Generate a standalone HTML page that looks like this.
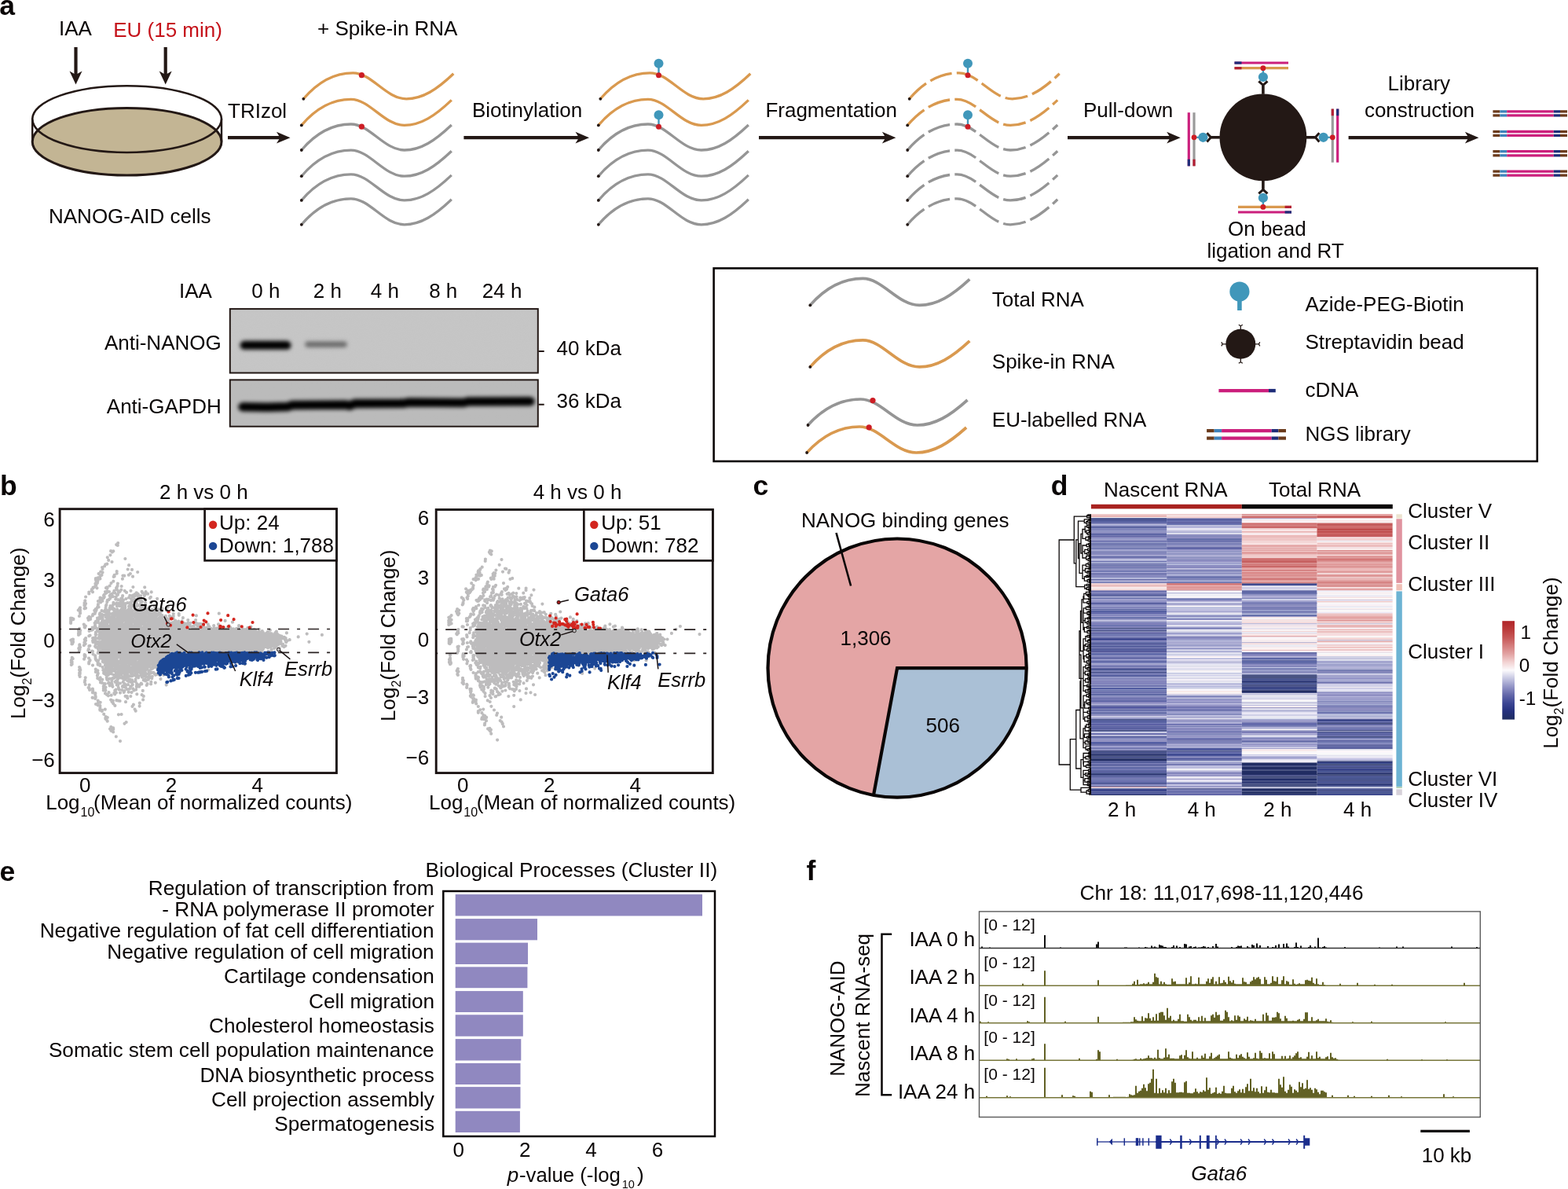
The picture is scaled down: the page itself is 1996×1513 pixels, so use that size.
<!DOCTYPE html>
<html><head><meta charset="utf-8"><title>Figure</title>
<style>
html,body{margin:0;padding:0;background:#fff;}
svg{display:block;}
svg{font-family:"Liberation Sans",Arial,sans-serif;font-size:26px;fill:#0a0606;}
</style></head><body>
<svg width="1996" height="1513" viewBox="0 0 1996 1513">
<defs>
<filter id="blur3" filterUnits="userSpaceOnUse" x="280" y="380" width="420" height="180"><feGaussianBlur stdDeviation="2.4"/></filter>
<filter id="grain" x="0" y="0" width="100%" height="100%"><feTurbulence type="fractalNoise" baseFrequency="0.9" numOctaves="1" seed="7"/><feColorMatrix type="matrix" values="0 0 0 0 0.5  0 0 0 0 0.5  0 0 0 0 0.5  1.6 0 0 0 -0.55"/><feComposite in2="SourceGraphic" operator="in"/></filter>
<filter id="blur1" x="-20%" y="-50%" width="140%" height="200%"><feGaussianBlur stdDeviation="1"/></filter>
</defs>
<rect width="1996" height="1513" fill="#fff"/>
<text x="-0.8" y="19.4" font-size="35.50" font-weight="bold">a</text>
<text x="75.0" y="44.5">IAA</text>
<text x="144.2" y="46.7" fill="#c5121a">EU (15 min)</text>
<text x="404.0" y="44.5">+ Spike-in RNA</text>
<path d="M96.5 60V95.5" stroke="#231815" stroke-width="4.2"/><path d="M96.5 107.5L88.5 90.5L96.5 95.0L104.5 90.5Z" fill="#231815"/>
<path d="M210.7 60V95.5" stroke="#231815" stroke-width="4.2"/><path d="M210.7 107.5L202.7 90.5L210.7 95.0L218.7 90.5Z" fill="#231815"/>
<ellipse cx="161.6" cy="180.2" rx="120.4" ry="42.8" fill="#c3b594" stroke="#231815" stroke-width="3"/>
<ellipse cx="161.6" cy="151.6" rx="120.4" ry="42.4" fill="none" stroke="#231815" stroke-width="2.6"/>
<path d="M41.19999999999999 151.6V180.2M282.0 151.6V180.2" stroke="#231815" stroke-width="2.4"/>
<text x="62.0" y="284.0">NANOG-AID cells</text>
<text x="290.0" y="150.0">TRIzol</text>
<path d="M290 175.2H357.5" stroke="#231815" stroke-width="4.2"/><path d="M369.5 175.2L352.0 167.79999999999998L356.5 175.2L352.0 182.6Z" fill="#231815"/>
<path d="M386.3 125.8C403.3 105.8 424.3 92.8 449.3 92.8C473.3 92.8 491.3 125.8 517.3 125.8C538.3 125.8 556.3 113.8 577.3 93.8" fill="none" stroke="#d9994f" stroke-width="3.3"/><circle cx="386.3" cy="125.8" r="1.9" fill="#231815"/>
<path d="M383.8 159.4C400.8 139.4 421.8 126.4 446.8 126.4C470.8 126.4 488.8 159.4 514.8 159.4C535.8 159.4 553.8 147.4 574.8 127.4" fill="none" stroke="#d9994f" stroke-width="3.3"/><circle cx="383.8" cy="159.4" r="1.9" fill="#231815"/>
<path d="M383.8 191.0C400.8 171.0 421.8 158.0 446.8 158.0C470.8 158.0 488.8 191.0 514.8 191.0C535.8 191.0 553.8 179.0 574.8 159.0" fill="none" stroke="#959595" stroke-width="3.3"/><circle cx="383.8" cy="191.0" r="1.9" fill="#231815"/>
<path d="M383.8 224.2C400.8 204.2 421.8 191.2 446.8 191.2C470.8 191.2 488.8 224.2 514.8 224.2C535.8 224.2 553.8 212.2 574.8 192.2" fill="none" stroke="#959595" stroke-width="3.3"/><circle cx="383.8" cy="224.2" r="1.9" fill="#231815"/>
<path d="M383.8 254.9C400.8 234.9 421.8 221.9 446.8 221.9C470.8 221.9 488.8 254.9 514.8 254.9C535.8 254.9 553.8 242.9 574.8 222.9" fill="none" stroke="#959595" stroke-width="3.3"/><circle cx="383.8" cy="254.9" r="1.9" fill="#231815"/>
<path d="M383.8 285.8C400.8 265.8 421.8 252.8 446.8 252.8C470.8 252.8 488.8 285.8 514.8 285.8C535.8 285.8 553.8 273.8 574.8 253.8" fill="none" stroke="#959595" stroke-width="3.3"/><circle cx="383.8" cy="285.8" r="1.9" fill="#231815"/>
<circle cx="460.4" cy="95.7" r="3.6" fill="#cd1d24"/>
<circle cx="460.4" cy="161.2" r="3.6" fill="#cd1d24"/>
<text x="601.0" y="148.6">Biotinylation</text>
<path d="M590.4 175.2H738" stroke="#231815" stroke-width="4.2"/><path d="M750 175.2L732.5 167.79999999999998L737.0 175.2L732.5 182.6Z" fill="#231815"/>
<path d="M764.3 125.8C781.3 105.8 802.3 92.8 827.3 92.8C851.3 92.8 869.3 125.8 895.3 125.8C916.3 125.8 934.3 113.8 955.3 93.8" fill="none" stroke="#d9994f" stroke-width="3.3"/><circle cx="764.3" cy="125.8" r="1.9" fill="#231815"/>
<path d="M761.8 159.4C778.8 139.4 799.8 126.4 824.8 126.4C848.8 126.4 866.8 159.4 892.8 159.4C913.8 159.4 931.8 147.4 952.8 127.4" fill="none" stroke="#d9994f" stroke-width="3.3"/><circle cx="761.8" cy="159.4" r="1.9" fill="#231815"/>
<path d="M761.8 191.0C778.8 171.0 799.8 158.0 824.8 158.0C848.8 158.0 866.8 191.0 892.8 191.0C913.8 191.0 931.8 179.0 952.8 159.0" fill="none" stroke="#959595" stroke-width="3.3"/><circle cx="761.8" cy="191.0" r="1.9" fill="#231815"/>
<path d="M761.8 224.2C778.8 204.2 799.8 191.2 824.8 191.2C848.8 191.2 866.8 224.2 892.8 224.2C913.8 224.2 931.8 212.2 952.8 192.2" fill="none" stroke="#959595" stroke-width="3.3"/><circle cx="761.8" cy="224.2" r="1.9" fill="#231815"/>
<path d="M761.8 254.9C778.8 234.9 799.8 221.9 824.8 221.9C848.8 221.9 866.8 254.9 892.8 254.9C913.8 254.9 931.8 242.9 952.8 222.9" fill="none" stroke="#959595" stroke-width="3.3"/><circle cx="761.8" cy="254.9" r="1.9" fill="#231815"/>
<path d="M761.8 285.8C778.8 265.8 799.8 252.8 824.8 252.8C848.8 252.8 866.8 285.8 892.8 285.8C913.8 285.8 931.8 273.8 952.8 253.8" fill="none" stroke="#959595" stroke-width="3.3"/><circle cx="761.8" cy="285.8" r="1.9" fill="#231815"/>
<path d="M838.5 95.7V79.7" stroke="#4097ba" stroke-width="2.4"/><circle cx="838.5" cy="80.7" r="6.0" fill="#4097ba"/><circle cx="838.5" cy="95.7" r="3.5" fill="#cd1d24"/>
<path d="M838.5 161.2V145.2" stroke="#4097ba" stroke-width="2.4"/><circle cx="838.5" cy="146.2" r="6.0" fill="#4097ba"/><circle cx="838.5" cy="161.2" r="3.5" fill="#cd1d24"/>
<text x="974.4" y="148.6">Fragmentation</text>
<path d="M966 175.2H1128.4" stroke="#231815" stroke-width="4.2"/><path d="M1140.4 175.2L1122.9 167.79999999999998L1127.4 175.2L1122.9 182.6Z" fill="#231815"/>
<path d="M1157.7 125.8C1174.7 105.8 1195.7 92.8 1220.7 92.8C1244.7 92.8 1262.7 125.8 1288.7 125.8C1309.7 125.8 1327.7 113.8 1348.7 93.8" fill="none" stroke="#d9994f" stroke-width="3.3" stroke-dasharray="29 6.3"/><circle cx="1157.7" cy="125.8" r="1.9" fill="#231815"/>
<path d="M1155.2 159.4C1172.2 139.4 1193.2 126.4 1218.2 126.4C1242.2 126.4 1260.2 159.4 1286.2 159.4C1307.2 159.4 1325.2 147.4 1346.2 127.4" fill="none" stroke="#d9994f" stroke-width="3.3" stroke-dasharray="29 6.3"/><circle cx="1155.2" cy="159.4" r="1.9" fill="#231815"/>
<path d="M1155.2 191.0C1172.2 171.0 1193.2 158.0 1218.2 158.0C1242.2 158.0 1260.2 191.0 1286.2 191.0C1307.2 191.0 1325.2 179.0 1346.2 159.0" fill="none" stroke="#959595" stroke-width="3.3" stroke-dasharray="29 6.3"/><circle cx="1155.2" cy="191.0" r="1.9" fill="#231815"/>
<path d="M1155.2 224.2C1172.2 204.2 1193.2 191.2 1218.2 191.2C1242.2 191.2 1260.2 224.2 1286.2 224.2C1307.2 224.2 1325.2 212.2 1346.2 192.2" fill="none" stroke="#959595" stroke-width="3.3" stroke-dasharray="29 6.3"/><circle cx="1155.2" cy="224.2" r="1.9" fill="#231815"/>
<path d="M1155.2 254.9C1172.2 234.9 1193.2 221.9 1218.2 221.9C1242.2 221.9 1260.2 254.9 1286.2 254.9C1307.2 254.9 1325.2 242.9 1346.2 222.9" fill="none" stroke="#959595" stroke-width="3.3" stroke-dasharray="29 6.3"/><circle cx="1155.2" cy="254.9" r="1.9" fill="#231815"/>
<path d="M1155.2 285.8C1172.2 265.8 1193.2 252.8 1218.2 252.8C1242.2 252.8 1260.2 285.8 1286.2 285.8C1307.2 285.8 1325.2 273.8 1346.2 253.8" fill="none" stroke="#959595" stroke-width="3.3" stroke-dasharray="29 6.3"/><circle cx="1155.2" cy="285.8" r="1.9" fill="#231815"/>
<path d="M1232 95.7V79.7" stroke="#4097ba" stroke-width="2.4"/><circle cx="1232" cy="80.7" r="6.0" fill="#4097ba"/><circle cx="1232" cy="95.7" r="3.5" fill="#cd1d24"/>
<path d="M1232 161.2V145.2" stroke="#4097ba" stroke-width="2.4"/><circle cx="1232" cy="146.2" r="6.0" fill="#4097ba"/><circle cx="1232" cy="161.2" r="3.5" fill="#cd1d24"/>
<text x="1379.0" y="148.6">Pull-down</text>
<path d="M1359 175.2H1490.7" stroke="#231815" stroke-width="4.2"/><path d="M1502.7 175.2L1485.2 167.79999999999998L1489.7 175.2L1485.2 182.6Z" fill="#231815"/>
<circle cx="1607.9" cy="174.8" r="55.4" fill="#231815"/>
<path d="M1607.9 119.80000000000001V108.80000000000001" stroke="#231815" stroke-width="3.6"/>
<path d="M1613.5 103.3L1607.9 108.3L1602.3 103.3" fill="none" stroke="#231815" stroke-width="3"/>
<path d="M1607.9 90V98" stroke="#4097ba" stroke-width="2.2"/>
<circle cx="1607.9" cy="98" r="6.1" fill="#4097ba"/>
<path d="M1571.5 86.7H1640" stroke="#d9994f" stroke-width="3.2"/>
<path d="M1571.5 86.7H1580.5" stroke="#b31f34" stroke-width="3.2"/>
<path d="M1571.5 80H1640" stroke="#cb1f7c" stroke-width="3.2"/>
<path d="M1571.5 80H1580.5" stroke="#1e2d78" stroke-width="3.2"/>
<circle cx="1607.9" cy="86.7" r="3.4" fill="#cd1d24"/>
<path d="M1607.9 229.8V240.8" stroke="#231815" stroke-width="3.6"/>
<path d="M1602.3 246.3L1607.9 241.3L1613.5 246.3" fill="none" stroke="#231815" stroke-width="3"/>
<path d="M1607.9 252V263" stroke="#4097ba" stroke-width="2.2"/>
<circle cx="1607.9" cy="251.8" r="6.1" fill="#4097ba"/>
<path d="M1576 263.4H1644" stroke="#d9994f" stroke-width="3.2"/>
<path d="M1635.6 263.4H1644" stroke="#b31f34" stroke-width="3.2"/>
<path d="M1576 270H1644" stroke="#cb1f7c" stroke-width="3.2"/>
<path d="M1635.6 270H1644" stroke="#1e2d78" stroke-width="3.2"/>
<circle cx="1607.9" cy="263.4" r="3.4" fill="#cd1d24"/>
<path d="M1552.9 174.8H1541.9" stroke="#231815" stroke-width="3.6"/>
<path d="M1536.4 169.2L1541.4 174.8L1536.4 180.4" fill="none" stroke="#231815" stroke-width="3"/>
<path d="M1520 174.8H1532" stroke="#4097ba" stroke-width="2.2"/>
<circle cx="1531.4" cy="174.8" r="6.1" fill="#4097ba"/>
<path d="M1520 143.2V211.3" stroke="#9a9a9a" stroke-width="3.2"/>
<path d="M1520 202.7V211.3" stroke="#b31f34" stroke-width="3.2"/>
<path d="M1513.3 143.2V211.3" stroke="#cb1f7c" stroke-width="3.2"/>
<path d="M1513.3 202.7V211.3" stroke="#1e2d78" stroke-width="3.2"/>
<circle cx="1520" cy="174.8" r="3.4" fill="#cd1d24"/>
<path d="M1662.9 174.8H1673.9" stroke="#231815" stroke-width="3.6"/>
<path d="M1679.4 180.4L1674.4 174.8L1679.4 169.2" fill="none" stroke="#231815" stroke-width="3"/>
<path d="M1684 174.8H1696" stroke="#4097ba" stroke-width="2.2"/>
<circle cx="1684.7" cy="174.8" r="6.1" fill="#4097ba"/>
<path d="M1696.3 138.6V206.7" stroke="#9a9a9a" stroke-width="3.2"/>
<path d="M1696.3 138.6V147.2" stroke="#b31f34" stroke-width="3.2"/>
<path d="M1702.7 138.6V206.7" stroke="#cb1f7c" stroke-width="3.2"/>
<path d="M1702.7 138.6V147.2" stroke="#1e2d78" stroke-width="3.2"/>
<circle cx="1696.3" cy="174.8" r="3.4" fill="#cd1d24"/>
<text x="1563.0" y="299.5">On bead</text>
<text x="1536.4" y="327.5">ligation and RT</text>
<text x="1766.6" y="115.3">Library</text>
<text x="1736.9" y="149.0">construction</text>
<path d="M1716.6 175.2H1870.4" stroke="#231815" stroke-width="4.2"/><path d="M1882.4 175.2L1864.9 167.79999999999998L1869.4 175.2L1864.9 182.6Z" fill="#231815"/>
<path d="M1900.4 141.9H1909.4" stroke="#6b3b1c" stroke-width="3.3"/><path d="M1909.4 141.9H1918.2" stroke="#3d82ba" stroke-width="3.3"/><path d="M1918.2 141.9H1977.8" stroke="#cb1f7c" stroke-width="3.3"/><path d="M1977.8 141.9H1986.0" stroke="#1e2d78" stroke-width="3.3"/><path d="M1986.0 141.9H1995.0" stroke="#6b3b1c" stroke-width="3.3"/>
<path d="M1900.4 146.9H1909.4" stroke="#6b3b1c" stroke-width="3.3"/><path d="M1909.4 146.9H1918.2" stroke="#3d82ba" stroke-width="3.3"/><path d="M1918.2 146.9H1977.8" stroke="#cb1f7c" stroke-width="3.3"/><path d="M1977.8 146.9H1986.0" stroke="#1e2d78" stroke-width="3.3"/><path d="M1986.0 146.9H1995.0" stroke="#6b3b1c" stroke-width="3.3"/>
<path d="M1900.4 167.5H1909.4" stroke="#6b3b1c" stroke-width="3.3"/><path d="M1909.4 167.5H1918.2" stroke="#3d82ba" stroke-width="3.3"/><path d="M1918.2 167.5H1977.8" stroke="#cb1f7c" stroke-width="3.3"/><path d="M1977.8 167.5H1986.0" stroke="#1e2d78" stroke-width="3.3"/><path d="M1986.0 167.5H1995.0" stroke="#6b3b1c" stroke-width="3.3"/>
<path d="M1900.4 172.4H1909.4" stroke="#6b3b1c" stroke-width="3.3"/><path d="M1909.4 172.4H1918.2" stroke="#3d82ba" stroke-width="3.3"/><path d="M1918.2 172.4H1977.8" stroke="#cb1f7c" stroke-width="3.3"/><path d="M1977.8 172.4H1986.0" stroke="#1e2d78" stroke-width="3.3"/><path d="M1986.0 172.4H1995.0" stroke="#6b3b1c" stroke-width="3.3"/>
<path d="M1900.4 192.7H1909.4" stroke="#6b3b1c" stroke-width="3.3"/><path d="M1909.4 192.7H1918.2" stroke="#3d82ba" stroke-width="3.3"/><path d="M1918.2 192.7H1977.8" stroke="#cb1f7c" stroke-width="3.3"/><path d="M1977.8 192.7H1986.0" stroke="#1e2d78" stroke-width="3.3"/><path d="M1986.0 192.7H1995.0" stroke="#6b3b1c" stroke-width="3.3"/>
<path d="M1900.4 197.8H1909.4" stroke="#6b3b1c" stroke-width="3.3"/><path d="M1909.4 197.8H1918.2" stroke="#3d82ba" stroke-width="3.3"/><path d="M1918.2 197.8H1977.8" stroke="#cb1f7c" stroke-width="3.3"/><path d="M1977.8 197.8H1986.0" stroke="#1e2d78" stroke-width="3.3"/><path d="M1986.0 197.8H1995.0" stroke="#6b3b1c" stroke-width="3.3"/>
<path d="M1900.4 218.1H1909.4" stroke="#6b3b1c" stroke-width="3.3"/><path d="M1909.4 218.1H1918.2" stroke="#3d82ba" stroke-width="3.3"/><path d="M1918.2 218.1H1977.8" stroke="#cb1f7c" stroke-width="3.3"/><path d="M1977.8 218.1H1986.0" stroke="#1e2d78" stroke-width="3.3"/><path d="M1986.0 218.1H1995.0" stroke="#6b3b1c" stroke-width="3.3"/>
<path d="M1900.4 223.1H1909.4" stroke="#6b3b1c" stroke-width="3.3"/><path d="M1909.4 223.1H1918.2" stroke="#3d82ba" stroke-width="3.3"/><path d="M1918.2 223.1H1977.8" stroke="#cb1f7c" stroke-width="3.3"/><path d="M1977.8 223.1H1986.0" stroke="#1e2d78" stroke-width="3.3"/><path d="M1986.0 223.1H1995.0" stroke="#6b3b1c" stroke-width="3.3"/>
<rect x="908.6" y="341.4" width="1048.2" height="245.6" fill="none" stroke="#0a0606" stroke-width="2.6"/>
<path d="M1031.3 388.4C1049.4 367.8 1071.7 354.4 1098.3 354.4C1123.8 354.4 1142.9 388.4 1170.5 388.4C1192.8 388.4 1212.0 376.0 1234.3 355.4" fill="none" stroke="#959595" stroke-width="3.7"/><circle cx="1031.3" cy="388.4" r="1.9" fill="#231815"/>
<path d="M1031.3 466.9C1049.4 446.3 1071.7 432.9 1098.3 432.9C1123.8 432.9 1142.9 466.9 1170.5 466.9C1192.8 466.9 1212.0 454.5 1234.3 433.9" fill="none" stroke="#d9994f" stroke-width="3.7"/><circle cx="1031.3" cy="466.9" r="1.9" fill="#231815"/>
<path d="M1028.5 541.0C1046.6 521.0 1068.9 508.0 1095.5 508.0C1121.0 508.0 1140.1 541.0 1167.7 541.0C1190.0 541.0 1209.2 529.0 1231.5 509.0" fill="none" stroke="#959595" stroke-width="3.7"/><circle cx="1028.5" cy="541.0" r="1.9" fill="#231815"/>
<path d="M1027.1 576.0C1045.2 556.0 1067.5 543.0 1094.1 543.0C1119.6 543.0 1138.7 576.0 1166.3 576.0C1188.6 576.0 1207.8 564.0 1230.1 544.0" fill="none" stroke="#d9994f" stroke-width="3.7"/><circle cx="1027.1" cy="576.0" r="1.9" fill="#231815"/>
<circle cx="1111" cy="509.6" r="3.6" fill="#cd1d24"/>
<circle cx="1106.2" cy="543.8" r="3.6" fill="#cd1d24"/>
<text x="1262.8" y="390.3">Total RNA</text>
<text x="1262.8" y="468.9">Spike-in RNA</text>
<text x="1262.8" y="543.2">EU-labelled RNA</text>
<path d="M1577.9 380V395" stroke="#4097ba" stroke-width="5.6"/>
<circle cx="1577.9" cy="371" r="12.6" fill="#4097ba"/>
<text x="1661.4" y="395.5">Azide-PEG-Biotin</text>
<circle cx="1579.3" cy="437.8" r="19" fill="#231815"/>
<path d="M1579.3 419.8L1579.3 414.8M1581.8 413.3L1579.3 414.8L1576.8 413.3" fill="none" stroke="#231815" stroke-width="1.3"/>
<path d="M1579.3 455.8L1579.3 460.8M1576.8 462.3L1579.3 460.8L1581.8 462.3" fill="none" stroke="#231815" stroke-width="1.3"/>
<path d="M1561.3 437.8L1556.3 437.8M1554.8 435.3L1556.3 437.8L1554.8 440.3" fill="none" stroke="#231815" stroke-width="1.3"/>
<path d="M1597.3 437.8L1602.3 437.8M1603.8 440.3L1602.3 437.8L1603.8 435.3" fill="none" stroke="#231815" stroke-width="1.3"/>
<text x="1661.4" y="444.2">Streptavidin bead</text>
<path d="M1551.4 497.1H1615" stroke="#cb1f7c" stroke-width="4.4"/>
<path d="M1615 497.1H1623.8" stroke="#1e2d78" stroke-width="4.4"/>
<text x="1661.4" y="505.0">cDNA</text>
<path d="M1536.1 548.1H1545.7" stroke="#6b3b1c" stroke-width="4.2"/><path d="M1545.7 548.1H1555.1" stroke="#3d82ba" stroke-width="4.2"/><path d="M1555.1 548.1H1618.7" stroke="#cb1f7c" stroke-width="4.2"/><path d="M1618.7 548.1H1627.4" stroke="#1e2d78" stroke-width="4.2"/><path d="M1627.4 548.1H1637.0" stroke="#6b3b1c" stroke-width="4.2"/>
<path d="M1536.1 557.6H1545.7" stroke="#6b3b1c" stroke-width="4.2"/><path d="M1545.7 557.6H1555.1" stroke="#3d82ba" stroke-width="4.2"/><path d="M1555.1 557.6H1618.7" stroke="#cb1f7c" stroke-width="4.2"/><path d="M1618.7 557.6H1627.4" stroke="#1e2d78" stroke-width="4.2"/><path d="M1627.4 557.6H1637.0" stroke="#6b3b1c" stroke-width="4.2"/>
<text x="1661.4" y="560.6">NGS library</text>
<text x="228.0" y="378.6">IAA</text>
<text x="320.3" y="378.6">0 h</text>
<text x="398.8" y="378.6">2 h</text>
<text x="471.8" y="378.6">4 h</text>
<text x="546.2" y="378.6">8 h</text>
<text x="613.8" y="378.6">24 h</text>
<text x="132.9" y="445.2">Anti-NANOG</text>
<text x="135.8" y="526.0">Anti-GAPDH</text>
<text x="708.6" y="451.5">40 kDa</text>
<text x="708.6" y="518.9">36 kDa</text>
<rect x="292.8" y="393.1" width="392" height="81.4" fill="#c6c6c6"/>
<rect x="292.8" y="393.1" width="392" height="81.4" fill="#888" filter="url(#grain)" opacity="0.22"/>
<g filter="url(#blur3)">
<path d="M311 439.3H365" stroke="#050505" stroke-width="11" stroke-linecap="round"/>
<path d="M392 438.3H438" stroke="#5c5c5c" stroke-width="7.5" stroke-linecap="round" opacity="0.85"/>
</g>
<rect x="292.8" y="393.1" width="392" height="81.4" fill="none" stroke="#231815" stroke-width="2"/>
<rect x="292.8" y="483.4" width="392" height="59.3" fill="#bbbbbb"/>
<rect x="292.8" y="483.4" width="392" height="59.3" fill="#777" filter="url(#grain)" opacity="0.35"/>
<g filter="url(#blur3)">
<path d="M309 517.8L340 518.3L366 517.6L372 515.5L440 515L445 516.3L452 513.5L514 513.3L520 512L590 512.5L596 511L675 510.8" fill="none" stroke="#050505" stroke-width="11.5" stroke-linecap="round"/>
</g>
<rect x="292.8" y="483.4" width="392" height="59.3" fill="none" stroke="#231815" stroke-width="2"/>
<path d="M685.6 447H692.7M685.6 514.7H692.7" stroke="#231815" stroke-width="2"/>
<text x="0.0" y="629.5" font-size="35.50" font-weight="bold">b</text>
<svg x="76.1" y="647.7" width="352.29999999999995" height="335.9" viewBox="76.1 647.7 352.29999999999995 335.9" overflow="hidden">
<path d="M162.1 812h0M239.8 805.6h0M260.3 828.6h0M137.6 827.6h0M166.6 781.9h0M329.4 817.6h0M148.3 858.5h0M162.5 820.9h0M334.5 816.1h0M264.4 812.6h0M213.8 831.1h0M242.3 811.5h0M272.5 822h0M194.5 805.5h0M164.3 809h0M298.4 828.9h0M274.1 822.7h0M242.6 810.1h0M304.4 813.4h0M249.8 818.6h0M345.6 817.3h0M179.3 815.2h0M250.7 802.5h0M236.7 808.1h0M210.6 801h0M258.3 799.7h0M185.9 836.3h0M301.2 822.9h0M315.5 816.6h0M162.3 804.6h0M233.4 829.8h0M194.8 823.3h0M151.5 819.6h0M321.8 811.4h0M226 829.7h0M166.5 751.8h0M274.6 810.8h0M178.7 798.8h0M323.1 815.4h0M182 806.3h0M138.8 776.5h0M178.4 832h0M209.1 820.8h0M324.2 819.3h0M279.4 820.1h0M207.8 815.8h0M133.9 812.6h0M169.2 822.9h0M355.4 818.6h0M231.9 827.3h0M278.2 815.1h0M144.4 825.7h0M139 841.5h0M310.8 812h0M257.6 808.9h0M201.5 813.2h0M203.2 822.9h0M152.9 822.4h0M172.1 833.3h0M136.5 802.2h0M309.3 821.1h0M233.3 803.4h0M161.9 814.2h0M288 831.9h0M177.3 770.4h0M146.3 834.8h0M259.6 812.8h0M321.9 818.4h0M137 836.4h0M301.9 809.3h0M176.1 805.2h0M153.7 809.7h0M134.2 814.6h0M198.3 817.3h0M285.6 819.5h0M238.7 822.6h0M312.2 819h0M182 812.5h0M202.8 816.5h0M190.9 807.6h0M344.5 818.5h0M332.5 810.5h0M208.1 810.9h0M227.3 840.3h0M202.6 818.3h0M289.6 801.3h0M140.7 819.7h0M147.6 825.8h0M220.8 824.6h0M188.1 810.9h0M310.6 814.6h0M288.7 813.3h0M249 813.4h0M272.2 823.3h0M278.4 818.1h0M296.7 811.5h0M329.1 820.3h0M167 815.5h0M265.2 809.8h0M165.6 828.9h0M228.7 809.2h0M298 822h0M321.7 822.1h0M292.1 824.5h0M139.4 804.1h0M211.9 823.1h0M170 808.4h0M360 819.5h0M165.7 801.7h0M187.9 828.2h0M211.5 812.4h0M146 819.4h0M316.2 816.6h0M267.2 821.6h0M169.3 818.8h0M239.6 826.2h0M150.4 767.9h0M262.2 802.4h0M185.1 763.4h0M140.3 834.8h0M159.1 821.5h0M251.1 826.3h0M267.4 811.3h0M204.8 809.8h0M268.6 808h0M210.4 807.5h0M162.6 857.9h0M202.9 819.5h0M219.2 785.2h0M325.7 816.7h0M159.2 803.5h0M152.2 825.7h0M252.2 808h0M339.1 813.2h0M324.5 814.4h0M280 810.2h0M147.4 827.4h0M302.3 812.4h0M276.6 814.4h0M165.7 804.7h0M232.9 816.8h0M143.1 863.2h0M301.3 816.9h0M283.8 819.9h0M301.8 821.4h0M292.5 811.1h0M192.8 856.3h0M298.7 814.6h0M188.9 808.8h0M164.3 807.2h0M218.1 804.6h0M239.6 816.2h0M196.7 832.6h0M261.1 805.7h0M260.5 814.3h0M187 811.7h0M264.5 815.9h0M211.5 816.4h0M287.1 808.3h0M197.7 811.2h0M300.5 815.8h0M223 802.3h0M250.6 809.6h0M274.6 813.3h0M243.7 815.3h0M190.7 799.1h0M344.8 820.6h0M154.5 832.7h0M204.8 796.5h0M249.8 817h0M137.6 822.9h0M168.2 786.7h0M300.6 808.2h0M297.4 813.4h0M267.4 809.4h0M323.2 813h0M291.4 815h0M199.4 799.8h0M290.2 813.9h0M217 834h0M167.8 831.8h0M317.5 820.9h0M278.1 807.8h0M289.1 806.8h0M229.6 801.9h0M253.1 810.4h0M146.4 844h0M251 820.2h0M303.9 812h0M281.1 809h0M301.5 811.9h0M239.3 811.4h0M318.6 814.3h0M157.4 800.8h0M317.3 817.9h0M214.3 809.6h0M153.3 826.2h0M263.9 811.4h0M231.1 840.6h0M225.7 811.3h0M164.3 804.7h0M263.4 828.9h0M222.8 812.8h0M245.7 824.1h0M239.9 816.9h0M163.4 833.1h0M242.4 835.1h0M314.3 806.1h0M171.9 813.5h0M131.8 825.9h0M147.6 803.6h0M232 833.3h0M342.9 816.6h0M141.7 797.9h0M350.7 817.6h0M247.2 815.1h0M160.2 792.7h0M223.7 818.8h0M179.9 818.2h0M282.9 816.8h0M248.2 812.9h0M197.1 810.3h0M190.3 827.6h0M315.4 805.3h0M293.7 817.1h0M227.2 825.6h0M221.2 821.1h0M287.7 809.6h0M341.7 814.5h0M150.6 807.9h0M169.2 876.4h0M212.5 814h0M241.6 815.8h0M148.5 849.6h0M144.2 834.9h0M182.6 798.6h0M217.2 798.7h0M288 822.2h0M262 829.1h0M137.8 819.9h0M142 816h0M230.4 823.5h0M326.2 828h0M320 818.2h0M329.5 826.1h0M221.3 827.4h0M289.5 815.2h0M213.1 826.1h0M167.8 783.8h0M255 817.4h0M152.2 824.1h0M272.6 807.2h0M302.8 812h0M326.4 810.2h0M229.7 816.8h0M159.6 839.5h0M323.4 810.2h0M316.1 825.5h0M340.5 815.9h0M258.8 823.2h0M274.7 816.9h0M214.6 818.1h0M174.5 806.6h0M197.9 857.9h0M284.3 813h0M204.8 794.7h0M278.3 803.5h0M240.5 819.5h0M229.8 801.2h0M340.6 818.7h0M170.8 817.7h0M237.5 811.6h0M169.2 841.2h0M331.5 816.1h0M237.7 827.9h0M206.2 802h0M258.8 794.1h0M219.9 819.7h0M161.9 818h0M138.5 778.6h0M218.2 810.8h0M256.6 809.4h0M243.7 828.6h0M322.8 810.9h0M325.5 821.5h0M331.3 813.5h0M235.5 805.3h0M244.8 811.9h0M219.5 839.9h0M220 830.8h0M141.1 813.8h0M300.6 821.5h0M188.3 820.4h0M233.4 829.2h0M227.2 809.7h0M212.8 804.1h0M271.7 819.6h0M131.8 831.1h0M258.4 813.4h0M246.1 829.1h0M315.2 811.5h0M134.2 790.1h0M137.1 782.1h0M259.7 821.4h0M184 809.2h0M147.5 798h0M162 805.7h0M215.1 815.9h0M207.3 822.7h0M252.7 816.8h0M213.2 790.9h0M174.7 845.5h0M255.6 817.2h0M127.5 811.9h0M217.1 828.4h0M203.2 803.6h0M217.6 821.9h0M143.4 789.7h0M250.8 828.7h0M264.8 794.4h0M290.2 808h0M337.1 806.7h0M271.2 821.6h0M228.5 823h0M181.5 841.9h0M320.4 826.5h0M289.4 811.8h0M333 818.4h0M305.5 814.7h0M326.8 807.5h0M162 849.6h0M133.4 806.4h0M177.9 845.3h0M222.4 822.5h0M277.5 820.7h0M227.8 816.2h0M242.7 826.6h0M292.7 813.2h0M148.4 838.9h0M275.7 815.3h0M143 818.2h0M188.9 818.9h0M284.5 805.9h0M221.1 822.7h0M198.5 829.9h0M307 808.4h0M194.4 834.6h0M138.4 830.2h0M188.6 815.4h0M135.3 810.3h0M303.2 813.7h0M160.7 847.9h0M342.9 819.2h0M181.1 856.9h0M200.9 852.4h0M257 828h0M201.5 810.6h0M215.9 821.9h0M156.4 863.6h0M217.9 819.5h0M136.6 820.7h0M183.4 780.2h0M325 811.1h0M195.6 807.5h0M193.5 780.7h0M275.8 810h0M319 820.8h0M198.9 838.5h0M215.4 794h0M282.9 800.9h0M299.2 804.8h0M262.6 801.3h0M173.6 764.4h0M174 787.7h0M291.9 817h0M281.3 815.7h0M322 815.8h0M296.5 817.1h0M224.2 823.7h0M163.2 825.2h0M320.6 805.2h0M279 798h0M255.2 808.4h0M276.3 822.5h0M217.1 827.3h0M208.5 816.9h0M255 813.4h0M281.9 812.8h0M331.3 804.8h0M311.1 810.2h0M214.6 808.5h0M329 809.4h0M219 821.7h0M153.8 785.4h0M230.3 832.2h0M243.3 826h0M302.7 805.9h0M317.8 809.8h0M263.4 822.3h0M265.8 802.8h0M167.5 822.6h0M308.1 805.1h0M175.2 815.3h0M245 820.7h0M204.6 829.2h0M268.5 819.6h0M261.6 800.3h0M242.5 804.6h0M204.8 792.7h0M240.8 820h0M214.5 819.7h0M320.7 825.2h0M232.4 818.8h0M235 817.7h0M191 856.7h0M189.9 823.3h0M336.2 823.4h0M315.7 808.3h0M258.9 817h0M345.4 816.3h0M170.2 813.4h0M332.6 814.9h0M294.9 806.8h0M253.6 822.8h0M281.8 811.3h0M284.6 816.2h0M266.8 814.2h0M184.5 802.3h0M135.3 790.3h0M275.3 825.3h0M234.9 823h0M192.1 870.5h0M304.6 817.8h0M348 813.1h0M322.3 803.6h0M169.2 847.6h0M170.5 806.4h0M184.5 798.5h0M212.4 846.2h0M159.1 810.5h0M167.2 776.4h0M134.4 808.9h0M330.6 814.9h0M212.2 830.5h0M265.2 821.5h0M230.9 795.1h0M216.7 800.2h0M247 807.3h0M154.9 815.2h0M183.3 851.2h0M201.4 833.5h0M204.8 815.2h0M255.1 804.9h0M206.5 774.4h0M205.3 821.8h0M307.5 805.4h0M132.1 800.9h0M129.2 822.6h0M145 820.4h0M315 822h0M266.7 807h0M285.7 802.1h0M337.3 815.9h0M182.3 816h0M327.4 810.1h0M187.5 799.8h0M243.7 823.4h0M276.1 810.6h0M188.7 787h0M235.4 806.8h0M142.1 841.4h0M197.1 813h0M345.7 809.8h0M324.1 813h0M256.3 824.2h0M297.9 825.8h0M323.3 819.1h0M206.3 824.6h0M229.7 836.9h0M246 812.2h0M278.6 809.5h0M274.2 812.9h0M141 827.9h0M327.8 818.3h0M343.2 821.9h0M242.3 818.4h0M303.1 824.4h0M321.8 806.4h0M227.4 793.9h0M204 839.8h0M264.8 808.3h0M310.9 810.7h0M282.3 821.6h0M264 807.8h0M341.4 813.4h0M152.7 790.5h0M155.9 833.6h0M250.3 824.5h0M336.4 816.3h0M277.2 816.6h0M201.6 808h0M157.3 818.6h0M229.7 814.5h0M236.1 806h0M233.7 820.6h0M263.9 821.1h0M194.1 796.5h0M157.2 828.4h0M209.8 822.9h0M331.2 807.3h0M169.2 858.2h0M194.9 806.5h0M328.9 812.7h0M209.5 829.7h0M142.2 803.2h0M320.2 807.7h0M186.4 810.6h0M173.9 835.9h0M288.7 803.4h0M349.8 814h0M337.7 810.7h0M290.8 813.3h0M326.1 813.4h0M250.5 827.9h0M165.9 795.6h0M311.5 808.1h0M219.3 805.6h0M202.2 814.2h0M240.2 836.8h0M139.3 832.8h0M134.4 816.7h0M192.2 831.4h0M259.1 811.5h0M290.2 810h0M304.8 824.2h0M332.6 823.9h0M287 809.1h0M257.4 803.4h0M150.9 817.6h0M146.2 802.5h0M292.4 807.9h0M178.8 796.7h0M298.7 819.7h0M130 821.6h0M252.3 818.2h0M228.6 832.7h0M149.2 802.8h0M191.5 797.5h0M201.1 819h0M209.1 842.8h0M281.3 808.7h0M171 858.9h0M228.7 818h0M261.3 807.3h0M159 793.8h0M176.4 793.9h0M182.7 781h0M170 796h0M149.8 818.8h0M180.4 814h0M183.3 833h0M235.8 815h0M269.4 822.8h0M212.9 818.6h0M171.2 850.6h0M154.2 775.9h0M191.9 806.3h0M171.7 810h0M316.4 822.2h0M283.3 814.2h0M179 829.4h0M139.6 813.8h0M227.1 820.1h0M212.7 829.1h0M151.6 814.9h0M190.1 812.3h0M253.5 804.8h0M243.4 813.1h0M158.6 829.1h0M253.1 812.2h0M345.3 822.8h0M344.2 812.6h0M257.5 816.4h0M279.4 812.2h0M163.3 818.7h0M260.4 823.7h0M201 818.3h0M168.5 815.5h0M130.6 807.9h0M312.5 813.5h0M283.4 822h0M290.7 824.6h0M197.2 808.6h0M223.5 837.2h0M173 806.4h0M260.4 812.3h0M296.3 819h0M330.7 817.9h0M191.3 828.1h0M280.2 814.2h0M247.3 811.9h0M157.9 830.9h0M248.1 820.5h0M248.4 809.7h0M209.4 811.9h0M282.2 819.1h0M236.2 824.5h0M221.5 803.1h0M158.5 823.3h0M196 815.6h0M342 808.6h0M316.2 813.3h0M316.9 809h0M182.3 820h0M194.1 787.5h0M201 809.1h0M336.5 806.4h0M213.1 811.8h0M286.2 800.4h0M281.4 814.7h0M181.3 805.2h0M205.7 821.2h0M157.9 818.9h0M143.3 796.3h0M266.5 813.1h0M193.6 775.9h0M309.8 816.5h0M138.8 787.5h0M191.9 759.8h0M169.1 837.6h0M210.1 806.6h0M219 792.7h0M312 827h0M261 815.7h0M218 814.6h0M302.6 804.4h0M326.1 822.2h0M262.3 812.5h0M192.1 783.3h0M293.3 819.4h0M300.7 815.2h0M182.9 829.3h0M227.4 823.9h0M319.1 815.6h0M188.2 814.3h0M303.8 822.3h0M247.7 829.4h0M182.4 803.8h0M215.1 811.6h0M149.8 816.2h0M285.5 817.9h0M137.6 820.3h0M199.9 788.6h0M294.2 821h0M178.4 782.6h0M160.6 795.1h0M289.6 821h0M256.5 811.1h0M218.4 816.2h0M159.8 820.3h0M160.6 842.5h0M142.1 806h0M171.7 824.9h0M188.2 828.1h0M267 828.1h0M258.1 818.1h0M305.6 823.1h0M154.4 807.5h0M217.8 825h0M150.5 801.8h0M150.4 787.9h0M147.4 810.1h0M156.5 852.1h0M218.1 813.5h0M293 834.8h0M195.9 833.4h0M288.7 810.4h0M185.6 832.5h0M197 813.6h0M234.3 807.8h0M149.4 806h0M229.8 802.7h0M256.7 823h0M306.1 816.4h0M144.8 811.7h0M254 826.2h0M255.7 827.3h0M143.6 853.2h0M318.3 816.9h0M194.9 809.1h0M247.7 816.4h0M260.2 829.7h0M185.3 852.4h0M272.3 807.9h0M255.4 814.4h0M265.4 833h0M250.1 829.6h0M207.2 829.5h0M268.2 814.3h0M235.8 810.7h0M230.5 811.4h0M181.2 844.6h0M253.6 823.5h0M274 821.3h0M161.4 792.6h0M199.2 799.6h0M146.2 805.9h0M151.1 812.9h0M184.7 813.9h0M229.5 792.3h0M230.4 808.4h0M138.8 833.1h0M334.3 817.2h0M184.9 860.7h0M261.9 806.4h0M183.1 841.1h0M259.1 814.1h0M210.5 837.8h0M203.6 809.9h0M234.9 812.1h0M193 804.7h0M153.6 811.2h0M189.8 820.1h0M261.5 809.4h0M222.9 814.8h0M202.1 802.5h0M155.1 828h0M157.9 817.5h0M243.3 811.2h0M264.6 818.5h0M153.3 848.2h0M227.3 819.4h0M262.7 808.6h0M218.7 810.4h0M161 835h0M129.6 809.4h0M247.5 806.8h0M245.4 814.3h0M141.6 831.9h0M199.2 826.9h0M221.4 810.6h0M224.7 823h0M269.6 821.8h0M221.4 819h0M159.5 824.4h0M266.2 814.9h0M229 828.9h0M201.1 797.7h0M193.2 765.8h0M244.2 823h0M188.6 798.1h0M218.7 814.2h0M332.7 810.2h0M189.9 799.9h0M244.2 804.7h0M322.6 806.1h0M291.6 805.6h0M225.7 824.3h0M167 771.6h0M286.6 816.9h0M340.5 811.2h0M204.1 817.3h0M317.6 819.9h0M182.3 804.5h0M354.6 815.4h0M204.8 808.1h0M358.5 809.6h0M340.8 809.6h0M163.6 793.5h0M188.9 778.1h0M333.5 821.1h0M301.9 815.4h0M225.6 833.4h0M292.6 806.4h0M323.3 813.6h0M199.7 818.7h0M193.3 836.4h0M205.7 836.6h0M136.2 788.8h0M249.2 826h0M171.6 832.4h0M290 818.3h0M162 801.8h0M179.8 820.3h0M193.2 832.6h0M290.9 826.9h0M288.5 807.2h0M276.3 812.1h0M173.7 754.3h0M314.7 812h0M221.9 819.8h0M269.9 818.3h0M147.8 835.8h0M212.3 791.3h0M155.5 761.3h0M286.8 811h0M208.2 789h0M276.4 819.7h0M217.1 806.1h0M241.9 808.4h0M184.4 842.8h0M279.7 829h0M303.5 818.6h0M138.2 790.3h0M237.6 809h0M208.8 840.3h0M254.5 810.6h0M151.5 834.2h0M286 834.2h0M223.4 789.9h0M134.6 827h0M237.4 799h0M307.6 811.4h0M291.7 796.4h0M174.2 814.9h0M201.3 836.2h0M287.3 815.6h0M224 801.3h0M192 804.1h0M310.2 820.5h0M211.2 810.6h0M249.9 806h0M329.5 804h0M181.8 850.4h0M319.3 813.6h0M277.2 818h0M256.4 836h0M177.7 788.1h0M252.5 820.7h0M274.6 820.7h0M294.4 813.8h0M196.4 798h0M151 794.3h0M160.4 818.1h0M245 798.3h0M205.9 829.9h0M179 846.6h0M278 794.4h0M275.6 823.2h0M290.5 802.8h0M210.9 814.5h0M288.3 823.4h0M310.5 802.5h0M133.3 820.2h0M340.7 813.9h0M308.1 823.3h0M136.1 826h0M145.4 785h0M256.2 812.2h0M306.2 824.4h0M185.6 753.2h0M200.3 781.8h0M221 814.7h0M261.5 832.9h0M353.8 811.4h0M174.4 849.1h0M278.2 815.7h0M222.9 811.7h0M220.2 795.6h0M190.7 780.6h0M233.1 798.8h0M254.9 819h0M218.6 820.3h0M241.2 810h0M312 817.7h0M216.5 833.8h0M338.5 817.4h0M172.2 855.4h0M142.1 808.4h0M324.7 817.1h0M192.4 779.7h0M167.4 809.4h0M210.9 804.4h0M312 814.4h0M197.7 841.8h0M163.1 834.6h0M181.7 822.2h0M335 810.8h0M225.8 802.4h0M212.3 797.9h0M242.1 823.6h0M303.9 803.6h0M210.1 826.4h0M186.1 814.4h0M194.5 825.5h0M175.5 809.2h0M191.7 799.1h0M309.3 810.1h0M299.6 824.9h0M158.7 815.7h0M209.8 834.7h0M285.5 828.3h0M186.4 828.6h0M297 804.3h0M305.3 813.6h0M221.4 825.1h0M186 799.4h0M138.9 808.9h0M265.8 812.3h0M266.4 797.4h0M126.9 781.7h0M244 818.3h0M137.6 809h0M164.2 843.8h0M145.1 812.9h0M216.9 824.3h0M316.2 824.3h0M147.4 781.4h0M178.4 849.4h0M331.8 822.4h0M191.1 843.6h0M218.9 817.7h0M126.3 824.4h0M197.1 827.2h0M261.7 815.1h0M270 819h0M139.2 819.5h0M182.2 823.6h0M186.6 819.7h0M315.6 817.8h0M195.3 795.7h0M170 814.9h0M292.7 801.3h0M312.2 801.1h0M275.4 814.7h0M235.2 825.9h0M251 811.7h0M259.1 819h0M192.5 793.6h0M294 819.5h0M133.8 804.5h0M333.3 830.8h0M189.2 836.8h0M242.2 813.9h0M326.5 817.2h0M237.7 813.2h0M280.4 819.8h0M344.6 810.1h0M164.7 846.9h0M166 791h0M293.2 816.2h0M308.2 812.1h0M164.9 829.7h0M149.1 827.7h0M204.6 805.5h0M232.1 810.4h0M267.8 822.5h0M318.3 824.6h0M159.7 834.3h0M282.6 806.5h0M295.9 808.1h0M223.7 816.1h0M168.5 811.3h0M234.7 820.2h0M214 814h0M218.8 802.3h0M270.4 827.3h0M165.2 789.5h0M145.4 793.8h0M269.7 801.3h0M298.9 827.1h0M264.5 806.5h0M297.4 808.8h0M314.2 822.3h0M342.4 816.8h0M288.3 820.2h0M150.4 785.2h0M139.6 773.8h0M328.2 822.9h0M186.5 804.9h0M200.8 821.4h0M163.7 810.7h0M267 827.3h0M137.9 858.8h0M300.7 823.8h0M199.4 793.6h0M289 823.7h0M325.2 810h0M225 807.3h0M265 818.8h0M312.9 807.8h0M189.7 817.9h0M130.4 813.1h0M264.6 824.8h0M146.6 819h0M250.1 811.6h0M257.9 814.6h0M198.2 827.3h0M319.7 815.9h0M186.9 838.8h0M165.6 809.6h0M201.7 824.8h0M207.6 810.1h0M319.2 812.4h0M271.4 810.4h0M160.7 811.6h0M218.8 810.4h0M156.2 839.7h0M153.9 812.1h0M240 814.1h0M188 780.6h0M289.6 804h0M343.9 801.8h0M195.2 815.1h0M201.8 846.3h0M146.3 807.3h0M168.4 843.4h0M289.7 828.5h0M165.3 802.9h0M259.3 828.1h0M180.1 823h0M196.7 800.1h0M182.1 832.5h0M211 840.9h0M282.4 807.8h0M208.1 824.6h0M229 813.7h0M279.6 804.8h0M333.7 814.9h0M221.8 803.8h0M353.7 807.7h0M280.1 816.3h0M291.1 819.1h0M269.7 802.7h0M198 815.2h0M302.8 808.8h0M327.2 819.6h0M298.9 812.5h0M153.7 794.9h0M288.5 817.7h0M235.2 815.2h0M187.5 816.2h0M138.7 800.8h0M331.2 809h0M290 818.6h0M274.2 801.6h0M232.6 815.6h0M241.2 813.6h0M256.4 825.3h0M199.9 857.9h0M161.9 823.2h0M175.1 828.8h0M329.8 814.6h0M239 826.1h0M250.6 813.2h0M142.9 814.7h0M334.2 818.7h0M247.7 830.9h0M346.3 813.1h0M171.2 790.6h0M190.8 796.5h0M215.9 824.2h0M236.2 803.4h0M214.3 789.1h0M188.4 825h0M223.2 804.6h0M177.8 894.7h0M142.1 830.6h0M148.1 794.4h0M249.9 783.4h0M176 836.7h0M320.1 837.5h0M162.6 840.8h0M171.9 849.2h0M170.7 822.4h0M257.4 825.9h0M161.4 807.9h0M224.8 798.3h0M131.8 813.7h0M190.6 810.6h0M324.9 808.1h0M208.7 803.8h0M143.6 863.1h0M165.5 796.1h0M295.4 814.3h0M234.3 797.4h0M186.8 829.9h0M162.1 809.8h0M183.4 832.8h0M178.4 800.3h0M267.5 815.4h0M231.6 818.1h0M137.8 789.2h0M334 809.8h0M191.8 783.1h0M307.9 815.4h0M270.7 814.4h0M286.5 812.5h0M228.1 829.7h0M166.3 865.5h0M228.1 841.5h0M349.5 809h0M217.7 815.7h0M151.6 797.9h0M190.1 844.8h0M229.3 793h0M184.6 837.3h0M225.7 828.9h0M216.4 841.1h0M299.9 815.3h0M326.1 813.9h0M338.4 812.6h0M137.2 813.3h0M322.3 829h0M224 830.9h0M207.5 820.9h0M220 833.9h0M314 814h0M289.6 805.3h0M185.4 829.6h0M149.5 836.7h0M141.3 856.4h0M167.3 795.3h0M312.1 829.2h0M173.4 822.8h0M262.2 816.1h0M210.3 829.4h0M177.7 829.7h0M299.5 822h0M354.6 820h0M204.4 823.4h0M190.8 789.8h0M149.7 800h0M179.3 833.8h0M136.8 847.2h0M189.1 848.7h0M285.4 822.3h0M159 770.9h0M269.2 817.2h0M198.6 847.7h0M184.5 806h0M236.7 821.6h0M229.5 804.8h0M159.6 796.3h0M252.9 810.1h0M150.9 814.6h0M257.2 798.7h0M203.5 793.5h0M189.6 812.9h0M327.5 821.5h0M138.1 812h0M192.5 807.2h0M247.6 799.2h0M144 833h0M137.8 828.2h0M194 821.6h0M170.7 801.5h0M340.8 804h0M332.1 822.8h0M256.1 819.7h0M198 820.4h0M197.4 805.4h0M305.7 808.7h0M182.8 791.7h0M172.7 793.6h0M232.7 841.7h0M172.4 784.5h0M203.4 835.4h0M195.6 830.1h0M322 808.9h0M234.5 795.9h0M327.5 807.2h0M197 838.4h0M159.1 859.1h0M260.8 820.9h0M144.6 801.1h0M233.5 824.6h0M264 817.5h0M293.9 811.2h0M322.1 825.9h0M179.1 763.7h0M315.1 820.7h0M239.3 798.6h0M264.5 825.9h0M199.8 796.6h0M130.5 796.6h0M307.2 812.8h0M272.3 829.3h0M283.5 813.6h0M161.2 825.6h0M265.1 806.4h0M272.2 799.7h0M205.7 822.6h0M284.2 818.8h0M279 812.2h0M313 811.8h0M143.7 826.7h0M273.4 809.1h0M214.7 801.2h0M155.7 787.6h0M235.6 810.3h0M156.9 848.5h0M178.7 788.6h0M278.9 823.3h0M152.8 828.9h0M279.1 818.9h0M263.2 819.4h0M303.2 818.2h0M177.9 827.3h0M238.9 832.3h0M301 804.6h0M216.6 810.7h0M138.7 784.2h0M229.3 820.1h0M208.5 831.3h0M217.5 839.6h0M299.4 810.8h0M272.2 814.1h0M305.8 817.3h0M254.2 807.1h0M169.9 811.9h0M197.2 837.6h0M127.6 832.2h0M189.6 853.5h0M272.1 812.9h0M215.5 802h0M167.6 812.5h0M251.3 799.2h0M143.7 848.1h0M210.5 840.1h0M230.2 830.7h0M156.5 839.1h0M319.3 809.5h0M305.8 806.5h0M206.1 795.1h0M233.1 822.7h0M224.9 804.4h0M249.1 789h0M247.2 832.9h0M230.6 819.7h0M155.8 819.5h0M183.3 825.8h0M163.9 813.7h0M177.3 843.5h0M304.7 808.1h0M160.5 782.7h0M199.8 828.9h0M325.1 824.7h0M222.7 838.3h0M293.3 817.9h0M182.5 801.9h0M325.5 816.8h0M204.1 830.9h0M220.8 781.1h0M157.8 814.4h0M269.3 813.2h0M265.7 815.8h0M126.5 809.6h0M305.6 824.8h0M218.9 835.8h0M149 799.7h0M163 804.9h0M150.1 820.1h0M223 809.3h0M304.6 806.2h0M145.3 839.3h0M221.2 801h0M220.2 792.2h0M219.7 799.2h0M245.4 819.5h0M247 809.9h0M210.4 824.7h0M170 850h0M341 824.5h0M207.9 801.2h0M186.4 816.8h0M197.4 830.4h0M208.8 819.4h0M348.9 814h0M176.5 775.5h0M214.2 798.3h0M151.4 856.1h0M226.7 813.7h0M172.7 814.8h0M169.9 831.3h0M136.1 817.7h0M354.6 813.6h0M153.3 766.7h0M319.8 822.7h0M213.4 794.5h0M339.5 819.2h0M272 817.9h0M223.2 807.9h0M283.7 809h0M172.1 858.9h0M283.3 811.5h0M350.1 806.1h0M300.1 806.2h0M233.9 819.7h0M252.3 796.6h0M293.8 804.1h0M266.4 824h0M148.5 809.5h0M193.9 840.6h0M182.9 809.6h0M203.6 845h0M305.9 834.6h0M162.3 843.7h0M190.5 841.3h0M142.6 828.8h0M288.7 807h0M203.9 813.6h0M221.6 828.9h0M206.5 843.5h0M196.7 801.8h0M284.2 825.8h0M209.6 815h0M241.4 805.3h0M205.9 812h0M252.1 814.4h0M203.2 833.8h0M231.2 822.4h0M130.8 788.9h0M133.2 814h0M359.5 821.9h0M274.2 805h0M351.4 821h0M296.4 816.3h0M181.8 878.9h0M154.5 813.6h0M133.5 835.4h0M321.5 805.5h0M326.2 812h0M197.4 820.9h0M193.7 829h0M346.8 816.7h0M319.9 811.5h0M293.2 821.6h0M227.3 829h0M347.9 809.9h0M254.1 821.6h0M345.3 814h0M142.5 819.8h0M300.4 819.4h0M309 819.3h0M140 822.6h0M315.6 806.5h0M224.4 812.8h0M180.1 815.2h0M178.7 810.2h0M304.1 809.7h0M148.9 832h0M326.9 824.3h0M133.9 846.4h0M184.9 795.4h0M243 834.3h0M173.2 789.7h0M168.4 803.4h0M233.5 833.5h0M230.6 805.6h0M181.8 835.9h0M197.6 789.9h0M161.4 820.5h0M134.1 794.1h0M234.4 829.7h0M335.6 813.3h0M132.4 800.7h0M227.1 799h0M147.7 855.8h0M312.7 811.3h0M244.5 837.4h0M286.6 816.7h0M222.8 789.6h0M198.9 845.6h0M207.1 789h0M230 808.8h0M246.4 810.4h0M264.6 801.3h0M274.8 807.1h0M253.2 800.9h0M159.5 813.7h0M225.3 813.8h0M209.5 804.1h0M216.6 813.1h0M174.9 822.5h0M254.3 821.9h0M331.4 819.6h0M344.4 816.5h0M181.1 799h0M160.1 816.1h0M287.6 818.6h0M268.9 810.4h0M204.3 781.9h0M236.1 815.7h0M291.7 808.8h0M199.4 795.3h0M172 781.3h0M197.1 848.9h0M333.2 812.6h0M250.5 817h0M197 826.1h0M166.2 873.7h0M147.9 836.4h0M262.8 809.9h0M231.4 825.5h0M353.5 820.1h0M254.1 816.1h0M208.9 810h0M152.8 831.7h0M292.3 814h0M318.7 804.6h0M155.2 845.8h0M301.3 809.2h0M222.4 796.3h0M222.4 820.2h0M225 828h0M252.4 838.4h0M275.1 818.4h0M339.1 820.2h0M254.3 809h0M134.8 829h0M176.5 797.4h0M188.8 803.9h0M180.7 802.4h0M254 807.3h0M306.5 818.1h0M148.9 808.3h0M187.6 813.8h0M239.4 821.7h0M142.3 866.3h0M165.5 817.5h0M219.9 823.6h0M323.7 807.7h0M263.1 798.7h0M189.7 822.1h0M159 799.8h0M161.4 818.8h0M149.6 811.5h0M277.2 807.4h0M212.1 821.3h0M246.9 817h0M260.8 799.2h0M167.1 842.7h0M179.4 815h0M141.4 807.5h0M181.4 832.2h0M203.4 811.9h0M272.6 820.8h0M282.4 824.6h0M228.2 815.3h0M265.9 811.2h0M250.7 822.8h0M182.3 840.4h0M267.2 808.2h0M135 839.4h0M174.6 804.4h0M274 813.8h0M293.8 812.2h0M190 792.9h0M348.9 816h0M325.1 801.7h0M151 823.9h0M154.1 836.8h0M181.1 829.6h0M232.3 798.2h0M131.9 824.2h0M278.3 810.5h0M216.7 814.5h0M136.1 816.6h0M293.4 809.5h0M156.1 822.3h0M348.5 810.5h0M290.5 816.6h0M278.2 826h0M308.9 811.9h0M159.7 826.5h0M321.7 823.3h0M167.9 769.8h0M152.3 812h0M156.9 845.1h0M211.4 795.3h0M155.1 791.1h0M236.7 822.9h0M268.3 815.7h0M276 803.8h0M297.3 819h0M227.5 830.1h0M154.7 810.9h0M280 808.2h0M173.1 851.7h0M243.3 821.5h0M254.6 832.2h0M173.4 825.2h0M197.1 806.8h0M204.1 844.5h0M229.1 797.7h0M280.1 824.9h0M213.9 823.6h0M182.5 784.8h0M147.1 838.9h0M205.5 826.5h0M193.7 819.7h0M298.7 834.7h0M161 781.4h0M292.4 804.8h0M179.4 812.1h0M206.6 805.6h0M191.2 845.2h0M137.6 842.2h0M143.4 873.8h0M243.1 808h0M238.1 821h0M133.4 831.7h0M131.5 835.7h0M283.4 825.3h0M177.9 825.6h0M192.4 812.3h0M177.8 839.6h0M221.7 831.6h0M269.9 811.9h0M183.1 834.2h0M135.4 794.9h0M175.4 847.8h0M146 804.4h0M156 816.1h0M297.3 810.3h0M175.2 826.2h0M294.2 815.9h0M342 806.2h0M248.4 808.8h0M200.1 843.6h0M169.9 804.8h0M208 829.9h0M233.8 831.3h0M175.1 853.4h0M199.4 792h0M161.4 793.5h0M218.6 812.8h0M287.5 815.2h0M253.7 826.9h0M129 807.3h0M225.2 819.4h0M227 831.6h0M284.6 807.8h0M187.5 813.3h0M227.5 802.7h0M141.4 785.2h0M184.9 812.7h0M219.2 825.4h0M246.4 826.3h0M153.8 797.9h0M304.6 801.6h0M206.5 807.8h0M147.4 846.3h0M166.3 803.6h0M171.1 815.3h0M308 815.8h0M164.9 808.6h0M350.3 818.9h0M189.9 858.3h0M210.7 835.2h0M185.6 826.2h0M266.3 818.3h0M147.3 811.8h0M244.8 824.1h0M170.2 833.9h0M212.5 822.2h0M205.8 846.7h0M318 825.8h0M245.3 828.8h0M171.7 819.4h0M350.2 820.6h0M297 818h0M249.9 820.1h0M201.6 791.1h0M320.9 817.8h0M216.7 829.3h0M347.3 817h0M175 827.7h0M215.6 794.8h0M201.3 775.4h0M176.7 813.7h0M259.3 826.2h0M226.8 818.2h0M296.6 821.7h0M203.6 830.3h0M198.1 798.3h0M332.9 817.4h0M134.5 833.6h0M259.9 807.6h0M195.6 783h0M322.5 817.6h0M329.2 815.8h0M232.6 815h0M210 847.3h0M206.3 792.6h0M135.2 821.8h0M309.5 813.8h0M233.3 813h0M266.5 830.3h0M281.1 818.3h0M198.6 809.3h0M206.5 828h0M130.4 803.6h0M260.9 811.8h0M310.3 818.2h0M216.2 797.6h0M149.5 820.6h0M299.2 806.4h0M250.3 821.9h0M194.8 842.8h0M219.8 795.9h0M295.5 809.1h0M199.1 807.8h0M249.5 794.6h0M194.2 835.6h0M205.8 839.7h0M165.6 816.9h0M184.8 789h0M315.4 798.8h0M339.7 807.7h0M163.6 790.5h0M352.2 811.7h0M209.3 812.6h0M362.9 813.9h0M194.8 797.2h0M235.5 827.7h0M191.2 836.4h0M290.8 810.5h0M250.3 815.8h0M338.9 809.7h0M196 848.3h0M261.8 824.2h0M151.4 841.7h0M252.4 803.1h0M213.4 836.9h0M243.7 819h0M276.6 824.4h0M279.3 823.8h0M296 821.4h0M178.4 845.4h0M140 781.1h0M149.7 784.7h0M232.9 837.9h0M339.8 815.8h0M229.2 806.1h0M328.3 811.4h0M198.3 802.1h0M165.3 852.7h0M221.3 796.1h0M340.4 817h0M247.6 819.2h0M216.1 802.9h0M225.1 818.4h0M200.1 840.9h0M151.5 808.9h0M336.2 821.1h0M156.2 800.9h0M297 816.3h0M136.1 815.2h0M361.9 810.9h0M231.3 823.3h0M248.6 813.8h0M274.9 803.1h0M318.6 804h0M165.1 783.5h0M152.9 780.4h0M157.3 768.5h0M332.7 816h0M243 814.7h0M171.1 834.2h0M246.4 796.6h0M288.8 826.9h0M302.2 825.5h0M233 799.9h0M248.1 805.2h0M127.8 817.6h0M152.3 862.2h0M181 843h0M149.9 806.6h0M282.4 817h0M219 805.9h0M182.1 839.1h0M336.7 811.4h0M207.2 813.9h0M161 839.8h0M237.9 805.8h0M158.5 808h0M183.4 790.5h0M169.3 859.7h0M285.9 805h0M220.7 818.4h0M175.9 816.7h0M233 824.9h0M335.7 822.1h0M159.9 803.2h0M187.7 786.5h0M284.9 820h0M335.2 820.7h0M251.4 801.7h0M199.3 832.3h0M166 849.9h0M192.8 837.8h0M305.1 827.1h0M187.3 820.1h0M169.7 838.6h0M169.4 854.5h0M256.5 805.3h0M184.6 857.1h0M280.5 817.1h0M155.3 806.3h0M334.1 824h0M321.9 814.2h0M260.8 831.4h0M185.5 807.5h0M262.1 827.8h0M259.2 799.1h0M251.8 819.6h0M205.1 852.9h0M316.6 815.1h0M310 808.8h0M237.7 819.3h0M301.4 813.3h0M177.8 871.4h0M164.8 832.8h0M286.2 823.9h0M196.3 820h0M171.7 820.8h0M179.2 758.3h0M163.2 823.1h0M166.6 798.9h0M143.1 789.1h0M224.3 842h0M174.1 870h0M144.3 829.5h0M177.4 834.6h0M159.1 769.3h0M350.1 823.9h0M307.1 819.5h0M195.6 786.1h0M211.9 830.2h0M272.9 812h0M234.3 809.7h0M164.1 855h0M245.6 815.6h0M276.4 829.8h0M155.8 778.2h0M188.7 799.8h0M284 826.5h0M311.1 824.9h0M180.5 823.7h0M258.8 804.4h0M148.9 843.7h0M260.2 819.4h0M260.5 834.7h0M205.8 834.3h0M177 778.3h0M150 778.8h0M213.9 821.8h0M174.9 790.8h0M179.2 804.8h0M146.1 797h0M218.2 835.9h0M132.8 813.1h0M141.8 799.5h0M135 852.4h0M235.5 832.8h0M148.4 821.9h0M192.5 849.9h0M234.1 811.1h0M217.4 808h0M145.9 826.2h0M347.9 812.8h0M141.3 848.6h0M263.9 813.8h0M316.9 802h0M152.5 786.2h0M142.3 822.1h0M191 801.2h0M187.1 794.9h0M202.7 789.7h0M144.3 809.9h0M161.9 803.6h0M285.8 821.5h0M264.6 803.9h0M213.6 803.5h0M240.6 823.7h0M299.4 821.3h0M335.5 807.7h0M208.1 815.1h0M153.1 823.9h0M168.2 819.1h0M311.3 821.8h0M199.6 815.7h0M193.5 824.6h0M197.5 847.3h0M253 797.8h0M216.5 817h0M148.3 778.8h0M139.8 838.1h0M278.9 826.6h0M265.6 824.4h0M238.4 815.3h0M173.1 807.4h0M241.4 795.5h0M181.7 826.1h0M255.3 828.1h0M309.3 818.4h0M173.3 843h0M344.1 817.4h0M231.6 837.3h0M270.6 813.6h0M175.6 795.4h0M197.8 822.7h0M165.9 827.8h0M250.7 816.2h0M210 818h0M227.9 821.7h0M180.9 791.7h0M319.4 821h0M192.2 819.6h0M231.3 821.4h0M272.8 807.7h0M145.3 816.3h0M244.9 843.5h0M262.6 804.6h0M275.7 807.5h0M271.5 809.7h0M134.3 792.4h0M207.8 804.5h0M168.6 778.4h0M196.7 844.3h0M139.2 808.3h0M336.5 818.3h0M299.8 810.1h0M263.2 804.8h0M316.7 819.5h0M144.3 813h0M205.5 818.8h0M208.6 792.3h0M133.1 822.5h0M342.2 812.8h0M143.1 783.8h0M163 815.3h0M159.9 874.8h0M216.9 850.6h0M186.6 842.3h0M166.1 836.6h0M253.7 835h0M312.1 809.7h0M287.1 828.7h0M218.7 803.8h0M328.1 816.7h0M251.4 807.9h0M233.8 800.9h0M241.7 828.5h0M222.6 818.3h0M246.3 821.1h0M143.9 817.2h0M234.3 813.7h0M171.5 805h0M247.3 802.3h0M190.3 819.1h0M254 814.7h0M188.1 755.7h0M147.1 822.2h0M292 826.8h0M269.9 816.3h0M349.2 819.6h0M189.6 834.2h0M137.3 816.5h0M226.1 801.9h0M215 794h0M142.7 809.3h0M147.8 806.7h0M211.7 871.6h0M257.8 824.6h0M172.8 830.4h0M173.7 831.2h0M185.1 834.3h0M237.4 809.6h0M144.4 845.1h0M200 783.2h0M130.7 799.9h0M220.1 798.2h0M202 847.3h0M158.3 872h0M255 803.3h0M241.6 826.2h0M338.3 817.3h0M305.8 809.5h0M145.1 841.8h0M354.3 818.6h0M325.7 803.7h0M214.6 832.8h0M327.8 814.1h0M241.5 829.9h0M193.8 860.8h0M231.4 801.4h0M158.1 788.8h0M180.5 827.9h0M172.9 828h0M257.1 812h0M274.7 821.8h0M144.7 814h0M188.4 831.9h0M133 782.7h0M225.4 826.3h0M148 789.9h0M319.2 807.2h0M259.7 806.5h0M159.4 845h0M299.4 816.8h0M184.9 820.2h0M281.7 820.6h0M247.4 821.9h0M209.9 800.6h0M125.7 820.4h0M301.3 830.9h0M316.5 811.1h0M270.1 824.7h0M142 849.7h0M236.5 818.3h0M138.2 787.6h0M310.1 821.6h0M163.4 841.4h0M294.9 821.8h0M152.4 788.2h0M279.2 822.2h0M246.6 815.8h0M268.2 803.9h0M220.6 786.8h0M191 838h0M185.8 802.3h0M340.8 821.8h0M203.3 859.1h0M270.8 805.9h0M256.2 806.2h0M318.5 811.4h0M133.1 827.1h0M339.6 811.8h0M223.4 832.4h0M236.4 832.7h0M186.1 803.2h0M160.2 799.6h0M143.5 823.9h0M185.8 827.6h0M197.2 841.5h0M341.1 806.2h0M156.3 850.5h0M176.7 821.6h0M225.2 820.9h0M289.4 812h0M131.8 813.5h0M155.6 800.5h0M175.1 843.4h0M256.3 803.6h0M315.8 819h0M206.2 799.4h0M329.9 808.6h0M136.3 827.6h0M128.5 828.1h0M173.3 818.6h0M212.2 868.7h0M231.3 800.1h0M272.1 816.4h0M303.8 830h0M173.1 877.6h0M250.1 808.1h0M285 809.3h0M316.2 826.4h0M186.7 872h0M177.9 801.6h0M190.8 831.6h0M207.8 790.9h0M245 818.2h0M304.7 814.7h0M211.2 847.2h0M227 812.9h0M229.3 802.7h0M339 822.5h0M161.2 784.1h0M337.9 809.4h0M239.5 801.2h0M215.2 844h0M217.8 821.2h0M294.7 810.4h0M201.6 816h0M174.8 825.6h0M200.1 817.9h0M203.9 792.2h0M147.6 831.6h0M295.2 802.2h0M238 830.4h0M315.9 814.2h0M210.3 796.4h0M145.8 832.4h0M282 826.7h0M257.9 807.8h0M337.8 819.6h0M258.1 804h0M160.4 856.4h0M210 789.7h0M206.7 785.8h0M276.3 809.3h0M245.6 805.6h0M136.9 792.2h0M212.7 805.7h0M297.9 806.2h0M237.7 801.2h0M140.2 829.8h0M158 835.8h0M202 829h0M177.8 814.1h0M311.2 825h0M144.5 858.8h0M183.7 848.7h0M170.1 821.3h0M154.5 796.8h0M273.6 824h0M250.7 805.6h0M302.7 819h0M138 853.5h0M217.7 809.5h0M133.1 836.5h0M201.9 849.9h0M173.9 777.1h0M161 836h0M183 851.8h0M238.9 796.8h0M159.5 860h0M251.2 804.5h0M164.6 802.4h0M134.2 821.3h0M168.7 835.6h0M348.7 820.4h0M134.8 849.5h0M221.3 804h0M170.3 827.4h0M221.3 816.6h0M312.5 824h0M187.7 834.6h0M169.2 803.1h0M188.2 844.3h0M147.2 820.3h0M271.7 805h0M225 806.3h0M296.8 820.2h0M147.2 812.3h0M216.7 819.9h0M174.6 830.8h0M294.9 803.8h0M223.7 808.5h0M184.5 816.8h0M230.3 829.2h0M310.9 824.7h0M209.1 831.2h0M220.3 841.7h0M229.8 825.4h0M158.8 794.5h0M169.8 823.6h0M165.5 842.1h0M147.4 858.7h0M196 799.6h0M336.8 815h0M244.1 824.9h0M257.3 832.7h0M193 830.6h0M311.4 820.7h0M176.6 813.6h0M314.1 820.1h0M196.9 824h0M271.2 807.4h0M198 826.3h0M268.4 805.2h0M137.9 807.2h0M191.5 833.7h0M171.6 797.5h0M135.4 824h0M210.8 845.6h0M139.3 825.7h0M192.3 803.1h0M168.5 817h0M242.3 820.2h0M333.8 827.5h0M214.2 833h0M132.8 791.7h0M158.3 863.9h0M133 803.1h0M233.8 815.6h0M206.1 832.3h0M162.9 812.9h0M211.4 842.9h0M202.1 781.9h0M161.3 830.1h0M203.5 828.4h0M224.3 805.9h0M183.8 758.1h0M204.8 787.1h0M187.3 836.3h0M277.4 826.9h0M189 830.2h0M329.8 800.8h0M204.6 806.7h0M173.5 845.8h0M164.9 833.5h0M163 797.1h0M152.1 802.8h0M249.8 809.7h0M306.5 822.9h0M347.7 821.6h0M237.9 808.8h0M289.5 822.4h0M223.2 796.3h0M132.9 829.2h0M154.1 806.5h0M172.2 758.1h0M226.6 807.6h0M154.6 843.9h0M222.8 825.3h0M321.6 808.3h0M215 825.9h0M169.1 787.4h0M163.6 801.4h0M213.4 807.3h0M193.8 802.4h0M325.6 805.6h0M274 825.6h0M143.6 816h0M166.1 838.6h0M143.7 851.9h0M171.7 842.2h0M274.3 816.9h0M162.7 824.6h0M156.7 867.9h0M231.5 806h0M200 815.2h0M235.5 807.5h0M349.1 824.9h0M187 803.1h0M169.2 809.7h0M143.2 773.1h0M208 807.7h0M173.8 792.6h0M216.8 817.1h0M344.1 806.1h0M136.2 776.7h0M180.3 829.7h0M142.6 796.2h0M344.7 812h0M164.7 860.5h0M317.7 806h0M280.3 803.5h0M188.3 784.8h0M206.9 793.9h0M167 818.5h0M220.7 783.9h0M208.2 858.8h0M269.3 811.6h0M185.6 782.2h0M317.9 801.2h0M277 807.2h0M198.6 786.5h0M241.2 793.9h0M165 798.2h0M271.6 833.4h0M158.9 826.8h0M205.1 814.8h0M179.7 869.5h0M219 793.3h0M278.7 822.3h0M285.2 811.6h0M218.2 803.1h0M150 791h0M247.5 817.1h0M156.5 769.1h0M266.8 817.1h0M137.8 813.9h0M277.4 829.1h0M329.6 811.8h0M191.8 821.5h0M171.5 800.6h0M187.8 790.8h0M133.1 833.7h0M258.7 824.5h0M251.1 840.6h0M265.3 830.4h0M182.8 800.4h0M307.5 827h0M181.5 808.7h0M164.8 787.9h0M174 768h0M213 833.7h0M269.8 826.2h0M271.9 802.9h0M320.6 814.9h0M132.8 830.5h0M190.5 814.7h0M152.6 829.2h0M263 820.2h0M196.6 783.8h0M149.9 792.6h0M177.9 804.1h0M204.3 801.4h0M217.4 801.2h0M156.3 803h0M207.8 841.4h0M297.1 814.1h0M134.2 825.1h0M314.2 810h0M225.9 809.7h0M348.1 817.7h0M239.8 809.7h0M199.3 801.8h0M305.6 811.5h0M324.3 806.4h0M200.2 826.3h0M170.5 839.9h0M243.3 807.2h0M158.5 845.2h0M141.3 825.2h0M321.8 812.5h0M153.5 800.1h0M268.1 840.4h0M255.9 815.8h0M222.4 816.2h0M314 813.1h0M242.6 823.1h0M326.9 820.4h0M164.7 795.4h0M268.2 821.3h0M206.6 825.9h0M344.7 814h0M283.9 829.2h0M180.3 855.9h0M236 823.7h0M189.2 804.7h0M162.3 815.6h0M171.9 814.7h0M252.4 793.8h0M134.6 803.2h0M163.7 827.8h0M222.3 806.3h0M229.5 824.2h0M234.4 819.2h0M172.7 815.5h0M339.6 805.6h0M328.1 812.1h0M266.8 825.9h0M153.5 837.9h0M206.8 847.6h0M167.2 850.2h0M285.5 813.9h0M218.5 834.1h0M198.7 823.5h0M190.4 786.4h0M258.8 815.8h0M158.4 806.2h0M246.3 802.3h0M167.6 860.4h0M145.2 802.1h0M225.1 792.2h0M193.9 789.6h0M292.8 826.3h0M254.1 838h0M145.3 777h0M195.8 802.4h0M253 806.3h0M187.3 807.9h0M172.1 809.8h0M223.3 809.5h0M148.8 813.2h0M169.4 844.7h0M273 806.6h0M175.7 817.5h0M209.3 837.2h0M242.3 803.4h0M165.6 819.4h0M168.8 838.4h0M232.5 808.7h0M208.1 834.6h0M284.5 823.3h0M223.5 826.5h0M179 835h0M225.2 813.3h0M195.5 776.9h0M322.7 821.8h0M242.9 803.2h0M180.9 861.7h0M305.4 805.2h0M214.7 804.3h0M153 881.6h0M194.5 850.3h0M159.3 785.5h0M167.5 820.9h0M217.8 838.5h0M259 809.7h0M195.1 841.2h0M140.4 854.9h0M173.3 799.1h0M326.4 805.3h0M224.8 822.8h0M193.9 795.8h0M211.8 818.7h0M167.8 798.5h0M176.2 784.6h0M177.8 787.1h0M204.5 813.2h0M261.8 822.8h0M197.7 843.4h0M193.1 805.9h0M156.7 807.7h0M277.7 821.6h0M160.8 782.8h0M242.3 823.2h0M219.9 827.9h0M295.1 824.1h0M235.3 801h0M149.5 792.1h0M176.5 849.9h0M185.1 819.5h0M160.2 836.7h0M176.7 842.2h0M201 800.5h0M135.9 849.9h0M214.8 842.3h0M223.2 825.3h0M195.5 815.5h0M154.4 857.9h0M327.6 819.5h0M151.7 811.9h0M251.7 796.5h0M143.3 842.5h0M153 821.4h0M224.2 814.1h0M189 816.9h0M309.2 831.4h0M128.7 806h0M267.2 819.8h0M279.3 806.7h0M179.8 821.9h0M276.5 799.7h0M126.9 817.2h0M284.4 835.5h0M323.3 821.1h0M147.9 781.7h0M172.8 840.8h0M215.9 798.6h0M133.9 854.2h0M200.2 798.4h0M156.6 806.4h0M197.3 834.3h0M131.3 852.8h0M196.1 803.5h0M208.9 793.8h0M141.2 799.6h0M215.8 787.8h0M279.4 811.1h0M156.5 779.5h0M193.3 793.4h0M223.5 803.2h0M131.9 805.8h0M246.5 799.8h0M216.4 826.1h0M157.4 810.1h0M352.3 815.8h0M249.7 805.6h0M201.2 789h0M320 819.2h0M198.5 805.4h0M270.8 805.3h0M136.7 819.2h0M135.9 780.8h0M176.9 757.8h0M134.9 850.9h0M244.9 812h0M229.2 808h0M359.6 812.3h0M231.1 827.2h0M250.4 814.4h0M175.2 827.6h0M272.5 830.9h0M201.5 827.1h0M179.4 824.8h0M153.2 855.9h0M243.8 830.9h0M202 832.2h0M146.3 779.2h0M224 795.4h0M178.1 795h0M210.5 836.7h0M342.2 821.8h0M241 838.8h0M155.1 816.9h0M203.8 837.3h0M204.6 800.2h0M219 829h0M198 858.8h0M291.6 808.5h0M130.7 810.9h0M139.4 852.4h0M202.4 801.3h0M323.6 800.9h0M268.3 806.2h0M214.8 836h0M212.4 837.9h0M195.7 817.4h0M198 778.8h0M213.4 810.3h0M334.4 807.9h0M184.4 864.7h0M192.4 815.7h0M355.5 824.5h0M286.6 826.3h0M183.9 784h0M228.3 796.7h0M184.8 792.1h0M286.7 806.8h0M193.1 814.2h0M283.4 821.3h0M209.5 838.2h0M270.6 810h0M206.7 796.8h0M171.5 829.7h0M253.6 829.8h0M309.2 822.6h0M319.4 797.5h0M177.7 840.9h0M229.3 812.9h0M173.4 776.2h0M246.7 828h0M306.5 802.7h0M141.7 854.9h0M176 830.7h0M261.1 821.6h0M307.3 814.1h0M162.5 830.8h0M182.8 860.6h0M334.8 804.9h0M278.2 806.9h0M340.8 807.2h0M144.8 787.2h0M163.5 837.4h0M205.3 797.8h0M129.3 830h0M193.8 798.6h0M304.4 821.1h0M139.4 796.7h0M189.2 846.6h0M196.7 857.6h0M246.1 819.7h0M186.1 809.4h0M260.1 801h0M201.9 822.7h0M201.1 802.1h0M353.8 815.8h0M170.5 844.7h0M233.9 807.2h0M213.3 817.3h0M311.4 816h0M202 823.5h0M241.2 796.1h0M164.2 792.3h0M162.5 817.2h0M320.2 801.3h0M302.6 829.3h0M189.5 839.7h0M326.2 826h0M189.6 837.5h0M132.7 870.1h0M281.5 825.4h0M225.1 797h0M351.8 823.1h0M150.7 752.3h0M159.6 826.1h0M194.7 799h0M328.7 826.4h0M327.7 804.8h0M168.3 871.8h0M204.7 826.4h0M170.8 808.6h0M206.4 805.8h0M301.3 833.7h0M345.8 806.3h0M166.9 824.2h0M201.4 835.2h0M196.7 818.1h0M169 836h0M167.4 858.6h0M217.7 785.6h0M232.3 809.9h0M201.4 806.1h0M135.5 784.6h0M221.6 829h0M204.5 864.1h0M294.6 830.9h0M133.4 824.3h0M188.5 841.9h0M273.5 815.7h0M256 794h0M160.3 790h0M173.1 826.5h0M244.3 803.6h0M314.7 824.1h0M179.9 791.9h0M230.7 833.8h0M158.5 847.3h0M151.4 782.9h0M227.8 827.3h0M227.3 790.7h0M330.7 810.9h0M284.4 801.4h0M156.4 835.8h0M127.4 837.6h0M224.2 817.9h0M243.7 797.7h0M149.8 823.1h0M140.1 775.1h0M232 837.8h0M154.4 844.4h0M173.5 765.1h0M158.5 784h0M182.9 831.1h0M216 829.7h0M133.2 798.3h0M246.1 822.6h0M196.3 781.1h0M200 822.7h0M194.6 791.2h0M310.5 805.4h0M282.4 836.5h0M279.9 799.9h0M185.2 797.6h0M237.9 798.4h0M131.3 833.4h0M271.2 828.6h0M190.6 772.1h0M151.7 877.4h0M199.5 806.2h0M197.6 821.7h0M272.9 819.7h0M130.7 804.4h0M146.3 815h0M345.8 811.5h0M225.2 845.1h0M186.6 817.1h0M249.7 792.8h0M132.3 819.3h0M363.8 815.9h0M178.1 816.9h0M150.5 841.8h0M233.2 805.3h0M159.7 872.8h0M201.8 796.2h0M253.1 825.3h0M193.3 863.3h0M299.7 833.1h0M151.3 846.9h0M186.4 865.7h0M219.6 799.9h0M315.3 810.4h0M262.3 817.5h0M200.3 850.6h0M190.7 825.6h0M196.5 810.5h0M155 803.8h0M155.8 823h0M266.4 799h0M139.4 813.5h0M207.5 827.6h0M329.6 805.5h0M239.3 804.2h0M272.1 801.7h0M215.1 834.9h0M235 802.9h0M246.4 832.2h0M156 781.1h0M245.5 831.9h0M193.2 812.3h0M237 812.5h0M281.4 830h0M143.6 791.4h0M149.6 797.5h0M177.8 802.9h0M135.7 834.6h0M266.3 822.3h0M148.1 831.2h0M236.2 829.3h0M196.9 828.5h0M147 807.3h0M295.5 801.7h0M238.4 815.2h0M192.7 786.3h0M157.4 789.8h0M141.4 806.6h0M337.2 821.3h0M208.9 816.1h0M191.7 811h0M274.3 826.8h0M168.7 796.4h0M151.2 821h0M174.2 853.8h0M130.7 798.4h0M137 824.1h0M262.6 799.5h0M144.4 830.5h0M175.1 817.1h0M167.7 772h0M310.5 807h0M163.7 807.2h0M241 826.6h0M212.2 800.2h0M125.5 828.7h0M293.4 798.7h0M225 799.1h0M159.1 839.3h0M147.4 823.4h0M205.4 793.2h0M177.5 785.8h0M295.3 812.3h0M147 794.6h0M339.3 806.4h0M281.4 829.2h0M255.8 831h0M223.1 792.9h0M250.1 830.1h0M171.5 793.6h0M200.7 811.3h0M313.9 816.7h0M199.8 847.2h0M195.6 831.2h0M277.4 826.1h0M139 836.4h0M193.6 811.4h0M239.3 795.6h0M150.5 891.6h0M346.7 815h0M283.5 805.2h0M130.9 837.2h0M138.6 823.6h0M162.2 857.2h0M254.8 796.6h0M276.3 805.4h0M146.2 861.4h0M176 844.7h0M178.9 807.2h0M236.5 794.2h0M190 792.5h0M303.2 816.6h0M259.7 830.6h0M205 802.9h0M172.3 835.4h0M144.8 829.6h0M158.3 843.8h0M317.6 822.5h0M178.7 854.6h0M163.6 788.2h0M239.9 830.8h0M205.9 777.7h0M240.7 813.2h0M188.4 789.6h0M239.9 843h0M342.6 823.5h0M352 818.5h0M190.4 788.9h0M183.1 827.5h0M268.3 825.1h0M339.9 814.9h0M329.6 829.7h0M174.1 789h0M183.2 793.9h0M159.3 769.8h0M342.1 809.3h0M238.3 810.5h0M157.2 783.8h0M219.8 832h0M202.7 795.5h0M164.3 790.2h0M201.6 787h0M196.3 796.1h0M240 808.3h0M302.3 801.9h0M191.6 814.4h0M152.3 843h0M215.8 827.5h0M185 840.6h0M176.3 763.5h0M287.9 828.7h0M210.3 798.1h0M260.3 817.5h0M350.2 816.1h0M179.5 836.8h0M299.8 802.4h0M168.8 778.6h0M178.3 821.6h0M179.9 852.6h0M140 837.3h0M254.3 800.3h0M176.6 807h0M184.6 816h0M166.5 800.3h0M341.7 811.3h0M230.1 838.4h0M178.3 852.5h0M190.5 802.4h0M313 818.1h0M160.4 819.6h0M212.2 787.2h0M167.7 825h0M196.7 793.7h0M149.2 816.8h0M218.4 808.1h0M231.1 815.6h0M176.5 853.7h0M168.2 800.9h0M174.9 803.8h0M196 846.5h0M227.7 781.1h0M263.7 810h0M192.2 862.2h0M295.6 806.3h0M172.6 864.6h0M195.5 827h0M201.6 794.7h0M180.9 788.6h0M138.6 785.3h0M268.2 799.6h0M276.9 801.6h0M134.5 773.8h0M181.2 859h0M215.4 805.3h0M203.2 807h0M148.4 795.6h0M231 822.1h0M192.5 823.3h0M239.8 799.4h0M169.5 853.4h0M216.2 805.8h0M184.7 779.4h0M356 809.3h0M354 813.8h0M314.1 818.7h0M200.8 830.3h0M182.1 787.9h0M152.3 847.7h0M151.5 804.6h0M150.8 875h0M327.4 823.7h0M229.4 819.1h0M158 822.3h0M163.3 799.8h0M216.8 839.2h0M196 839.5h0M184.5 796.2h0M310.8 827.8h0M199.3 849h0M141.6 851.6h0M330.8 806.2h0M208.9 808.1h0M157.5 863h0M198.1 782.6h0M206.1 783.5h0M251.6 799.4h0M154.6 808.7h0M136.4 800.4h0M265.9 800.7h0M159.9 835.8h0M153.2 803.8h0M139.6 831.1h0M141.2 811.7h0M170.9 802.5h0M215.6 792.7h0M130.3 827.9h0M363.5 821.8h0M210.4 807h0M321.8 829.9h0M153 819.4h0M215.3 835.3h0M288 800.8h0M314.1 824.5h0M142.2 844.3h0M198.4 784.4h0M168.5 828h0M177.8 810h0M162.2 767.2h0M193.1 855.8h0M237.7 805.4h0M305.5 803.8h0M150.8 802.7h0M170.4 783.1h0M167.9 815.1h0M257.5 821.3h0M187.6 870.2h0M288.1 805h0M167.7 783.2h0M268.5 823.7h0M166.8 845.5h0M148.4 787.4h0M172.6 803h0M230.3 812.4h0M168.5 833.3h0M357.5 818.9h0M173.1 818.2h0M333.8 822h0M187.4 801.5h0M220.7 809.9h0M187.8 825.7h0M131.9 840.1h0M337.6 823.2h0M162.9 853.3h0M198.6 816h0M216.1 820.2h0M143.3 805.4h0M216.6 786.1h0M180.3 870.4h0M154.2 804.6h0M263.7 833.1h0M131.7 794.2h0M204.7 834h0M127.9 830.5h0M160.1 838.9h0M149.1 833.9h0M139.8 802.1h0M213.7 772.4h0M308.9 808.7h0M270 834.7h0M186.5 777.1h0M155.3 791.8h0M308.1 807h0M223.8 800.7h0M256.8 800.2h0M190.3 853.4h0M190.5 861.1h0M287.2 802.8h0M285.9 827.7h0M216.4 848.6h0M129.6 805.7h0M148.7 825.9h0M180.6 884.2h0M198.2 828.1h0M140.8 846.2h0M232.1 804.4h0M135.5 836.4h0M298.1 803.9h0M242.6 792.8h0M160.9 871.5h0M145.6 827.3h0M227.2 810.7h0M166.5 791.5h0M304.1 798.9h0M210.3 802.4h0M183.1 793.7h0M217.1 836.5h0M198.7 813.4h0M154.1 833h0M192.4 825.4h0M152.6 830.5h0M257 822.4h0M173.7 820.3h0M165.4 821.6h0M275.9 828h0M200 812.5h0M149 750.6h0M250.7 841h0M182.6 818.3h0M145.3 823.2h0M309 800.4h0M335.5 819.3h0M151.7 801.7h0M259.6 802.3h0M246.7 803h0M128.1 786.1h0M141.5 813.4h0M243.8 832.7h0M148.1 789.7h0M167.1 813.3h0M181.2 806.2h0M315.9 825.2h0M153.4 854.1h0M192 817.3h0M185.7 805.5h0M154.5 810.2h0M234.3 794.4h0M210.1 823.3h0M129.1 800.6h0M138.5 817.6h0M157.9 826h0M347.3 808.4h0M236.5 833.3h0M175.2 799.5h0M212.8 812.8h0M151.6 796.7h0M220.1 838.2h0M215.8 783.7h0M165.5 815.8h0M180.7 820.9h0M255.9 795.5h0M136.3 806.9h0M165.9 784.1h0M180.6 833.4h0M140 831.8h0M187 849h0M214.3 820.3h0M208.4 807.1h0M317.6 808.4h0M133.8 870.2h0M149.5 785.1h0M286.5 822.1h0M190.6 840.2h0M149.5 867.2h0M194.7 838.3h0M241.4 806.7h0M227.3 834.8h0M299.9 829h0M176.2 801.4h0M245.4 807.7h0M131.1 831.8h0M179.3 819.1h0M149.6 836.8h0M214.6 797.2h0M180.6 810.6h0M141 809.5h0M175.7 798.9h0M311.1 818.6h0M154 831.5h0M133.3 811.1h0M304.5 804.8h0M145.2 788h0M137 805.1h0M210.7 845.6h0M149.3 775.5h0M137.7 858.2h0M212.1 827.1h0M274.2 802.5h0M188.3 827.3h0M200.4 835.3h0M171.4 852.7h0M176.1 819.2h0M182.2 790.1h0M172.2 794.5h0M210.6 788.4h0M258 830.3h0M220.9 834.6h0M185.4 843.9h0M130.9 800.9h0M305.2 821.4h0M198.6 833.5h0M350.4 812.7h0M151.8 860.1h0M211 828.9h0M160.7 812.7h0M296.9 830h0M338.2 807.5h0M139 840h0M180.4 769.5h0M237 825h0M329.3 806.8h0M345.5 826.7h0M152.5 783.5h0M136.1 840h0M193.5 816.4h0M193.6 826.8h0M138.4 834.9h0M186.2 849.9h0M188.9 864.7h0M182.6 842.8h0M332.9 805.5h0M138.3 851.8h0M222.1 847.6h0M139 802.9h0M307.4 820.3h0M209.2 827.5h0M240 827.7h0M146.1 852.2h0M177.1 845.9h0M152 826.8h0M253.7 828.4h0M342 821.4h0M180.3 813.3h0M146.6 814h0M227.8 782.8h0M192.9 785.2h0M343.2 820.9h0M260.8 826.2h0M183.9 839.3h0M142.5 825.2h0M332.7 827.7h0M134.9 808.6h0M189.3 854.3h0M139.1 789.1h0M142.3 812.2h0M214.9 813.2h0M333.2 824.8h0M160.6 805.2h0M155.2 841.8h0M258.6 802.7h0M298.2 810.5h0M266.7 804.3h0M167.9 844h0M335 825.7h0M184 795.1h0M355.9 808.8h0M152.9 814.3h0M188.8 835.4h0M194.8 845.4h0M200.1 823.4h0M220.8 812.1h0M203.1 800.1h0M186.8 848.7h0M247.9 793.5h0M163.2 829.1h0M239.3 789h0M295.9 804.2h0M202.7 827.1h0M176 760h0M211.5 799.8h0M274.8 804.2h0M186.5 824.4h0M305.2 819h0M193.1 845.6h0M219.2 837.4h0M266.2 826.6h0M221.4 831.3h0M239.2 823.6h0M205.9 809.3h0M336.7 814.5h0M191.4 835.9h0M199.3 820.2h0M200.7 804.7h0M236 832.6h0M203.4 831.5h0M175.7 755.9h0M203 779.6h0M234.7 800.5h0M144.4 822.6h0M232.7 812.2h0M138.7 798.8h0M155.8 854.1h0M188.7 785.7h0M240.9 831.7h0M254 793.9h0M171.6 775h0M150.7 826.9h0M243.3 802.4h0M184.2 849.2h0M149.6 798.5h0M329.2 821.8h0M327.6 827h0M148 783.1h0M178.8 803.6h0M143.4 774.9h0M206.5 783.2h0M162.3 799.7h0M211.6 827.6h0M138.5 868.7h0M207 849.5h0M160.2 808.3h0M205.2 820.5h0M180 800.5h0M142.5 836.7h0M159.4 850.5h0M188.7 824.7h0M188.7 774.7h0M141 828.1h0M146 818.3h0M127.6 820.8h0M167 762.1h0M158.2 864.9h0M309.4 826.6h0M272.2 796.2h0M235.3 838.5h0M139.8 843.4h0M362.8 812.3h0M329.6 819.9h0M291.3 829.2h0M172.1 789.3h0M171.3 798.6h0M204.7 846.7h0M237.4 842.8h0M147 815.9h0M138.6 848.1h0M238.3 836.6h0M135 817.2h0M169.4 788.5h0M164.3 829.4h0M204 840.2h0M174.3 883.3h0M220.9 840.2h0M193.2 838.2h0M234.8 798.8h0M213.7 790.4h0M316.4 830.3h0M274.9 832.6h0M204.4 842.8h0M343.8 808h0M324.1 832.9h0M143.9 839.2h0M248.8 814.9h0M310.3 830.2h0M173.9 874.1h0M224 828.2h0M245.8 837.5h0M295.4 826.7h0M284.6 804.4h0M165.2 864.6h0M293.3 821.8h0M237 814.1h0M294.7 808.7h0M136.8 763.9h0M185.4 774.3h0M350.6 805.1h0M304.2 825.7h0M184.8 799.5h0M185.2 822.2h0M281.2 804.7h0M161.7 788h0M192.9 820.9h0M164.4 825h0M334.2 813.3h0M226.4 832.3h0M205.6 818.4h0M185.7 790.2h0M147.8 788.3h0M174.6 808.8h0M223.2 849.9h0M154.3 827.2h0M220.7 807h0M186.5 806.1h0M184.2 805.4h0M183.5 812.6h0M140.7 790.2h0M249.6 827.7h0M236.8 819.7h0M140.5 798.4h0M144.7 839.9h0M149 870.3h0M309.2 801.5h0M152.9 779.8h0M150.2 858.1h0M315.3 803.8h0M150.8 811.2h0M160.7 798h0M170.4 828.6h0M307 806.7h0M142.8 755.6h0M357.5 816.2h0M211.1 786.5h0M202.9 804.1h0M331.9 823.4h0M183.2 795.2h0M216.1 851.1h0M184.9 855.4h0M211.8 833.7h0M204.5 837.8h0M295.2 800.8h0M188.1 843.1h0M141.8 802h0M158.1 812.8h0M161.5 832.6h0M190 847.6h0M151.4 835.1h0M202.7 789.5h0M285.8 814.2h0M142.3 771.9h0M206.8 841.8h0M220.2 793.7h0M226.5 836.3h0M147.7 851.5h0M258.9 797.1h0M134.1 822.8h0M238.5 804h0M212.1 835.3h0M222.5 830.5h0M297.1 800.3h0M140.8 756.8h0M148.4 839.8h0M157.8 837.4h0M190.5 829.6h0M203.5 785.9h0M222.6 798.8h0M351.4 810h0M126.6 803.4h0M145.7 799.1h0M323.8 827.2h0M293.1 832.5h0M267.5 833.8h0M172.1 785.7h0M217 796.8h0M170.3 801.6h0M182.9 848.4h0M182.6 772.5h0M151.7 816.6h0M251.5 824.2h0M308.3 828.4h0M210.9 783.9h0M240.6 829.5h0M142.6 786.4h0M220.2 808.7h0M148.3 805.4h0M284.7 803.9h0M245.5 800.2h0M350.6 811.1h0M137.8 845.6h0M160.6 852.2h0M255.8 821.2h0M278.8 780.7h0M157.5 842.3h0M136 812h0M253 831h0M165.6 821.9h0M152.5 794h0M155.3 878h0M195.1 822.1h0M240.3 833.3h0M237.9 817.7h0M215.5 815.8h0M179.8 806.8h0M228.6 810.8h0M230.7 821.5h0M295.2 825.6h0M251.4 833.1h0M199.7 807.5h0M174.7 838.1h0M232.9 786.2h0M264.6 830.3h0M178.5 824.2h0M154.9 768.9h0M174.1 824h0M163.5 809.4h0M156.3 804.3h0M302 823.2h0M299 823.5h0M158.3 787.9h0M174.9 837.4h0M159.2 822.6h0M245.4 838.4h0M155.8 823.3h0M185.1 806.7h0M137.7 799.3h0M135.4 846.2h0M265.6 825h0M198.2 788.2h0M281 796.9h0M329.7 826.9h0M357.5 812.6h0M184.5 803.1h0M127.5 819.8h0M136.5 830h0M229 826.9h0M163.7 867h0M156.6 823.8h0M190.4 782.8h0M159.2 840.9h0M139.1 835h0M179.9 785.6h0M182.5 788.1h0M144.3 799.5h0M178.6 780.7h0M165 876.6h0M189.3 805.6h0M307.3 809.8h0M181.4 793.3h0M307.4 824.4h0M194.4 846.9h0M163.3 843.8h0M178.5 840.1h0M152.3 853.2h0M236.3 799.8h0M290.1 797.8h0M126.8 813h0M139 753h0M212.5 842h0M165.3 822.5h0M219.1 830.3h0M266.1 804.2h0M164.1 848.4h0M165.2 851h0M189.6 794.9h0M130.7 786.2h0M161.9 829h0M201.2 843.4h0M331 821h0M213.6 816.7h0M245 827.4h0M156.4 818.3h0M156 838.3h0M176.5 807.4h0M260.3 804.5h0M176.9 816.3h0M133 841.2h0M182.6 854.7h0M358.5 811.4h0M314.3 805.5h0M352.7 806.4h0M225.3 816.5h0M247.5 831.8h0M172.5 839h0M329.2 824.1h0M219.3 775.6h0M148.2 798.6h0M153.3 802.1h0M144.5 788.6h0M203.6 780.9h0M145 824.5h0M240.7 820.8h0M182.3 810.6h0M301.1 799.8h0M129.3 828.7h0M210.2 794.8h0M286.6 789.9h0M181.6 754.6h0M167.7 854.8h0M130.9 826.8h0M199.4 830.8h0M324.8 822.4h0M194.2 818.1h0M145.6 836.9h0M312.5 806.6h0M144.7 810.6h0M207.2 818.7h0M168.6 839.9h0M192.2 766.4h0M186.7 827.4h0M140.9 845.3h0M262.5 811.5h0M154.8 783.3h0M155.6 830h0M169.5 840.5h0M229.6 825.2h0M237.9 839.4h0M249.4 800.1h0M192.5 809.6h0M166 835.5h0M294.4 833.9h0M347.5 819.6h0M179.4 859.4h0M201.5 840.2h0M316.8 828.2h0M187.7 798h0M176.4 776.8h0M349.8 823.1h0M195.5 786.9h0M174.8 781.5h0M200.1 761.9h0M184.4 823.3h0M251.4 830.3h0M341 820.8h0M353.9 809.6h0M152.6 892h0M148.6 788.7h0M250.7 837.5h0M166.2 814.9h0M146.7 793.2h0M142.3 845.8h0M172.6 832.5h0M163.6 785.6h0M163.4 851.5h0M165.4 839.6h0M239.3 792.5h0M363.7 812h0M289.9 825.4h0M158.4 832.3h0M155.3 844.4h0M140.4 771.2h0M134.5 838.7h0M207.5 812.2h0M179.3 794h0M191.1 808.9h0M134.3 798h0M248.3 825.6h0M232.2 828.1h0M323.8 804.2h0M138.5 815.5h0M365.6 815.4h0M195.4 855.9h0M245.4 802h0M216.7 809.5h0M214.1 807h0M145.2 791.3h0M187 784.9h0M211.8 792.6h0M137.7 803.3h0M192.8 851.5h0M141.1 824.1h0M364.2 817.2h0M155.7 805.6h0M177.5 791.6h0M189.5 857.4h0M216.6 844.2h0M145.6 791.2h0M136.1 783h0M263.4 826.5h0M163.9 775.1h0M205.9 816.5h0M160.4 762h0M133.7 776.5h0M151.7 781.5h0M187.5 833.7h0M127 793.6h0M176.2 820.4h0M154.1 789.5h0M143.8 841.8h0M285.3 798.9h0M165.4 867.3h0M227.1 805.4h0M207.4 825.2h0M189.2 801.9h0M174 799h0M174.1 786h0M177.9 819.9h0M182.5 819.5h0M320.1 806.5h0M175.8 779.6h0M136.9 786.3h0M213.6 803.5h0M149.2 824.3h0M268.2 828.3h0M229.3 837.6h0M202.8 825.8h0M179.2 766.9h0M147.5 839.2h0M213.5 851.7h0M147.4 817.2h0M161.6 822.8h0M168.6 830.3h0M224.8 820.6h0M156.9 811.3h0M136.3 843.5h0M216.3 846.1h0M165.9 831.1h0M296.1 829h0M167.1 857.2h0M154 842.9h0M250.2 801.9h0M169.8 825.3h0M150.1 850.8h0M148.6 834.5h0M238.3 833h0M131.4 819.4h0M169.9 828.1h0M235.5 841.9h0M313.7 802.4h0M280.1 827.2h0M227.4 851.7h0M340.5 805h0M155.4 852.2h0M271.6 831.9h0M192.3 867.9h0M151 795h0M176.2 862.3h0M134.4 823.2h0M195.2 819.6h0M148.5 767.4h0M168.9 782.2h0M193.5 833.3h0M209.5 803.3h0M164.1 771.5h0M147.6 844.2h0M143 833.6h0M182.1 890.4h0M208.9 791.6h0M175.7 786.1h0M130.5 815.7h0M171.3 792.7h0M300.2 801.3h0M174.3 813h0M163.5 847.8h0M136.5 838.5h0M215 847.4h0M147.4 848h0M195.7 829.2h0M227 796h0M178.9 787.9h0M248.4 803.8h0M319.8 829.3h0M257.2 818.8h0M165.4 769.7h0M150 828.6h0M191.2 791.7h0M173.9 771.7h0M220.7 799.9h0M296 823.9h0M162.3 810.9h0M158.1 854.2h0M166.2 785h0M177.1 810.9h0M264.1 798.6h0M224.8 836.5h0M169.2 806.8h0M155.5 793.8h0M141.7 884.7h0M154.7 797.9h0M156 861.1h0M223.7 810.6h0M193.6 778.4h0M128.7 823.1h0M311.8 803.8h0M167.5 808.3h0M144.3 803.6h0M169.9 896.7h0M176.4 811.4h0M142.7 871.7h0M162 833h0M137.3 807.3h0M144.3 739.7h0M175 783.5h0M148 769h0M283.9 823.4h0M197.9 837.3h0M317.3 804.7h0M176.2 843.8h0M244.5 806.1h0M184.6 845.5h0M211.4 792.9h0M170.7 764.1h0M159.3 794.1h0M197.8 868.8h0M185.8 787.1h0M237 826.5h0M180.7 770.5h0M150.4 844.6h0M208.4 833.4h0M172.4 780.5h0M169.5 796.7h0M148.5 816.4h0M227.1 800.9h0M203.5 843.3h0M321.2 820h0M299.4 808.8h0M144.4 808h0M204.1 848.5h0M160.6 784.7h0M211.8 776.5h0M203 820.6h0M201.9 805.5h0M304.1 796.2h0M267.3 831.6h0M223.1 795.1h0M275.6 799.5h0M257.5 833.4h0M221.7 827.9h0M322.5 829.6h0M141.7 824.4h0M130.8 841.9h0M172.7 845.4h0M164.4 779.8h0M212 839.9h0M330.5 825h0M188.1 848.8h0M141.5 789.5h0M213.7 826.9h0M157 844h0M231.5 843.4h0M294.4 825.1h0M306.5 828.9h0M194 799.3h0M146.5 843.9h0M151.8 786.5h0M142.3 804.7h0M288.6 825.9h0M145.8 788.9h0M285.5 830.8h0M316.5 806.3h0M186.6 822.3h0M177.8 779.8h0M200.2 777.6h0M192 827.1h0M333.8 803h0M129.5 823.3h0M289.8 830.1h0M148.4 829.5h0M156.9 763.9h0M144.2 821.3h0M205.2 791h0M132.9 817.4h0M128.3 824.1h0M131.4 809h0M275 835.8h0M351.9 803.7h0M130.4 819.5h0M244.4 797.5h0M144.4 831.3h0M199.2 793.9h0M134.9 844.8h0M187.3 861.4h0M158.6 874.3h0M213.8 778.3h0M231.6 790.4h0M203.5 846.5h0M184.5 822.5h0M282.9 803.9h0M149.3 852.1h0M240.2 803.6h0M156.2 815.7h0M168.3 851.9h0M168.4 780.6h0M180.1 810h0M178.1 836.5h0M171.2 827.3h0M147.5 877.5h0M336.4 810.2h0M127.3 845.4h0M132.2 852h0M176.7 834.8h0M125.1 803.4h0M165.2 767h0M124.7 894.9h0M169.2 765h0M180.9 816.8h0M107.6 833.1h0M184.2 829.4h0M138.2 796.8h0M102.3 852.6h0M142.5 926.4h0M140.7 792.9h0M122.5 840.1h0M177.5 763.3h0M133 816.6h0M185.4 840.9h0M142.5 892.9h0M127.3 784.1h0M107.4 817.7h0M93.4 787.6h0M136 812h0M121.4 792.9h0M121.3 813.8h0M127.5 760.7h0M176 838.3h0M126.7 799.8h0M91.4 815.8h0M122 804.5h0M144.3 928h0M160 893.2h0M135 799.7h0M180 837.6h0M113.6 802.9h0M156.3 831.8h0M148.4 891.2h0M122.2 807.6h0M141 772.9h0M118.4 817.1h0M149.8 835.7h0M156.8 850.4h0M90.1 786.6h0M141.6 839.1h0M130.6 849.1h0M162 796.1h0M120.6 792.8h0M117.6 887.8h0M91.7 838.7h0M145 776.3h0M176.1 780.8h0M150 756.8h0M100.9 776.5h0M179.7 776h0M146.4 897.9h0M117 828.5h0M132.8 759.4h0M177.1 873.7h0M173.2 812.4h0M136.2 747.3h0M197 771.8h0M143 810.5h0M124.8 856.9h0M139.8 829.5h0M167.9 800.3h0M145.1 781.5h0M91.4 817h0M93 817.3h0M132.2 908.8h0M172.8 824.4h0M130.2 790.2h0M122.4 740.9h0M137.7 780.6h0M163.7 803.9h0M153.1 835.6h0M136.4 917.1h0M135.8 862.2h0M100 805.5h0M169.4 747h0M135.8 833.7h0M145.3 795.9h0M169 733.7h0M173.2 857.9h0M107.1 838.7h0M117.6 798.5h0M161.8 877h0M134.4 914.8h0M146.7 861.8h0M186.1 835.2h0M150.9 909.3h0M117.9 881.3h0M159.3 864.2h0M154.5 776h0M121.8 855h0M120.8 780.8h0M181.8 776.8h0M121.5 775.6h0M118.4 781.7h0M137.7 843.1h0M156.8 794.6h0M90.1 792.9h0M157.7 881h0M190.8 761.1h0M134.7 832.6h0M149.9 848.6h0M124.2 858.5h0M134.9 771h0M160.1 828.7h0M156.4 765h0M162.2 862.2h0M138.5 763.2h0M135.9 883.8h0M127.8 807.6h0M121.9 737.7h0M147.7 759.6h0M128.2 727.5h0M181.1 794.5h0M139.2 827.3h0M144.3 701.3h0M192.7 753.4h0M162.7 724.5h0M121.2 884h0M149.1 797h0M141.6 839.4h0M153 764.1h0M109.1 768h0M154.2 761.5h0M136.6 748.2h0M181 851.6h0M102 777h0M100.2 825.1h0M139.9 857.1h0M176.2 799.7h0M91.7 845h0M173.5 860.9h0M155.8 795.9h0M132.3 856.9h0M176.4 788.4h0M163.7 880.7h0M152.9 869.5h0M93 816.2h0M124.7 771.4h0M148.2 693.1h0M158.5 850.4h0M116.8 751.6h0M151.1 855.1h0M129.7 816.4h0M124.1 789h0M130.5 724h0M145 753.7h0M177.6 821.5h0M113.6 842h0M134 753.1h0M161 753.9h0M101.8 804.2h0M133.1 720.5h0M134.4 878.6h0M139.6 863.5h0M155.6 779.4h0M121.3 778.6h0M100 802.5h0M148.7 747.4h0M124 786.5h0M137.5 779.3h0M175.6 782.9h0M125.6 730h0M117.8 783.4h0M108.3 764.4h0M159.4 711h0M127.3 846.9h0M153.6 840.7h0M170.2 797.9h0M152.7 752.4h0M154.7 746h0M127.2 865.3h0M102 779.3h0M158.5 920.8h0M168.5 804.1h0M128.2 732.3h0M91.7 842.4h0M135.8 798.3h0M101.7 850.2h0M90.8 842.8h0M141.2 759.4h0M121.7 807.2h0M118.5 747.7h0M129.5 731.8h0M90.4 814.5h0M161.8 886h0M141.1 701.2h0M144.1 931.5h0M91.8 788.5h0M186.3 857.6h0M168 865.4h0M121.4 742.9h0M127.7 862.4h0M166.3 886h0M173.8 797.5h0M107.5 767.3h0M100.8 828.4h0M165 824.8h0M108.3 770.1h0M168.6 758.5h0M160.7 919h0M156.3 820.8h0M121.7 838.8h0M143.8 891.7h0M101.1 852.6h0M123.5 748.3h0M101.8 806.6h0M141.1 890.6h0M178.2 770h0M146.3 878.7h0M179.3 772.9h0M124.1 816.5h0M155.4 820.9h0M92.1 813.8h0M107.5 774.3h0M100.6 806.5h0M121.2 888.9h0M120.9 746.6h0M125.1 801h0M128.1 766.5h0M180.9 765.6h0M124.8 786.9h0M100 808h0M132.2 760.8h0M108.6 835.4h0M113.7 871.6h0M177 797.4h0M138 869.4h0M113.7 876.2h0M148 799.4h0M147.9 881.5h0M167.3 765.7h0M185.1 866.4h0M101.5 826.6h0M143.9 793.2h0M146.9 830.7h0M101.1 805.3h0M127.2 780.4h0M125.2 893.4h0M134.4 836h0M185.2 767.3h0M172 801.4h0M163 871.2h0M157.9 797.8h0M164.6 782.1h0M153.7 797.5h0M136.5 857.9h0M161.9 827.1h0M155.1 785.5h0M117.9 876.6h0M91.8 786.8h0M141.3 851.1h0M116.8 750.2h0M131.8 876h0M156.5 798.7h0M144.2 895.3h0M124.6 845.7h0M118.1 815.4h0M113 875h0M127.1 734.2h0M164.7 800h0M149.6 745.5h0M90.1 788.8h0M130.3 864.8h0M174.5 810.7h0M123.9 773.1h0M156.1 873.2h0M165.2 811.1h0M126.4 807.9h0M136.5 865h0M124.2 792h0M127.1 796.5h0M101.7 861h0M99.7 776.5h0M144.7 733.9h0M121.7 886.3h0M121.8 851.7h0M114.1 878h0M145.2 829.9h0M136.1 794.3h0M166.8 774.5h0M149.6 789.1h0M167.3 791.9h0M106.8 794.6h0M146.4 754.6h0M127.5 765.4h0M134.6 796.4h0M127.6 782.2h0M142.5 837.6h0M184.2 747.3h0M121.7 887.8h0M162.3 888.5h0M181.4 835.6h0M142.1 869.6h0M141.4 929.8h0M90.8 840.3h0M121.9 736h0M125 812.2h0M164.6 777.2h0M136.8 709.3h0M132.7 872.9h0M146.8 879.3h0M122.4 744.5h0M159.3 773.6h0M178.6 856.2h0M152.5 849.6h0M168 724.9h0M135 748.2h0M162.1 866.1h0M135.4 769.6h0M154.6 909h0M150.9 753.9h0M126.9 785.5h0M138.4 826.1h0M145.5 846h0M183.1 846.9h0M145.6 733.4h0M151.8 753.4h0M129.9 761.3h0M156 848.3h0M145.3 882.1h0M172.5 782.4h0M121.9 792h0M121.8 777.9h0M172.6 867.2h0M109.1 815.1h0M113 826.3h0M153.4 842h0M139.4 853.8h0M145 809.7h0M127.2 902.8h0M138.1 864.5h0M109.1 773.8h0M127.4 736.4h0M164.1 719.2h0M166.9 766.9h0M171.3 772.1h0M130 794h0M134.5 874.6h0M168.2 789h0M139.6 745.5h0M138.5 881.2h0M181 800.1h0M140.4 706.3h0M108.9 796.5h0M102 776.1h0M137.9 885.3h0M124.9 769.2h0M182.8 885.9h0M170.9 762.8h0M114.1 785.8h0M140.5 761.1h0M120.7 799.2h0M158.3 801.4h0M175.2 728h0M180.3 819.4h0M121.1 822.6h0M127.7 798.1h0M164.1 760.5h0M100.8 824.7h0M127.4 898h0M100.9 784h0M145.2 853.7h0M147.2 762.6h0M168.3 841.5h0M142.7 871h0M127.6 835.6h0M130 783.6h0M168.5 898.9h0M176.1 860h0M156.8 774h0M149 771.6h0M107.8 868h0M152 851.2h0M124.9 765h0M131.8 873.2h0M126.2 810.6h0M136.3 828.4h0M139.6 758.1h0M141.2 870.1h0M148.7 729.7h0M167.8 789.7h0M129.3 792.4h0M167 833.3h0M160.6 860.9h0M158.5 834h0M169.1 780.6h0M118.2 879.7h0M153.5 769.1h0M133.9 877.4h0M148.7 727.1h0M163.8 860.2h0M135.1 785.7h0M116.5 801.8h0M136.7 917.7h0M172.5 757.3h0M101.1 799.8h0M166.1 768.8h0M153.6 849.5h0M176.3 802.7h0M167.5 881.1h0M156.4 732.5h0M144.3 798.8h0M177.6 898.6h0M138.2 712.9h0M118.9 814.3h0M156.9 872.5h0M120.3 776.9h0M114.6 808.6h0M130.3 838.4h0M127.4 900.1h0M145.5 774.8h0M124.1 841.8h0M137.9 850.3h0M121.2 834.4h0M118.1 812.1h0M140.7 803.5h0M165.3 757.9h0M138 784.2h0M181.2 848.9h0M180.6 752.8h0M124.2 863h0M128 832.9h0M173.1 778.3h0M113.4 784.8h0M137.7 855.5h0M121.1 795.5h0M146.8 791.5h0M147 850.1h0M153.6 830.3h0M193.1 792.7h0M113.1 837.6h0M100 806.1h0M92.1 819.3h0M117.9 887.8h0M177.5 855.7h0M172.7 904.7h0M130.1 722.1h0M157.7 849.6h0M184.6 771.6h0M153.8 784.6h0M147.5 860.6h0M156.6 797.3h0M136.7 841.4h0M182.7 865.4h0M141.8 857.3h0M136.8 913h0M134 795.5h0M122 896h0M149.7 862.9h0M132.1 778h0M142.9 702.6h0M147.7 778.2h0M150.2 863.8h0M187.3 851.4h0M113.2 842.9h0M127.7 863.3h0M149.9 830.5h0M124.5 897.3h0M181.5 839.9h0M134 882.4h0M142.5 715h0M174.5 856.5h0M124.4 817.3h0M154.5 826.1h0M113.3 753.6h0M158.3 846.7h0M166.4 787h0M138 831.9h0M124.9 863.5h0M112 786.6h0M165.9 840.4h0M172.8 820.7h0M101.1 849h0M150.2 763.2h0M159.2 772h0M165.9 730h0M152 799.5h0M168.6 763.8h0M143.4 780.7h0M152.9 768.1h0M160.7 846.3h0M124.2 819.5h0M168.9 830.7h0M102 823.7h0M139.7 872.5h0M136.1 864.3h0M186.3 797.6h0M142.6 927.3h0M181.2 782.4h0M161.9 795h0M130.5 728.4h0M173.6 834.2h0M114.4 821.8h0M155.4 767.9h0M118.5 832.4h0M118 846.6h0M112.7 826.2h0M177.3 838.1h0M121.9 798.4h0M144.3 783.8h0M136.6 851.3h0M170.8 834.9h0M160 781.4h0M124.4 853.3h0M108.4 833.8h0M156.9 837.3h0M124.7 891.5h0M175.8 851.2h0M170.6 843.4h0M102 773.3h0M170.9 847.7h0M124 789.3h0M143.9 759.2h0M114.6 840.2h0M134.7 754.9h0M165.2 828h0M124.6 844.3h0M178.5 828h0M92.7 838.2h0M127.6 809.1h0M107.6 798.1h0M122.7 775.9h0M102 780.5h0M113.2 844.5h0M179.9 801.2h0M127 797.6h0M120.9 796.3h0M108.7 819.3h0M134.1 856.7h0M157.2 775.3h0M177.4 762.4h0M141.5 742.1h0M156 874h0M147.8 866.3h0M162.3 789.7h0M145.6 731.8h0M129.5 781.5h0M141.2 834.2h0M100.9 776.9h0M108.1 798.6h0M119.2 811.9h0M164.2 794.1h0M147.8 937.3h0M162 787.6h0M155.3 851.3h0M131.8 878.4h0M125 840.6h0M93.4 788.1h0M143 790.6h0M131.9 821.4h0M113.4 787.4h0M175.3 823.9h0M150.1 872.2h0M144.3 863.2h0M159.6 885.9h0M127.1 784.5h0M127.3 786.9h0M149.8 694h0M148.7 871.4h0M170 759.4h0M134.2 718.3h0M150.2 691.1h0M158.2 732.7h0M161.9 779.9h0M106.9 821.2h0M156.9 856.6h0M132.6 756.9h0M169.5 791.7h0M139.7 762h0M174.8 801.7h0M125 790h0M101.3 820.4h0M134.4 913.4h0M178 833.7h0M144 769.5h0M158.3 777.2h0M136.5 752.1h0M179.5 779.5h0M91.7 836.9h0M109.1 812h0M127.4 903.7h0M113.3 755.4h0M107.5 770.5h0M132.4 853.1h0M173.5 811.7h0M159.5 787.6h0M161.5 853h0M133.8 902.7h0M132.1 856.4h0M191.3 786.8h0M123.8 802.2h0M101.1 856.6h0M153.1 851.6h0M153 943.1h0M149.1 756.7h0M118.3 799.3h0M101.1 859.2h0M107.8 813.8h0M184.5 756.7h0M155.3 772.8h0M140.8 801.6h0M166.2 811.9h0M169.3 847h0M112.6 875h0M153.7 862.4h0M128.2 796.2h0M146.5 867.8h0M158.5 870h0M130.4 764.7h0M90.1 791.2h0M101.7 856.6h0M124.9 800.2h0M122.1 823.7h0M138.1 840.1h0M127.5 865.1h0M176 791.8h0M184.9 792.1h0M124 741.8h0M93 813.6h0M136.3 807.7h0M183.7 827.1h0M145.4 751.8h0M124.4 735.4h0M134.9 830h0M142.9 786.8h0M149.1 861.8h0M121.3 811h0M179 832.4h0M141.5 797.2h0M112.7 788.9h0M185.4 846.9h0M109.1 759.5h0M165.3 780.4h0M162.7 806h0M175.2 757.2h0M125.6 772.5h0M121.8 775.1h0M158.5 780.1h0M144.1 926.4h0M100.9 775h0M108.1 836.1h0M152.1 769.1h0M161.6 777h0M108.7 871h0M90.8 846.1h0M154.1 790.4h0M91.4 819.5h0M139.2 847.1h0M171.6 902.5h0M132 790.1h0M101.3 821.7h0M127.7 893.8h0M163.2 832.2h0M135.7 754.2h0M168.8 871.2h0M122.4 739h0M158.7 751.8h0M171.3 775.9h0M163.9 731.7h0M101.7 857.4h0M102.2 802.2h0M172.3 847.9h0M155.9 736.7h0M108.7 862.3h0M141.3 925.1h0M166.4 851.3h0M171.4 756.4h0M158.4 879.2h0M148.7 819.4h0M146.2 883.4h0M129.5 777h0M153.5 793h0M115.1 785.9h0M134.7 912.2h0M179 841.9h0M154.6 834.8h0M117.9 828.9h0M156.1 758.2h0M118.5 748.3h0M123.5 741.5h0M170.3 790.3h0M173.9 820h0M138.2 818.2h0M182 856.5h0M157 854.3h0M140 927.6h0M142.8 821.2h0M121.9 790.9h0M129.8 868.8h0M112.3 827.7h0M155 837.1h0M144.4 766.9h0M167.5 868.2h0M165.9 779h0M117.4 800.4h0M161.7 851.6h0M164.8 836.7h0M153.8 771.2h0M169 757.5h0M127 805h0M118 753.3h0M140.7 794.8h0M169 867.4h0M159.1 768.2h0M158.6 778.4h0M128 868.5h0M163.1 781h0M138.5 791h0M144.8 768.1h0M167.1 852.1h0M121.6 820h0M156.4 785.8h0M108.2 865.8h0M113.3 809.3h0M108.3 815.8h0M124.8 843h0M136.3 766.1h0M151.9 770.8h0M169.4 758.4h0M173.7 782.9h0M124.7 830.9h0M117.9 801.3h0M132.8 807.3h0M132 842.7h0M185.6 844.4h0M107.5 769.3h0M121.5 837h0M184.7 838.5h0M127.5 762.3h0M189.1 792.9h0M156.5 834.3h0M101.7 855.2h0M124.4 739.5h0M107.6 797.1h0M121.8 819.8h0M134.1 778.4h0M129.9 903.7h0M121.4 817.5h0M150.6 805.1h0M174.5 793h0M154.3 750.6h0M90.1 791.1h0M149.9 742.7h0M174 872.3h0M185.7 781.4h0M174.9 847.8h0M107.6 834.5h0M130.2 836.5h0M153.8 786.4h0M136.1 804.2h0M170.5 878.5h0M183.9 778.3h0M132 757.8h0M134 836.9h0M171.7 836.9h0M173.1 762.7h0M125 825.8h0M187.4 778.7h0M151.9 777.7h0M136.3 717.7h0M176 832.6h0M176.9 828.3h0M113.4 822.2h0M121.4 882.2h0M124.8 737.4h0M125.3 821.9h0M164.1 775.3h0M115.1 788h0M118.2 878.4h0M134.7 858.5h0M146.9 842.4h0M149.7 855.5h0M148 748.4h0M123.9 859.7h0M129.9 904.9h0M361.6 823.1h0M368.7 814.2h0M379.7 810.4h0M390.7 806.6h0M393.4 816.8h0M409.9 807.9h0M364.9 805.4h0M258.4 835.1h0M263.5 843.6h0M211.2 832.4h0M234.3 835h0M281.9 832.3h0M239.7 842.3h0M288 834.6h0M291.2 835.8h0M281.8 833.8h0M305.4 828.6h0M317.7 830.3h0M315.1 829.1h0M276.9 838h0M292.3 829.6h0M207 835.2h0M290.1 835.1h0M345.5 828.6h0M204 832.7h0M239.5 848.6h0M299.6 830h0M308.5 830.1h0M201.7 837.9h0M269.5 830h0M265.1 852.5h0M273 832.5h0M255.8 838.5h0M297 823.7h0M214.5 828.8h0M292.3 834h0M205.2 837.1h0M292.1 830.1h0M295 829.4h0M210.3 833.5h0M238.2 828.1h0M249.8 837.9h0M236.7 839.3h0M301.7 830.4h0M275.6 828h0M248.6 841.5h0M229 839h0M203.1 815.1h0M332.4 828.2h0M328.5 830.2h0M212.2 832.2h0M291.9 833.6h0M218.1 846.6h0M212.6 856.6h0M283.8 839.9h0M226.1 839.6h0M209.7 845.3h0M239.8 834.7h0M200.9 844.4h0M324.2 826.7h0M208.5 846h0M227.9 839.1h0M278.8 835.4h0M322.6 829.1h0M243.4 841.3h0M260.3 827.8h0M341.5 829.2h0M207.2 839h0M243 848.3h0M301.7 842.4h0M265.5 829.1h0M208.3 839.9h0M225.4 849.7h0M226.4 838.4h0M291.1 825.8h0M293.3 837.1h0M244.3 845.4h0M207.4 838.5h0M274 828.9h0M304.8 837.8h0M204.2 841.5h0M221.9 845.8h0M272.2 827h0M254.5 855.3h0M304.1 827.5h0M333.4 835.6h0M259.4 839.1h0M313.5 834.9h0M331.8 831.9h0M313.9 828.5h0M338.1 834.6h0M311.5 845.3h0M303.7 837.5h0M284.7 837.2h0M262.4 839.6h0M312.2 834.2h0M282.5 843.5h0M250.7 838.8h0M322.2 835.6h0M263.1 836.8h0M217.3 830.4h0M257.2 840.1h0M250.1 840.7h0M272.8 825.4h0M302.2 826.4h0M213 823.4h0M249.5 843h0M234.7 793.2h0M295.9 791.7h0" stroke="#bdbcbd" stroke-width="4.2" stroke-linecap="round" fill="none"/><path d="M220.2 842.2h0M289.5 839.3h0M316.5 836.6h0M259.4 840h0M319.7 834.1h0M302.8 831.6h0M280.4 840.9h0M276 838.2h0M214.3 841.6h0M305.6 836.3h0M299.2 833h0M254.3 835.5h0M242.5 837.4h0M317.4 830.9h0M283.6 836.3h0M316.8 834.8h0M241 839.9h0M231.5 846.7h0M277.6 832h0M290.9 832.3h0M274.4 839.7h0M331.4 833.3h0M254 839.8h0M270.1 838h0M274.8 831h0M328 834.1h0M256.1 844.6h0M211.9 841.6h0M242.7 838.4h0M289.5 834.9h0M272 839.1h0M301.5 837h0M212.5 848.5h0M206.5 855.7h0M275.9 839.5h0M249.8 840h0M295.4 834.7h0M254.7 850h0M242.7 836h0M304.6 836.2h0M295.6 833.9h0M258.5 835.6h0M272.7 835h0M240.7 838.8h0M328.4 836.2h0M255.8 842.2h0M250.4 841.5h0M267.4 840.7h0M225.3 835.3h0M239 836.2h0M228.3 835.8h0M267.8 834.8h0M243.7 835.1h0M289 844.2h0M259.6 839h0M221.8 838.5h0M237.7 833.9h0M233.3 840.6h0M205.6 852.5h0M270 839.4h0M331.1 834.2h0M276.6 835.4h0M242.4 839.1h0M230.2 838.4h0M279.4 831.5h0M335.5 839.9h0M258.2 838.3h0M331.8 835.8h0M280.8 846.8h0M305.5 834h0M309 844.1h0M223.5 837.1h0M211.8 847h0M262.4 839.3h0M239.1 839.7h0M241.2 837.3h0M247.7 840.4h0M235.4 838.1h0M226.5 835.9h0M217.4 866.4h0M223.5 848.6h0M287.5 831h0M332.6 834.8h0M255 833.5h0M323.7 833.4h0M218.1 852.4h0M289.2 832.4h0M218.2 840.9h0M234.7 842.6h0M269.8 836.6h0M258.1 841.2h0M319.7 831.5h0M275 831.7h0M281.7 840.8h0M226.8 845.7h0M256.3 834.3h0M206.9 843.5h0M295.7 833.2h0M301.8 830.5h0M316.7 834.1h0M308.2 835.8h0M295.1 833.7h0M228.3 835.4h0M216.9 844.1h0M349.4 830.4h0M228 838h0M302.7 839.3h0M225.5 841.7h0M249.8 845.5h0M280.1 836.7h0M268.8 836.2h0M208.1 845.9h0M264.4 836.2h0M217.9 837.5h0M254.9 838.8h0M251.3 837.5h0M241.3 843.6h0M280.5 841h0M230.6 836.7h0M281.7 834.9h0M257.2 844.4h0M245.8 838.2h0M239.5 840.6h0M317.6 833.5h0M308.8 834.4h0M220.3 840.3h0M201.4 851.2h0M272.3 840h0M237 837.4h0M293.7 839.8h0M303.3 838.2h0M300.3 830.8h0M265.1 837.4h0M303.3 835.2h0M291.7 833.3h0M253.1 837.7h0M236.3 838.1h0M333.2 833.9h0M243.9 831h0M286.1 839.3h0M208.2 853.5h0M250.6 845h0M249.8 839.4h0M254.6 831.1h0M311.8 831.9h0M273.1 837.7h0M323.1 834.4h0M323.6 834.2h0M209.2 842.2h0M251.3 838.7h0M226.1 843.1h0M275.3 834.6h0M231.5 844.1h0M279.8 835.9h0M224.5 844.1h0M335.7 834.2h0M225.5 841h0M245.8 841.9h0M207.7 852.1h0M233.5 845.6h0M206.9 855.7h0M269.6 830.7h0M255.3 837.2h0M209.9 846.9h0M254 833.7h0M254.8 855.3h0M232.2 841.6h0M235.5 842.4h0M292.7 832.1h0M315 836h0M248.7 842h0M215 854.7h0M279.4 840.6h0M297.4 836.5h0M289.5 836.6h0M208.5 843.2h0M256.5 840.3h0M220.3 833.8h0M245.1 843.9h0M307.7 837.2h0M247.7 846h0M226.2 839.9h0M254.9 847h0M263.3 840.9h0M272.6 837h0M249.7 842.9h0M253.7 833.3h0M267.2 834.2h0M234.6 830.8h0M213.1 851.3h0M266.6 837.5h0M285 839.5h0M252 848h0M277.4 839.6h0M299.3 836.8h0M299.3 842.7h0M214 853.8h0M321.5 834.1h0M213.4 849.1h0M275.8 836.2h0M261.1 839.2h0M254.4 835.8h0M206.6 851.8h0M239.7 839.6h0M229.5 836.2h0M274.9 838.2h0M232.6 840h0M217.3 846.1h0M278.1 838.7h0M207.6 842.4h0M252.2 855.8h0M264.1 833.7h0M313.3 838.3h0M276.6 833.1h0M246.1 832.4h0M237.8 841h0M210.3 839.1h0M281.8 837.3h0M204.4 843.1h0M257.3 835.1h0M296.8 832h0M347.6 834.1h0M307.4 832.4h0M220.8 844.5h0M300.3 836.3h0M219.4 840.5h0M224.5 832.3h0M237.1 839.8h0M281.5 834.5h0M281.8 831.3h0M277.3 831.3h0M222.1 846.5h0M302.1 833.7h0M217.9 846.2h0M332 838.3h0M321 836.5h0M246.8 841.9h0M339.7 831.9h0M232.3 843.6h0M263.1 838.7h0M249.1 832.7h0M297.6 833.2h0M247.2 836.8h0M221.7 840.5h0M223.6 833.6h0M218.7 839.9h0M207.4 839.6h0M263.3 836.6h0M294.4 830.7h0M259.9 841h0M276 839.7h0M274.8 851.7h0M246.5 835.2h0M232.1 845.5h0M225.5 838.8h0M254.2 842.5h0M282.7 834h0M257.4 837.7h0M280.9 833.2h0M321.2 833.2h0M322.9 838.8h0M277 839.4h0M265.8 832.8h0M280.7 844.9h0M221.3 848.9h0M256.2 837.1h0M241 830.7h0M344.3 834.4h0M220.8 833.9h0M277.4 832.1h0M324 837h0M269.7 835.5h0M213.3 855.8h0M227.4 849.4h0M278 844.7h0M235.6 845.3h0M336 832.5h0M301.1 837.2h0M271.2 840.8h0M249.9 834.4h0M234.9 841h0M248.2 837.5h0M310.3 833.6h0M242.3 845.6h0M215.6 844.9h0M230.1 839.2h0M342 832.8h0M246.2 835.2h0M286.5 832.7h0M215 839.5h0M266.2 835.9h0M235.5 837h0M211.6 839.7h0M210.5 841.7h0M241.4 841.2h0M245.2 840.7h0M242 832.8h0M283.7 834.5h0M260.8 834.3h0M260.4 840.2h0M303.5 837.4h0M224 845.7h0M334.7 837.3h0M275 837.2h0M306.1 836.6h0M278.3 840.8h0M212.5 841.4h0M227.4 842.6h0M277.2 840.6h0M241.3 838.2h0M245.4 840.3h0M219 843h0M331.7 831.3h0M234.7 833.6h0M302 835.5h0M310.1 831.9h0M249.6 844.5h0M308.7 830.9h0M285.7 836.6h0M208.6 843.4h0M225.9 834.7h0M288.1 834.5h0M279.5 839.7h0M219.6 839.2h0M324.8 836.1h0M243.2 841.5h0M262.2 842.9h0M202.8 852.7h0M263.6 842.9h0M318.7 839.4h0M224.9 844.3h0M207.1 845.2h0M291.9 830.6h0M230.9 840.6h0M301.6 833.4h0M215.4 838.8h0M258.9 835.3h0M225.6 832.3h0M204.3 850.3h0M253.7 844.7h0M219.1 839.1h0M263.4 838.3h0M311.3 830.4h0M246.6 847.7h0M300.9 834.2h0M235.9 840.1h0M281.8 842.1h0M228.9 844h0M254 837.5h0M204 858.5h0M317.4 835.6h0M260.1 848.7h0M234.2 839h0M218.9 846.2h0M216.5 849.3h0M239.7 844.9h0M285.1 836.8h0M256 835.8h0M321.4 833.9h0M208.9 840.3h0M211.1 841.9h0M277.8 837.8h0M298.2 835.9h0M247.4 839.8h0M214.1 844.5h0M246.6 837.9h0M229.8 837h0M239 838.2h0M263.1 853.8h0M215.7 855.8h0M221.7 841.9h0M247.7 838.1h0M290.3 833h0M250.9 835.1h0M241.9 842.1h0M323.2 833.3h0M218.1 832.2h0M228.3 840.5h0M241.6 850.2h0M201.8 851.1h0M231 838.5h0M249 839.4h0M214.4 854.6h0M281.2 838.2h0M263 831.8h0M295.2 831h0M253.2 840.6h0M281.9 839.7h0M325 831.4h0M240.1 835.6h0M272 834.3h0M328.8 835.2h0M342.6 836.2h0M249.1 840.3h0M313.8 836.5h0M211.4 840.9h0M288.1 835h0M238.3 846.5h0M250.7 838h0M205.3 852.1h0M259.4 837.1h0M223.8 841h0M263.3 836.4h0M282.8 836.8h0M274.5 835h0M248.7 836h0M266.6 831.6h0M240 858.8h0M246.5 839.1h0M225.5 840.8h0M295.1 836.9h0M233.7 836.7h0M265.5 839.1h0M253.5 839.8h0M243.8 849.8h0M201.8 851.7h0M231 842.2h0M252.9 842h0M311.9 844.4h0M201.7 846.8h0M295.4 848h0M229.4 839.8h0M279.1 837.3h0M215 845.9h0M271.8 838h0M322.7 836.5h0M220.6 847.3h0M249.3 834.3h0M292.8 834.2h0M251.9 838.5h0M247.7 839.3h0M213 835.8h0M292.9 834.5h0M311.6 833.5h0M219.5 861.4h0M267.7 837.2h0M305 837.5h0M328.9 833.9h0M253 832.5h0M301.7 834.5h0M327.8 834.6h0M302 839.2h0M293.4 839.7h0M295.3 833h0M265.8 833.9h0M243.3 840.4h0M275.1 839.9h0M217 839.3h0M221.9 847.2h0M286.3 835.2h0M287.3 833.8h0M252.6 845.8h0M293.3 838.3h0M280.5 845.2h0M206.1 841.5h0M320.5 838h0M227.9 854.4h0M252.3 832.7h0M292.3 839.2h0M266.4 831.3h0M243.1 836.9h0M261.3 836.6h0M206.4 849.8h0M249.9 845.7h0M292.4 835.4h0M292.1 837.7h0M340.1 830.5h0M211.5 844.9h0M279.4 833.2h0M283.9 837.3h0M214.6 847.2h0M247.7 843h0M224.4 839h0M323.6 832.1h0M306.4 838.3h0M217.5 866.4h0M276.5 851.3h0M231.4 853h0M223.1 831.7h0M224.1 842.6h0M266.4 837.2h0M264.3 832.2h0M215.1 850.7h0M332.7 835.8h0M322.4 837.2h0M281.2 832.3h0M318.3 831.7h0M233.1 842.5h0M244.3 838.4h0M230.6 843.1h0M234.6 844.2h0M296.4 836.1h0M312.6 832.2h0M244 839.3h0M224.1 833h0M248.3 845.3h0M305.4 844.2h0M228.2 836.8h0M255.1 834h0M249.8 838.3h0M256 842.6h0M290.7 834.8h0M223 848.2h0M285.7 844.3h0M296.7 841.7h0M262.5 834.2h0M316.5 832.5h0M247.2 845.9h0M285.3 834h0M222.3 847.9h0M279.9 834.8h0M270.6 835.2h0M236.2 835.8h0M223.3 844.3h0M235.2 834.7h0M210.5 848.4h0M294.7 836.5h0M261.4 833.3h0M227 841.2h0M235.1 839.7h0M218.7 857.1h0M289.2 837h0M208.9 838.8h0M285.7 840.6h0M224.2 839.8h0M206.8 841.1h0M254.3 831.7h0M303.8 836.5h0M225.5 830.4h0M279.5 833.9h0M250.9 834.2h0M256.5 839.8h0M254.5 838.7h0M259.1 842.5h0M260.4 833.5h0M219.3 834h0M216.8 841.2h0M273.4 834.2h0M309.7 837.2h0M253 835.6h0M240.9 833.9h0M219.4 844.8h0M326.6 830.4h0M215.9 841.3h0M321.9 832.2h0M312.3 840.7h0M266.1 842.4h0M282.3 836.5h0M246 843.7h0M230.6 838.3h0M211.2 847.8h0M264.7 841.8h0M249.6 832.7h0M281.1 843.3h0M272.5 845.7h0M305.4 832.3h0M214.3 840.3h0M290.1 835.5h0M274.7 845.2h0M300.4 833.4h0M248.1 847.6h0M220.5 865.4h0M290.6 836.6h0M233.3 839.2h0M329.2 832.3h0M255.9 841.4h0M245.8 839.3h0M204.4 842h0M255.2 839.9h0M228.1 847.6h0M337.2 836.3h0M232.2 838.1h0M226.8 853.7h0M238.6 842.3h0M300.1 847.1h0M208.5 845.4h0M222.6 836.3h0M227.9 847.2h0M228 842.3h0M248 834h0M265.3 835.8h0M265.6 840.2h0M318.4 835.2h0M216.6 840.2h0M237.9 838h0M209.1 853h0M226.7 837.2h0M226.2 846.3h0M278.7 844.4h0M262.8 839.7h0M226.5 845.1h0M275.6 837.5h0M274.2 841h0M267.4 835.1h0M273.1 833h0M253.8 843.6h0M220.7 837.1h0M221.2 835.9h0M276.9 844.6h0M213.9 843.6h0M285.8 838.3h0M297.8 838.9h0M307 831.1h0M227.6 857.9h0M274.9 839.3h0M211.9 845.4h0M237.4 848.3h0M205.6 841h0M253.4 834h0M260.7 840.5h0M271.2 838.6h0M326.2 832.4h0M211.9 836.5h0M221.7 834.8h0M227.8 831.2h0M213.9 846h0M310.2 838.6h0M268.4 834.3h0M209 844.7h0M221.5 841.1h0M265.7 834.7h0M247.9 841.1h0M209.5 857.6h0M249.5 837.3h0M215.5 838.7h0M214.6 859.8h0M228.5 842.5h0M222.7 844.6h0M229.5 835h0M277.8 840.5h0M238.6 853.7h0M309.5 835.3h0M289.5 839.6h0M304.2 831.4h0M210.7 838.4h0M211.4 852.1h0M269.4 831.5h0M257 832.9h0M252.6 837h0M315.1 831.9h0M255 838.3h0M234.3 836.1h0M243.6 851.6h0M260.8 848.8h0M338.6 832h0M232.4 848.6h0M320.8 840h0M269.4 833.4h0M285.8 834.5h0M280.4 832.6h0M259 836.4h0M243.1 851.6h0M349.8 834h0M237.6 835.6h0M214.2 834.9h0M233.3 834.7h0M212 843h0M295.4 842.2h0M331.9 832.6h0M259.6 845h0M265.7 848.2h0M224.3 835.5h0M206.2 851.3h0M297 835.4h0M252.6 839.4h0M247.3 844.8h0M214.4 838.6h0M307.8 834.2h0M237.8 842.5h0M248.9 855.8h0M246.3 841.3h0M290.8 833.1h0M327.4 839.6h0M214.8 841.7h0M249.1 832h0M304.7 833.5h0M290.1 833.7h0M288.9 831.4h0M287.7 838.3h0M279.8 846.8h0M320.9 831.6h0M261 854.2h0M209.3 844h0M322 833.4h0M282.4 839h0M234 843.4h0M228.9 842h0M239.3 843.2h0M264.5 842.1h0M225.2 842.5h0M241.6 843.1h0M322.1 835.4h0M244.2 839.9h0M203.1 845.3h0M216.7 843.2h0M279.5 843.2h0M236.8 859.9h0M212.9 855.3h0M224.4 857.9h0M260.7 835.4h0M230.6 835.6h0M310.8 836.5h0M273.6 836h0M241.9 858.2h0M228.9 830.8h0M349.3 834.4h0M272.6 831.4h0M227.6 863h0M214.8 842.6h0M269 837.4h0M238.9 840.7h0M294.2 833.8h0M267 845.1h0M256.7 838.8h0M319.4 835.1h0M248.3 842.2h0M228.6 855.5h0M219.7 846.3h0M273.5 832.9h0M233 836.6h0M285.5 832.7h0M290 842.1h0M325.2 832.4h0M221.9 844.2h0M261.7 831.4h0M303.5 832h0M292.4 840.6h0M284.9 839.3h0M212.4 844.3h0M241.8 846.7h0M223.6 853.8h0M221.2 859.7h0M265.6 846h0M219.3 831.8h0M222.5 837.2h0M219.2 850.1h0M255.4 844.6h0M272.9 838.8h0M234.6 842h0M256.7 837.1h0M252 836.3h0M315 837.8h0M240.8 844.7h0M345.9 831.1h0M291.4 837.5h0M244.9 835.6h0M204.9 847.8h0M263.9 841h0M229.7 841.6h0M271.3 832.4h0M297.5 835.3h0M285.9 835.9h0M210.1 851.8h0M207.7 844.2h0M293.1 831.3h0M291.7 831.9h0M300.3 835.2h0M260.1 835.4h0M267.5 846.1h0M290.7 836.2h0M225.9 855.8h0M315.9 833.9h0M259.9 838.1h0M205.5 844.1h0M258.4 838.8h0M294 844.3h0M312.9 835.9h0M207.3 849.1h0M319.2 838.1h0M291.1 830.5h0M332.2 832.1h0M244.4 841.5h0M249.2 837.6h0M312.9 836.7h0M214.1 849.9h0M287.7 835.5h0M212.8 837.3h0M304.8 842.7h0M202.3 849.8h0M240 832.7h0M260.2 836.4h0M267.3 836.5h0M282.7 838.7h0M269.2 843.4h0M306.3 835.1h0M313.7 835.2h0M245.9 834.4h0M289.2 838.3h0M314.7 832.9h0M262.5 841.5h0M300.9 838.6h0M327.6 833.4h0M304.8 834.9h0M215.3 852h0M238.5 841.9h0M249.5 836.6h0M257.5 834.3h0M299.9 841.6h0M229 846.4h0M258.8 844h0M256 834.8h0M258.4 834.9h0M283 848.1h0M255.5 832.3h0M259.3 832.6h0M308.5 833.4h0M221.1 842.6h0M203.7 846h0M258.4 840.1h0M276.9 836.1h0M266.6 833.3h0M262.1 831.6h0M262.9 830.7h0M242.8 845.8h0M210.4 844.5h0M281.5 839h0M258.6 839h0M267 835.8h0M241.7 840.1h0M285.4 835.8h0M237.1 838.2h0M278.8 835.5h0M217.8 854.6h0M220.4 843.1h0M227.2 842.4h0M225.2 843h0M262.3 837.4h0M240.8 856.3h0M210.7 839.9h0M271.3 838.1h0M226.3 844.9h0M268.1 832.5h0M297.9 831.1h0M260.5 842.4h0M277.6 831.2h0M223.3 842.5h0M262 839.5h0M220.7 840.8h0M259.2 833.5h0M282.6 842.8h0M215.7 835.6h0M290.4 831h0M257.5 830.4h0M236.6 851.6h0M221.8 844.6h0M237.5 833.3h0M297.7 838.1h0M257.1 854.9h0M281.4 847.8h0M303.3 842h0M256.8 849.3h0M334 834.1h0M261.7 854h0M310.1 837.8h0M230.9 849.7h0M235.9 846.3h0M313.8 837.2h0M255 835.6h0M282.3 832.5h0M306.5 832.6h0M264.1 837.6h0M328.1 840.1h0M222.9 838.1h0M215.2 836.4h0M272.3 837.5h0M267.6 832.5h0M334.9 834h0M224.1 831.1h0M213.4 842.9h0M316 836.5h0M284.3 843.8h0M215.6 844h0M240.2 835h0M204 844h0M214.2 836.4h0M232.3 832.9h0M230.9 844.8h0M329.6 832.3h0M255.7 855h0M238.8 838.8h0M243.7 830.5h0M224.1 838.1h0M287.9 844.8h0M203.5 843.9h0M306.4 831.6h0M236.7 846.7h0M253.1 835.2h0M331.5 834.9h0M203.6 852.7h0M271.8 835.3h0M229 841.1h0M272.1 841h0M235.1 846.2h0M268.5 835h0M243.4 856.3h0M209.6 853.4h0M232.3 840.6h0M219.9 847.3h0M253.9 855.4h0M206.5 847.6h0M213.2 867.8h0M266.6 842.4h0M293.3 835.5h0M260.8 832.1h0M288.7 833.1h0M240.3 838.4h0M312.9 835h0M257.9 832.2h0M345.7 831.9h0M234.4 844.9h0M284 834.3h0M336.5 835.7h0M314.5 831.2h0M228.7 833.1h0M295.1 840.7h0M260.9 836.1h0M229.7 843.3h0M258.6 837.6h0M317.4 832.3h0M201.1 852.6h0M296 838.3h0M268.1 840.9h0M241.2 835.6h0M205 849.3h0M244.7 846.1h0M203.3 849.2h0M240.8 831.6h0M269.3 844.8h0M218.2 839.3h0M289.1 842.1h0M260.5 832.6h0M219.2 833h0M215.8 837.6h0M301.3 835.3h0M229.3 848.8h0M268.4 839.7h0M294.4 837.1h0M286 840.3h0M285.3 834.9h0M251.6 834h0M216.7 833.6h0M250.4 835.4h0M254.5 842.9h0M282.7 835.5h0M329.1 836.3h0M247.2 843.7h0M255.2 840.8h0M236.9 844.7h0M249.8 841h0M262.1 834.8h0M234 840.1h0M225.5 858.8h0M248.2 832h0M305.4 837.2h0M206.4 842.6h0M214 849.5h0M310.9 838.3h0M211.6 838.3h0M221.3 841.8h0M224.3 851.3h0M309.6 842.4h0M277.6 834h0M237 839.3h0M279.8 830.7h0M329.6 838.1h0M268.1 838.6h0M225.8 863.1h0M296.1 834.7h0M267.9 841.7h0M217.6 842h0M229.7 836.4h0M341.5 830.5h0M284.1 838.9h0M234.1 835.4h0M262.3 842h0M235.4 839h0M324.8 834h0M215.9 842.4h0M252.4 844.4h0M233.4 847.6h0M236 837.1h0M245.7 836.8h0M253.5 830.4h0M302.8 833h0M217.3 851h0M246.7 842.8h0M211.9 858.2h0M207.4 843.2h0M334.5 834.9h0M237 835.3h0M320.3 830.8h0M290.4 841.5h0M327.3 836.3h0M274 836.8h0M212.6 853.8h0M321.1 835h0M250.7 841.3h0M324.2 830.3h0M295.9 832.2h0M284.2 840h0M227.9 843.7h0M306.7 834.3h0M217.3 836.1h0M291 834.4h0M329.3 838.2h0M287.5 839.2h0M277.3 837.4h0M269.3 847.8h0M215.4 837.9h0M203.7 852.4h0M242.9 839.5h0M246.3 835.9h0M203.8 855.4h0M309 835.5h0M214.9 861.5h0M236.1 844h0M281.3 835.6h0M264.8 833.5h0M257.7 833.7h0M337.8 831.1h0M255.4 835.3h0M213.9 850.5h0M218.3 835.2h0M333.8 832.7h0M233.6 833.9h0M205.9 844.9h0M209.6 844.3h0M238.6 854.7h0M222.8 853.7h0M347 830.8h0M290 837.5h0M239.8 837.4h0M237.5 843.2h0M263.1 832.7h0M268.4 837.7h0M207.3 850.2h0M274.5 838.7h0M229.5 840.1h0M258.6 842h0M342.7 830.6h0M337.1 832.7h0M230.1 851.6h0M226.4 836.9h0M285.9 849.7h0M299.5 835.5h0M272 830.7h0M287.2 836.5h0M263.6 836.6h0M276.3 831.7h0M252.1 834.7h0M337.3 830.6h0M201.8 856.3h0M276.7 837.7h0M251.6 836.9h0M221.8 864.9h0M344.9 834.3h0M262.7 843.8h0M286.7 840.4h0M233.7 838.1h0M315.5 835.4h0M307.3 835.9h0M330 833.7h0M289.5 831.6h0M341.5 832.7h0M213.4 853.3h0M253.5 833h0M222.4 843h0M322.8 834.8h0M276.4 833.2h0M231.7 837.3h0M220 832.2h0M218 835.7h0M246.7 847.4h0M277.6 834.9h0M227 846.5h0M279 839.2h0M339.4 836.8h0M246.3 832.7h0M244.3 842.9h0M232.4 845.3h0M293.9 836.2h0M241.2 842.3h0M229.1 839.4h0M275.4 846.8h0M224.5 835.6h0M219 848.8h0M231.6 832.2h0M303.6 834.1h0M212.4 868.1h0M254.7 844.2h0M228.1 833.3h0M263.8 839.6h0M253.7 831.2h0M228.8 845.1h0M342.3 831.7h0M293.5 848.3h0M237.2 841.1h0M313.6 838.1h0M330.1 834.6h0M217.2 837h0M294.5 840.4h0M315.7 832.9h0M302.2 837.7h0M215.1 845.4h0M220.7 843.8h0M274.7 833.9h0M273.1 841.4h0M213.8 846.5h0M259.8 837.3h0M247.4 836.2h0M286.5 839.4h0M225.9 847.4h0M247.1 840.9h0M279.4 835.9h0M242.5 852.8h0M261.9 833.5h0M285.5 849.8h0M242.6 833.8h0M273.9 842.2h0M248.7 840.6h0M323.3 831.3h0M300.8 837.7h0M217.8 855.9h0M231.1 833.8h0M239.7 842h0M304.9 840h0M243.1 835.5h0M265.3 840.7h0M208.3 849h0M271.6 841.7h0M229.5 833.5h0M284.9 848.9h0M231.1 835.5h0M238.8 836.6h0M260.8 838.2h0M221.4 845.8h0M270.8 844.1h0M332.4 837.2h0M208.9 841h0M274.6 836.2h0M265.1 837.8h0M307.2 836.6h0M225.4 839.7h0M270.1 841.1h0M307.6 840.2h0M224.5 848.9h0M226.7 832.5h0M267.2 840.2h0M242.3 834.9h0M256.7 830.9h0M219.7 845h0M217.7 847.3h0M210.7 842.7h0M283.1 846.6h0M230.3 846.2h0M222.9 845.8h0M267.3 843.6h0M218.8 855.9h0M241.5 843.3h0M262.4 833.7h0M290.3 835.1h0M302.4 839.6h0M276.4 834.3h0" stroke="#1b4694" stroke-width="4.2" stroke-linecap="round" fill="none"/><path d="M212.9 793.3h0M317.7 798.7h0M280.4 798.3h0M238.3 798.4h0M262.3 791.3h0M291.1 797.1h0M245.6 782.7h0M214.7 778.5h0M218 787.4h0M297.6 788.2h0M246.4 792h0M255.5 798h0M321.5 792h0M264.5 780.4h0M259.7 789.6h0M307.8 797.3h0M281.1 789.1h0M280.4 796.8h0M290.2 783.2h0M284.2 798.1h0M231.7 791.9h0M217 795.7h0M259.1 794.7h0M218.7 787.3h0" stroke="#d3261f" stroke-width="4.2" stroke-linecap="round" fill="none"/>
</svg>
<path d="M76.1 800.5H428.4" stroke="#2a2222" stroke-width="1.7" stroke-dasharray="14 10 4 10" stroke-dashoffset="26"/>
<path d="M76.1 830.3H428.4" stroke="#2a2222" stroke-width="1.7" stroke-dasharray="14 10 4 10" stroke-dashoffset="26"/>
<text x="168.2" y="778.0" font-size="25.56" font-style="italic">Gata6</text>
<path d="M208.8 784.3L213.9 794.5" stroke="#1a1212" stroke-width="1.5"/>
<circle cx="214.2" cy="795" r="2.2" fill="#bdbcbd" stroke="#1a1212" stroke-width="0.9"/>
<text x="166.3" y="824.0" font-size="24.63" font-style="italic">Otx2</text>
<path d="M224.8 819.9L240 830.8" stroke="#1a1212" stroke-width="1.5"/>
<text x="304.7" y="873.0" font-size="25.30" font-style="italic">Klf4</text>
<path d="M290.2 832.3L299.6 854" stroke="#1a1212" stroke-width="1.5"/>
<text x="362.1" y="859.9" font-size="25.54" font-style="italic">Esrrb</text>
<path d="M354.9 826.9L369.4 838.8" stroke="#1a1212" stroke-width="1.5"/>
<circle cx="354.6" cy="826.6" r="2.2" fill="#bdbcbd" stroke="#1a1212" stroke-width="0.9"/>
<rect x="76.1" y="647.7" width="352.29999999999995" height="335.9" fill="none" stroke="#1a1212" stroke-width="2.9"/>
<rect x="260.6" y="647.7" width="167.79999999999995" height="65.59999999999991" fill="#fff" stroke="#1a1212" stroke-width="2.7"/>
<circle cx="271.1" cy="667.8" r="5.2" fill="#d3261f"/>
<circle cx="271.1" cy="694.9" r="5.2" fill="#1b4694"/>
<text x="279.0" y="673.8">Up: 24</text>
<text x="279.0" y="703.2">Down: 1,788</text>
<text x="203.0" y="635.1">2 h vs 0 h</text>
<text x="55.3" y="669.8">6</text>
<text x="55.3" y="746.6">3</text>
<text x="55.3" y="824.2">0</text>
<text x="40.2" y="900.0">−3</text>
<text x="40.2" y="975.5">−6</text>
<text x="101.0" y="1007.8">0</text>
<text x="210.8" y="1007.8">2</text>
<text x="320.4" y="1007.8">4</text>
<text x="58.2" y="1030.0">Log</text>
<text x="102.5" y="1038.6" font-size="16.00">10</text>
<text x="119.0" y="1030.0">(Mean of normalized counts)</text>
<g transform="translate(32 805.5) rotate(-90)"><text x="-109.5" y="0">Log<tspan font-size="16" dy="7.5">2</tspan><tspan dy="-7.5">(Fold Change)</tspan></text></g>
<svg x="555.2" y="648.5" width="352.0999999999999" height="335.1" viewBox="555.2 648.5 352.0999999999999 335.1" overflow="hidden">
<path d="M759.7 812.7h0M749.2 817.1h0M643.3 794.5h0M639.9 836.2h0M751.6 820.4h0M793.3 814.6h0M659.7 831.9h0M663.4 801.8h0M764.3 805.4h0M715.2 824.6h0M704.1 814.4h0M690.9 815h0M627.9 809.5h0M712 829.6h0M681 840.2h0M698.9 833.1h0M729 813.2h0M757.5 818.6h0M745.7 816.3h0M769.6 819.3h0M615.5 825.8h0M751.7 816.5h0M729.3 802.5h0M792.7 814.4h0M812.8 816.4h0M613.5 816.9h0M787.8 809.2h0M670.8 844.4h0M745.8 823.8h0M774.1 824.8h0M791.9 806.6h0M813.2 814.1h0M747.8 813.7h0M794.5 806.9h0M720.4 817.4h0M666.6 802.9h0M650.4 812.8h0M720.6 822.7h0M770.3 804.3h0M710.9 795.2h0M757.1 822.6h0M642.5 817.7h0M822.8 822.1h0M715.7 796.5h0M787.4 816.2h0M766.8 823.9h0M777.6 815.3h0M697.7 803.3h0M639.1 813.2h0M712.1 809.8h0M687.2 816.6h0M700.7 808.4h0M832.5 816.4h0M682.5 823.6h0M778 823h0M651.8 851.4h0M739.6 810.8h0M690.3 822.5h0M668.5 805.3h0M699.5 815.1h0M811.6 815.2h0M736.5 814h0M724.6 830.5h0M782.5 814.1h0M721.7 817.2h0M639.6 873.7h0M643.8 843.2h0M764.6 814.8h0M714.3 807h0M661.2 833.2h0M821 811.8h0M674.4 796.8h0M778 809.4h0M684.3 808.2h0M726.4 827.2h0M621 832.6h0M763.4 813.3h0M679 871.3h0M707.9 818.3h0M763.7 816.8h0M834.9 811.8h0M710.5 824.7h0M755.3 806.6h0M718.1 820.6h0M754.1 814.9h0M650.2 837.5h0M833.6 818.3h0M646.7 841.3h0M754.4 821.3h0M628.4 820.4h0M633.5 852.3h0M797.7 810.3h0M771 810.1h0M635.8 833.7h0M676.8 822.2h0M629.5 855.1h0M811.8 815h0M791.7 804.5h0M776.8 817.9h0M760.5 811.1h0M755.4 823.1h0M619.9 750h0M626 815.8h0M680.8 787.4h0M736.3 821.4h0M788.1 817.6h0M709.6 798.9h0M670 817.2h0M747.8 817.6h0M816.3 813.9h0M718 833.7h0M733.3 816h0M678.6 826.8h0M771.9 824.1h0M647.3 813h0M754.8 817h0M663.4 817.4h0M721.3 810.5h0M787 811.6h0M734.1 814.8h0M805.2 817.7h0M711.1 843.1h0M614.3 829.2h0M824 817.3h0M775.1 826h0M786.4 803.3h0M787.7 820.9h0M642.8 833.5h0M797.9 823.9h0M632.8 862.4h0M682.6 821.4h0M650.5 822.7h0M717.5 811.7h0M657 803.8h0M661.7 810.2h0M736.8 822.5h0M650.7 802.9h0M717.3 829.5h0M759.7 802.5h0M614.5 813.4h0M800.1 806.1h0M772.1 800.9h0M771.5 835.3h0M765.8 818.7h0M819.1 812.8h0M646.9 828.4h0M632.5 823.1h0M769 810.5h0M615.3 804h0M746.9 807.7h0M745.6 818.8h0M809.2 813.1h0M636.1 818.3h0M691.4 816h0M773.1 814.4h0M690.7 830.2h0M679 811h0M654.7 834.6h0M616.1 798.8h0M726.8 817.1h0M627.9 808.8h0M714.7 828.3h0M767.8 817.9h0M704.7 839.3h0M742.5 830.7h0M816.6 813.4h0M749.5 821.9h0M754.8 805.2h0M722.7 827.8h0M689.3 819.2h0M651.1 834.2h0M696.6 813.9h0M731.7 823.8h0M823 824.7h0M675.1 846.3h0M794.4 815.4h0M778.6 808.4h0M694.4 832.1h0M736 816.4h0M618.1 817h0M826.6 816.5h0M719.5 805.3h0M649 823.5h0M780.3 807.8h0M797.2 807.1h0M768.4 820.4h0M827.2 819.5h0M676 838.7h0M731.6 811.2h0M709.1 823.5h0M676.6 802.2h0M757.2 817.3h0M714.5 786.6h0M697.8 808.6h0M760.7 806.9h0M674.9 814.6h0M687 803.8h0M838 814.9h0M698.9 810.1h0M688.6 818.9h0M820.3 808.4h0M808.3 815.2h0M636.2 835.3h0M782.6 807.7h0M661.6 806.6h0M750.6 824.8h0M770.4 798.5h0M626.6 822.5h0M739.7 813.1h0M652.9 793.7h0M787.7 817.4h0M665.1 798.4h0M660.7 799.2h0M692 814.9h0M731.2 827.3h0M804.3 807.1h0M654.6 834.1h0M790.4 823.8h0M705.2 825.9h0M833.7 807.6h0M748.1 821.2h0M663.9 837.1h0M722.7 816.3h0M769.5 818.1h0M788.4 821h0M714.4 827.7h0M696.6 816.5h0M768.3 819.1h0M637 847.1h0M762 801.1h0M700.2 804.6h0M759.8 820.9h0M633.6 807.8h0M670.7 789.4h0M681.6 824h0M821.2 808.9h0M633.5 803h0M736.4 818.9h0M783.9 802.2h0M624.3 796.1h0M769.1 816.5h0M804.1 813.6h0M737.2 817.8h0M708.4 816.7h0M655.7 821.5h0M739.8 815.3h0M676.6 821.3h0M678.2 804.9h0M727.1 816.5h0M630.1 833.9h0M718.4 809.9h0M670.6 813.7h0M713.5 835.2h0M656.7 839.9h0M770.2 812.1h0M795.5 810.3h0M802.5 821.9h0M800.1 807.7h0M771.4 813.5h0M646.5 831.5h0M732.1 810.2h0M821 816.4h0M821.9 804.1h0M647.6 821.6h0M616.3 842.3h0M739.4 819.6h0M761.8 819.3h0M653.2 838.9h0M816.3 810.7h0M676.7 783.1h0M667.2 817h0M762 817.3h0M617.9 807.6h0M714.1 816h0M754.6 807.8h0M733 824.3h0M666.5 823.4h0M731.9 814.3h0M735.5 804h0M698.4 793.3h0M825 813.9h0M626.2 826.9h0M671 829.9h0M764.1 836h0M681.7 805h0M772.1 822.9h0M770.4 801.4h0M703.8 817.2h0M790.7 837.9h0M759.7 816h0M755.4 823.4h0M729.9 811.2h0M734.7 817.8h0M808.4 814.4h0M788.1 818.8h0M669.3 831.6h0M801.7 826h0M742.8 827.6h0M716.1 835.1h0M728.5 811.9h0M729.9 807.1h0M717.7 813.8h0M818.9 817h0M771.9 819.3h0M638.4 844h0M676.9 797.1h0M694.5 859.2h0M826.2 816h0M733 830.9h0M746.7 803.9h0M817.1 822.4h0M787.2 823.6h0M671.6 798.4h0M740.9 815.5h0M722 822.5h0M614 835.1h0M728.9 826.4h0M813.4 821.1h0M757.4 815.9h0M645.3 804.5h0M823.5 815.8h0M729.5 826.5h0M801.9 822.4h0M775.7 806h0M821.1 818h0M724.5 805.3h0M720 809.3h0M627.2 846.7h0M668.3 813.3h0M673 805.9h0M738.8 806.1h0M753.4 820.1h0M642.3 833.9h0M728 827.5h0M611.4 809.3h0M621.3 874.7h0M734.9 815.7h0M761.4 816h0M705.8 820.9h0M746.1 821h0M788.8 823.7h0M728.8 815.4h0M800.4 811.4h0M716.1 819.4h0M785.8 802.3h0M750.6 811.8h0M747.5 815.4h0M719.1 812.9h0M779.5 818.1h0M747.5 821.5h0M795.5 819.1h0M792.1 812.6h0M693.4 813.2h0M814.4 809.4h0M675.2 827.4h0M665.6 807.9h0M612.4 840.1h0M801.4 814h0M668.4 815.7h0M692.8 823.1h0M716.5 814.6h0M637.9 805.3h0M721.4 806.7h0M697.3 837.3h0M621.9 809.3h0M693 821.4h0M756.3 825.1h0M809.7 818.9h0M742.2 818.4h0M743.7 833h0M699.5 834.5h0M745.9 814.2h0M784.6 809.1h0M717 829.7h0M783.3 807.4h0M663.1 823.7h0M681.9 809.1h0M707.5 811.7h0M671.8 808.6h0M681.7 846.2h0M690.7 821.8h0M773 813.3h0M715.1 816.5h0M665.8 790.7h0M632.6 789.7h0M795 816.8h0M762 808.8h0M632.2 863.8h0M618.4 803.8h0M685.7 799.8h0M619.4 791.3h0M660.7 804.6h0M824.6 819.3h0M710.1 809.7h0M771.2 821.2h0M806.1 808.9h0M719.8 810.6h0M776.9 818.1h0M739.5 803.2h0M712 813.8h0M658 852.3h0M669.2 818.8h0M737.4 812.2h0M670.9 790.8h0M642.5 803.2h0M758.8 818.2h0M695.2 830.9h0M700 811.5h0M742.1 799.2h0M655.3 857h0M763.5 813.7h0M715.5 830.1h0M774.6 822.2h0M726.3 819.5h0M785.6 827h0M751.5 806.8h0M715.3 798.5h0M754.8 812h0M653.4 832.5h0M712.5 799.7h0M649.1 797.9h0M770.2 826h0M726.7 825.5h0M789.2 814.5h0M695.4 786h0M796 812.7h0M626.5 847.6h0M632.1 837.7h0M686.9 791.4h0M665.6 786.3h0M716.5 806.5h0M675.6 821.3h0M784.4 815.7h0M782.1 818.4h0M643.5 872.5h0M663.2 799.5h0M798 813.1h0M805.2 808.7h0M822.9 815.1h0M809.7 808.4h0M723.7 826.4h0M619.2 831.9h0M721.8 813.5h0M624.7 802.4h0M642 799h0M655.2 825h0M667.6 781.2h0M717.3 810.2h0M662.6 822.4h0M702 785.9h0M804.9 818.7h0M704.2 812.8h0M794.6 808.1h0M653.2 835.3h0M689.8 802.3h0M794.8 828.4h0M741 819.9h0M691.7 808.5h0M662.1 814.4h0M750.8 819.7h0M700.8 819.4h0M785.3 814.5h0M651.6 813.8h0M774.1 821.5h0M778.9 822.7h0M729.1 802.2h0M758.2 820.9h0M661.1 841.5h0M726.7 812.6h0M744 805.1h0M696.6 821.8h0M730.3 805h0M807 812h0M704 804h0M709.1 827.9h0M800.3 816.7h0M646.6 821.5h0M708.5 797.3h0M758.5 806.3h0M679.7 799h0M723.3 817h0M802.3 816.2h0M683.5 847h0M710.2 801.6h0M626.7 824.3h0M638.9 847.8h0M640.3 824.9h0M748.7 793.2h0M732.8 806.1h0M777.4 806.2h0M662 808.8h0M617.5 820.4h0M793.6 829.3h0M698.7 830h0M652.8 820.8h0M724.8 810.6h0M630.8 811.7h0M643.5 802.4h0M689.7 808.7h0M794.3 809h0M641.1 855.3h0M776.4 794.3h0M646.2 847.7h0M734.6 811.4h0M800.9 806.8h0M634.1 820.2h0M762.5 818.9h0M719.9 794.5h0M629.8 842.3h0M794.4 818.3h0M800.5 810.1h0M636.6 772.7h0M665.5 839.8h0M784 821h0M670.5 793.1h0M704 830.7h0M770.6 816.3h0M684.3 813.5h0M630.3 791.3h0M675.2 789.2h0M685.9 826.8h0M638.1 835.5h0M792 798.6h0M697.5 809h0M684.5 826h0M752.9 803.7h0M684.6 799.6h0M739.3 814.1h0M763.1 821.6h0M737.7 836.2h0M627.2 800.5h0M818.5 811.6h0M707.5 813.1h0M752.3 811h0M697.2 813.1h0M682.6 847.4h0M677.8 839.6h0M632.7 820h0M796.8 814.1h0M634.7 785.7h0M682 821.9h0M797.3 809h0M612.6 835.6h0M748.6 811.8h0M682.7 799.7h0M713.9 832.4h0M825 820.8h0M698.9 786.1h0M789.9 810.2h0M732.7 826.5h0M818.2 817.2h0M770.2 806.6h0M636.3 809.9h0M762.3 806.4h0M798.1 807.2h0M655.7 825.1h0M813.8 813.6h0M659.4 817.5h0M680.9 820.9h0M681.6 817.3h0M703 821.1h0M708 821.7h0M728.6 817.7h0M790.5 816.3h0M806.5 814.9h0M711.4 824.1h0M693.3 803.7h0M671.5 814.1h0M753.5 812.4h0M793.8 826.9h0M782 815.9h0M678.8 830.6h0M744.6 809.8h0M634.3 825h0M708.4 814.4h0M681.5 806.4h0M725.1 803.7h0M689.8 797.4h0M662.1 795.7h0M654.4 830.3h0M670.4 826.8h0M707.2 816.2h0M744.8 811.5h0M807.5 816.8h0M738.4 820.1h0M753.7 824.9h0M639.6 838.7h0M691.5 829h0M780.4 810.6h0M675.1 809.7h0M654.4 808.8h0M727.9 824.9h0M753 807.9h0M648.1 805.2h0M803 816.4h0M812.9 824.1h0M669.3 794.5h0M737 798.9h0M687.3 796.1h0M759.5 825.9h0M640.1 813.4h0M657.1 770.5h0M634.4 843.1h0M636.5 832.3h0M632 853.7h0M684.8 827.5h0M685.7 830.3h0M791.4 808.5h0M766 812.5h0M663.8 828.8h0M679.3 812h0M757.9 813.8h0M664.5 798.6h0M833.9 810.9h0M775 808.1h0M826.9 811.5h0M679.2 783.1h0M689.1 805.9h0M719.9 835.4h0M811.2 819.8h0M652.8 813.9h0M779.2 810.4h0M621.4 777.2h0M664.6 834.1h0M689.4 800.1h0M630.2 832.5h0M693.2 818.4h0M836.2 824.5h0M681.3 814.4h0M655.3 773.8h0M682.6 825h0M626.4 819.9h0M634.4 818.8h0M678.5 831.2h0M636.8 798.4h0M731.5 834.9h0M708.5 807.8h0M790.9 810.9h0M734.7 805.8h0M613.7 779.1h0M793.5 822.8h0M779.7 815.7h0M694.3 826.8h0M741.8 802.4h0M831.1 817h0M734.5 823.7h0M617.1 845.1h0M649.1 813.1h0M819.1 814.2h0M811.3 809.9h0M714.8 825h0M825.3 813.4h0M624.4 784.7h0M799.3 822.6h0M782.2 811.5h0M706.4 819.3h0M779 808.9h0M752.2 810.4h0M719.4 818.7h0M710.9 807.5h0M743 816.1h0M633.3 791.1h0M769.6 814.9h0M665.2 796.5h0M730 814.3h0M646.5 810.8h0M631.6 803.5h0M630 875.7h0M618.7 817.8h0M692.6 810.4h0M642 831.7h0M711.2 822.2h0M652.2 801.9h0M690 814.7h0M659.1 836.3h0M750.5 823.7h0M749.1 827.7h0M608.2 811.8h0M679.4 823.9h0M647.6 833.2h0M731.4 816.1h0M760.7 823.7h0M671.2 819.6h0M633.5 797.9h0M812.7 809.6h0M772.5 821.5h0M808.1 813.1h0M743.7 814.2h0M699.5 797.1h0M728.7 808.7h0M819.6 816h0M627.8 816.6h0M666.2 789.3h0M674.2 836.6h0M616.2 824.3h0M730.8 805.1h0M644.7 795.4h0M612.1 829.7h0M694.9 843.7h0M658.6 839.8h0M675.5 823h0M621.1 783.7h0M798.6 811.8h0M685.2 819.6h0M817.8 815.3h0M708.8 810.8h0M650.7 839.7h0M688.8 827.8h0M801.1 819.3h0M785.6 821.8h0M711.1 831.4h0M655.3 808.3h0M696.4 829.8h0M770.8 808.6h0M691.2 791.1h0M635.2 831h0M665.7 820h0M660.7 854h0M688.3 795.1h0M763.7 825.2h0M686.7 815h0M764.5 818.3h0M722.1 823.9h0M776.4 821.1h0M685 831.2h0M771.9 825.3h0M701.9 828.5h0M814.9 815.7h0M728.1 809.1h0M651.2 808.5h0M749.5 828h0M665.4 833.1h0M656.6 779.7h0M689 827.7h0M783.4 814.5h0M650.7 769.2h0M743.5 812h0M672 821.4h0M807.3 825h0M819.1 822h0M774.4 820h0M749.2 831h0M649.3 767.4h0M772.5 810h0M630.4 798.6h0M768.4 816.4h0M626.8 851.3h0M619.4 832.8h0M648.1 847h0M747.7 810.2h0M790.4 820.6h0M624.4 847.3h0M633.8 819.8h0M738.5 821.3h0M777.9 823.5h0M794.6 811.6h0M725.9 831.4h0M763.8 811.7h0M638.9 820.5h0M760.7 817.9h0M787.2 813.7h0M659.3 780.9h0M751.6 805.5h0M706.7 809.8h0M719.4 812.6h0M748.2 814.8h0M642.5 809.6h0M818.3 825.3h0M610.3 807.2h0M812.7 822.7h0M698.4 842.9h0M746.7 813h0M721 821.4h0M701.7 822h0M780.1 816.4h0M621.7 795.4h0M627.2 845.1h0M657.3 838.8h0M714.4 808.5h0M671.5 780.8h0M615.2 842.1h0M761.4 820.3h0M642.6 846.5h0M724.5 815.5h0M756.9 814.6h0M633 839.9h0M810.2 810.4h0M707.7 790.1h0M830.1 810.7h0M676.6 852.2h0M637.6 841.9h0M610.9 819.9h0M731.7 822h0M705.5 827h0M745.8 810.2h0M625.2 854.5h0M613 808.7h0M767.3 826.4h0M669.8 816.7h0M713.5 807.4h0M769.3 821.1h0M645.8 794.8h0M659.8 821h0M753.9 816.1h0M666.4 822h0M767.1 810.5h0M663.2 784h0M804.9 825.1h0M664 789.5h0M641.8 846.7h0M773.4 816.2h0M805.4 814h0M838.5 818.5h0M702.4 834.2h0M632 792.2h0M722.7 833.9h0M776.2 827.4h0M790.1 803.9h0M789.8 801.8h0M648.4 795.4h0M664.3 780.2h0M840.2 807.7h0M729.4 819.9h0M687.3 805.1h0M673.5 795.9h0M660 825.3h0M658.6 851.2h0M832.4 815h0M611.3 839.9h0M693.5 823.5h0M615.6 797.5h0M621.6 834.8h0M631 816.1h0M636.9 833.4h0M645.1 840.1h0M700.9 836.9h0M753.4 804.9h0M819.2 806.1h0M709.7 810.6h0M652.8 855.9h0M733.6 805.1h0M780.7 825.9h0M737.6 822.7h0M833 813.6h0M677.3 812h0M709.5 844.8h0M743.3 816.7h0M688.1 820.8h0M818.2 813.1h0M671.6 861.2h0M815.3 810.3h0M785 803.5h0M701.6 823.1h0M670.9 853.5h0M679.1 806.5h0M658.2 832h0M683.2 829.5h0M685.2 814.4h0M784.9 818.4h0M675 817.9h0M731.7 819.9h0M806.7 819.4h0M667 842.1h0M669 827.9h0M723.6 814.4h0M735.1 819.3h0M649.9 793.7h0M668.7 820.8h0M644.8 813.5h0M772.9 818.5h0M771.1 813.8h0M733.6 823h0M673.5 794.2h0M683.2 804.4h0M657.7 870.9h0M720.1 831.4h0M742.4 820h0M713.3 813.3h0M843.5 814.3h0M773.1 823.6h0M725.9 809h0M652.8 825.6h0M737.7 808.4h0M655.1 823.7h0M643.1 807h0M798.5 803.2h0M676.5 808.9h0M831.2 814.4h0M771.4 811.7h0M648.1 819.4h0M653.2 841.2h0M672.7 828.3h0M629.5 825h0M794.1 810.4h0M713.3 822.2h0M810.7 817.9h0M660 807.9h0M610 809.9h0M675.1 813.4h0M758 818.9h0M703.1 794h0M802.3 821.5h0M672.8 812.2h0M671.5 807.1h0M689.3 820.7h0M748.6 806.6h0M671.7 821.7h0M715.1 800.4h0M632.3 788.4h0M817.2 813.8h0M665 838h0M704.2 820.1h0M711 798.6h0M769.9 807.7h0M722.4 802.8h0M746.4 805.7h0M681.1 845.1h0M687.2 793.7h0M687 843.4h0M798.8 816.4h0M628.5 849.2h0M639.2 842h0M629.8 849.4h0M670.7 770.1h0M717.1 816.7h0M669 822.1h0M701.7 800.7h0M618.4 797.5h0M609.7 802.6h0M749.9 807.2h0M707.4 820.5h0M664 820.1h0M741 824.4h0M650.7 821h0M616.7 806.8h0M640.9 819.4h0M745.2 808h0M803.8 821.2h0M697.8 813.7h0M682.1 795h0M685.5 802.6h0M721.9 819.7h0M654.4 837.3h0M776 810.7h0M749 815.7h0M700.2 797.2h0M648.8 826.2h0M695.6 850.4h0M705.5 810.1h0M800.2 812.1h0M772.2 810.9h0M706.7 806h0M625.2 824.9h0M660 829.7h0M697 829.9h0M773.6 814.4h0M764.2 816.3h0M652.1 830.4h0M721.1 809.4h0M795 823.4h0M644.2 817.5h0M628.6 803.8h0M733.3 832h0M813.7 817.1h0M618.3 800.7h0M616.2 833.5h0M766.1 809.4h0M691.5 820.2h0M708.3 794.7h0M646 827.1h0M788.1 806.9h0M705.7 822.8h0M692.5 834.1h0M629.9 809.3h0M666.4 813.7h0M681 793.5h0M718.6 808.3h0M775.6 816.5h0M712.4 820.3h0M749 812.8h0M695.3 831.9h0M720.7 816.4h0M648.6 823.2h0M659.8 827.5h0M677.9 785h0M679.7 847h0M614.9 798.5h0M612.3 799.8h0M737.8 815.1h0M774.1 810.4h0M738 824.4h0M614.8 797.1h0M788.1 808.1h0M739.8 817h0M644.7 867.7h0M685.2 837.4h0M713.6 809.9h0M659.5 802.1h0M753.2 817.1h0M703.1 814.3h0M728.7 815.4h0M669.5 882.1h0M799.9 821.5h0M750.4 807.8h0M651.4 804.7h0M725.4 819.1h0M607.9 812.5h0M707.5 824.5h0M671.1 797.9h0M642 842.3h0M692.1 816.6h0M809.2 813.6h0M695.1 814.6h0M710.2 821.8h0M750 820.9h0M758.4 832.2h0M650.8 832.3h0M641.7 801.9h0M643.6 808.3h0M626.5 813.4h0M716.9 794h0M686 801h0M692.7 818.2h0M773.2 808.1h0M808.5 819.1h0M625.1 834.9h0M738.1 827.2h0M788.2 827.2h0M634.3 855.7h0M713.3 815h0M686.1 831.6h0M779.1 819.3h0M718 816.7h0M699.1 813.6h0M737.1 810.1h0M773.6 824.9h0M666.5 809.1h0M800.3 805.4h0M792.3 816.2h0M676.7 805h0M743.7 826.6h0M626.2 804.5h0M647.5 809.7h0M722.4 829.5h0M713.9 824.4h0M790.6 828.9h0M643.6 813.7h0M765.3 809.9h0M783.6 828.1h0M762.5 826.8h0M672.8 811.7h0M644.2 832h0M654.8 879.3h0M760.2 804.1h0M697.5 826.8h0M645.2 789.1h0M635.1 815.4h0M764.5 821.6h0M644.9 785.5h0M695.2 810.9h0M794.5 813.5h0M726.3 804.1h0M786.7 826.7h0M680.5 819.9h0M749.8 822h0M729.2 821.6h0M636.3 843.5h0M762.3 824h0M811.5 821.4h0M710.2 812.9h0M787.4 813.4h0M787.9 828.2h0M671.8 802.1h0M661.4 816.1h0M747.3 829.5h0M812.4 812.1h0M696.1 802.2h0M796.1 811.6h0M793.2 824.3h0M843.2 811.8h0M664.7 774.8h0M676.8 835.9h0M609.1 844.7h0M805.7 824.7h0M754.7 819.5h0M651.6 860.8h0M635.1 839.5h0M696.9 823.3h0M624.2 832.7h0M646.5 845.8h0M656.9 791.9h0M606.8 813.5h0M694.2 805.3h0M798.5 819.4h0M702.9 804.3h0M740.6 812h0M629.4 815.6h0M768.5 812.3h0M663.1 798.3h0M676.3 850.1h0M655.2 836.1h0M754.2 810.6h0M699.2 801.5h0M712.1 835.6h0M757.3 831.5h0M667.1 853.7h0M745.1 817.5h0M622.2 798.5h0M674.9 800h0M658.3 820.9h0M788.4 813.1h0M712.2 826.2h0M771.9 828.3h0M654.2 789.5h0M623.3 816.2h0M778 824.8h0M682.1 827.1h0M735.4 810.6h0M636.6 822.5h0M698.9 822h0M737.2 803h0M705.2 814.8h0M752.3 814.4h0M790.7 814.4h0M759.1 823.3h0M659.3 843.3h0M701.6 833.7h0M810 809.6h0M819.9 819.6h0M781.1 829.2h0M669.4 789.2h0M757.1 821.1h0M771.9 806.1h0M682.6 835h0M655.6 844.3h0M668.2 825.9h0M705.7 824.3h0M622 823.4h0M687.2 839.7h0M841.6 815.5h0M632.1 772.7h0M764.1 821.4h0M635.2 806.6h0M743.7 818.7h0M690 823.2h0M747.5 827.2h0M742.4 806.3h0M686.2 797.3h0M702.8 815.3h0M806.5 811.9h0M646.2 833.8h0M804.9 811.7h0M710.2 829.3h0M635.8 796.8h0M722.7 822.8h0M624.7 828.1h0M650.2 820.4h0M702.5 832.1h0M724.6 808.1h0M826.4 818.2h0M771 803.2h0M653.5 809h0M664 808.2h0M725.1 814.2h0M610.5 833h0M736.7 826.6h0M744.6 823.3h0M703.2 836.2h0M814.1 819.8h0M758.8 822.7h0M612.4 831.3h0M765.6 825.4h0M638.4 819.9h0M680 836.2h0M712.2 830.3h0M741.1 811.9h0M625.7 822.2h0M715.5 809.8h0M701 811.4h0M745.9 811.6h0M657.5 811.3h0M732.5 820.1h0M694.7 816.7h0M711.2 820.4h0M721.1 827.4h0M661.3 795.4h0M677.6 771h0M812.7 817.4h0M685.2 828.6h0M665 803.1h0M672.1 765.2h0M751.2 826.5h0M705.1 798.8h0M744.4 821.6h0M699.8 818.8h0M736.2 809.1h0M662.9 812.7h0M792.5 819.6h0M761.3 814h0M696.6 802.6h0M639.1 814.8h0M694.5 802.7h0M675.9 831.1h0M722.5 804.8h0M699.5 824.6h0M742 835.5h0M642.1 825.8h0M621.3 817.1h0M655.6 852.8h0M711.8 813.2h0M633.8 809.6h0M824.8 811.3h0M638.7 756.8h0M696.5 820.8h0M707.2 781.9h0M616.4 812.3h0M722.3 814h0M713.6 817h0M726.1 811.7h0M714.5 817h0M785.9 823.6h0M674.3 800.4h0M670.2 780.2h0M646.2 813.8h0M710.6 825.3h0M820 818.8h0M683.7 811.8h0M639.7 771.5h0M697.5 796.9h0M786.2 820.7h0M694.1 822.2h0M651.7 755.9h0M655 818.5h0M717.2 808h0M815.2 816.1h0M703.5 836.6h0M727.1 824.3h0M792.4 809.2h0M718.3 825.2h0M658.9 788.5h0M677.7 824.2h0M626.2 787.2h0M825.4 816.9h0M815.2 806.3h0M687.3 829.6h0M610.6 799.7h0M619.4 806.7h0M642.9 779h0M618.5 810.7h0M641.8 821.5h0M681.1 796.2h0M703.2 816.8h0M710 836.1h0M720.9 802.8h0M774.2 805.9h0M792.9 808.4h0M790.5 818.4h0M759.2 804.9h0M630.5 803.8h0M669.6 748.6h0M775.7 814h0M810.7 801.8h0M619.1 841.9h0M621 824h0M690.6 811.4h0M797.5 804.7h0M773.5 806.7h0M719 830.2h0M783.5 818.5h0M668.6 800.7h0M656.2 798.2h0M615.4 837.8h0M643 821.4h0M753.2 833.9h0M766.1 817.8h0M676.2 823.8h0M658.2 845.7h0M684.9 815.5h0M724.8 821.3h0M708.4 809.7h0M629.7 804.7h0M738.3 818.5h0M687.1 822.3h0M663.2 786h0M639.4 807.7h0M703.5 819.7h0M620.8 813.6h0M664.6 805.8h0M796.6 822.2h0M682.2 830h0M731.7 808.3h0M811.2 812h0M647.2 816.7h0M719.7 820.2h0M704.2 808.9h0M760.5 813.8h0M729.7 797.5h0M670.9 834.2h0M619.3 826.4h0M791 826.8h0M724.4 836.8h0M692.2 798.8h0M780.1 809.9h0M672.7 797h0M804.2 810.3h0M671.7 862.1h0M644.9 811.4h0M750.2 813.2h0M630.6 848.2h0M799.7 803.9h0M683 780.1h0M756.9 806.5h0M664.3 830h0M705.5 819.8h0M818.9 821.5h0M726.6 822.4h0M662.7 801h0M688.6 797.7h0M622.7 799.7h0M629.6 798.3h0M792.6 817.3h0M733.7 800h0M671.5 831.2h0M693.1 840.8h0M708.1 801.8h0M690.7 825.4h0M653 813.2h0M720.1 826.5h0M680 787.3h0M647.6 832.5h0M753.5 823h0M693.9 823.8h0M635.1 822.1h0M780 817.5h0M769 810.1h0M811.5 808.3h0M732.1 833.5h0M694.8 809h0M787.2 807.4h0M756.8 801.3h0M735.9 801.8h0M643.1 788.7h0M812.7 807.7h0M720.3 799.8h0M694.3 792.8h0M773.3 805.3h0M830 813.3h0M640.7 772.8h0M641.9 816.7h0M634.8 808.4h0M740.4 807.9h0M704.2 833h0M786 809.7h0M707.6 797.2h0M732.1 820h0M642.6 851.5h0M625.7 838.3h0M635.4 827.5h0M785.3 818.1h0M635.6 820.2h0M804 816.8h0M805.8 804.5h0M817.8 818.8h0M646.3 865.3h0M704 811.8h0M665.9 792.7h0M692.4 830.2h0M760 797.6h0M698.8 841.7h0M818 810h0M733.4 811h0M627.8 831h0M751.5 812.4h0M663.4 827.8h0M622.5 796.7h0M696.5 808.6h0M813.3 818.5h0M686.5 820.7h0M760.2 809.5h0M824.1 813.1h0M744.8 828.7h0M647.4 787.4h0M674.4 825.3h0M669.3 832.9h0M729.6 834.4h0M783.3 826.3h0M714.5 806.2h0M796.4 817.8h0M765.7 820.6h0M647.5 785.4h0M830.6 810h0M807.5 823.9h0M698.4 806.2h0M742 824.2h0M824.9 811.6h0M744.8 831.5h0M661.7 821.1h0M803.7 812.6h0M705.5 838h0M792.6 825h0M653.7 818h0M803.6 809.7h0M755 815.2h0M662.5 800h0M704.4 802.3h0M829.5 816.9h0M669.4 811.7h0M667.7 810.5h0M709.9 818.1h0M700.4 828.4h0M742.1 812.8h0M655.8 773.6h0M842.1 821.2h0M783 821.4h0M802.9 814.8h0M646.3 772.4h0M676.6 825.5h0M824.2 810.3h0M628 795.4h0M607.8 807.1h0M674.4 814.7h0M782.3 809h0M690.1 853.3h0M665.3 835.6h0M750.1 817.8h0M641.6 804h0M820.3 813.9h0M698.1 801.8h0M718.5 818.9h0M689.5 798.5h0M740.8 829.5h0M766.8 813.7h0M732.1 825.9h0M704.2 843.5h0M798.3 821.1h0M814 820.4h0M767.7 804.3h0M798.8 822.2h0M679.5 808.6h0M660.4 810h0M664.4 796.8h0M834.8 822.1h0M800.9 818.3h0M823.4 814.6h0M648.1 834.7h0M658.2 773.2h0M732.5 817.5h0M631.9 811.9h0M719.5 823.7h0M632.3 814.8h0M679.8 825.3h0M680.3 793.6h0M689 831.1h0M665.6 824.5h0M625.3 795.9h0M775.6 812.4h0M724.5 821.7h0M745.2 824.8h0M814.1 810.9h0M827.7 823.8h0M797.6 815.8h0M796.7 824.1h0M637.9 798.2h0M744.8 835.8h0M740.3 818.4h0M637.2 797.3h0M645.5 825.1h0M653.4 795.7h0M649.8 847.5h0M609.4 796.8h0M657.3 858.9h0M632.7 825.8h0M629.5 814.6h0M763 807.4h0M780.6 807.2h0M652.5 840.6h0M784.8 810.5h0M618.5 803.6h0M650.9 826.2h0M644 841.3h0M783 796.7h0M663.9 803.4h0M800.3 823.9h0M628.6 801.4h0M723.7 820h0M676.5 828.6h0M778.6 824.1h0M692.1 790.5h0M706.3 808.5h0M786.9 825.7h0M714.5 820.1h0M743.7 799.2h0M660.5 805.7h0M670.5 843.6h0M767.8 811.4h0M674.6 803.2h0M710.3 799.3h0M664.1 815.1h0M720.4 802.5h0M618.5 810.2h0M801.9 811.5h0M679.8 842.6h0M655.2 803.6h0M658.5 810.7h0M672.6 833.4h0M663.5 819.6h0M807.5 820.2h0M701.6 840.7h0M653.4 790.2h0M631.9 836.3h0M624 846.9h0M837.6 818.1h0M765.5 807.9h0M760.5 808.4h0M613 827.7h0M660.3 797.2h0M652.9 827.4h0M673.6 820.7h0M672.9 831.2h0M627.5 788.3h0M684 837.4h0M734.3 827.6h0M761.7 828.7h0M659.4 816h0M782.8 806.2h0M728.6 820.1h0M627.3 821.6h0M618.3 785.2h0M784.8 823.5h0M647.1 790h0M765.3 812.9h0M765.2 828.5h0M709 812.8h0M669.8 832.1h0M659.2 819.2h0M767.3 801.7h0M685.5 824.8h0M820.8 826.7h0M640.5 861.4h0M615.5 835.8h0M617.3 818.7h0M813.8 812.6h0M714.5 831.6h0M692.9 785.8h0M648 807.3h0M789.1 815.8h0M729.4 822.6h0M766.6 823h0M823.1 817.3h0M653.1 799.6h0M650.4 857.1h0M678.5 803.4h0M718.7 810.7h0M626.1 810.8h0M749.5 825.4h0M729.1 808.5h0M821.5 813.6h0M653.5 811.8h0M623.8 807.6h0M779.6 805.6h0M708.2 835.7h0M714.1 825.6h0M732.2 814.6h0M755.1 831.1h0M633.6 793.7h0M695.2 807h0M796.9 825.1h0M722.9 800.8h0M709.1 828.2h0M619.8 829.8h0M617.1 826.3h0M627.2 785.7h0M612 837h0M777.4 821h0M759.8 833.5h0M623.6 793h0M771.3 822h0M682.6 812.4h0M651.2 823.4h0M746.6 798.9h0M704.7 836h0M661.3 817.9h0M808.2 811.2h0M766.5 807.2h0M775.2 819.7h0M684.4 830.2h0M700.5 788.2h0M693.5 800.4h0M680 818h0M640.7 819.6h0M768.2 807.6h0M716.4 832h0M752.2 822.6h0M738.6 804.8h0M611 813.6h0M644.2 824.7h0M791.9 810.8h0M662.6 826.5h0M787.8 818.6h0M795.8 820.2h0M679.4 814.9h0M612.8 856.8h0M609.2 794.6h0M692.2 850.1h0M798.8 805.2h0M664.5 835.7h0M655.3 809.3h0M664.9 810.4h0M680.9 808h0M821.9 802.9h0M679 816.8h0M641.4 824.7h0M689.1 792.1h0M716.2 801h0M708.7 817.5h0M697.7 850.8h0M612.2 823.3h0M758.4 826.1h0M704.8 817.5h0M613.7 817.4h0M777.2 814.6h0M825.6 818.8h0M685.2 787.7h0M760.7 819.8h0M735 825.5h0M618.9 826.7h0M771.2 818.1h0M759 816.5h0M676.4 803h0M661.4 879h0M628.9 812.5h0M789.4 809.1h0M634 824.8h0M620.2 821.3h0M811.5 811.2h0M648.6 775.9h0M672.1 819.8h0M653 821.6h0M803.1 818.8h0M765.4 807.1h0M810 815.9h0M708.8 826.2h0M778.7 812.3h0M758.9 813.4h0M647 817.4h0M719.1 824.7h0M652.4 833.6h0M723.8 830.1h0M644.8 853h0M728.8 802.1h0M632.4 834h0M727.9 830.6h0M607.7 818.1h0M767.9 804h0M809.9 803.7h0M751.1 800.6h0M754.8 809.5h0M790.7 817.5h0M800.4 813.9h0M751.1 809.6h0M739.5 797.1h0M625 807.6h0M644.8 859.1h0M647.9 869.8h0M739.4 832.2h0M832 810.7h0M778.3 818.8h0M801.6 805.2h0M803.8 806.8h0M741 825.1h0M622.9 804h0M810.4 821h0M687.7 822.1h0M650.5 805.8h0M673.3 828.4h0M622.3 832.7h0M620 833.3h0M690.3 793.9h0M703 798h0M783.3 823.1h0M721.4 843h0M637.6 854h0M695 847.3h0M828.9 809.9h0M721.6 798.7h0M694.2 819.2h0M616.7 827h0M718.9 818.1h0M686.7 862.4h0M610.9 802.9h0M775.9 808.5h0M794.1 812.6h0M809.6 816.8h0M659.8 799.3h0M755.4 814.5h0M801.3 824h0M725.1 825.9h0M746.9 811.2h0M709.6 813.8h0M709 789.1h0M643.7 766.6h0M722.6 838.6h0M625 851.8h0M641.6 776.6h0M761.1 822h0M649.1 830.8h0M660.6 839.5h0M630.9 821.7h0M618.2 809.3h0M666.4 845.8h0M726.2 814.6h0M764.1 819.9h0M655.8 811h0M649.2 824.9h0M638 789.1h0M711.9 787.7h0M627 806.3h0M768.6 813.8h0M758.6 831.2h0M617.4 831h0M680.7 796.4h0M685.7 847.6h0M717.9 806.9h0M659 796.2h0M677.6 840.7h0M781.6 823.3h0M657.1 813.7h0M734.3 812.6h0M631.8 808.8h0M731.3 798.2h0M694 817.8h0M789.9 804.1h0M727.7 804.6h0M687.2 835.2h0M721.5 797.5h0M773.3 817.6h0M611.6 806.9h0M837 812h0M751.3 818.1h0M645.4 792.9h0M699.6 803.9h0M676.1 832.1h0M695.3 827.5h0M637.8 807.3h0M621.3 852.9h0M654.3 871.3h0M785.4 825.6h0M619.9 801.9h0M673.4 833.6h0M666.1 793.8h0M612.5 833.8h0M606.3 818.9h0M664 812.9h0M776.4 810.1h0M651.1 818.8h0M672.4 840.7h0M700.7 817.9h0M647.4 802.1h0M695.1 828.9h0M641.2 803.6h0M641.3 861h0M696.6 797.8h0M813.8 824.7h0M697.6 804.3h0M637 811.7h0M683.9 801.8h0M666.3 772h0M820.4 822.1h0M717.7 800.3h0M729.1 810.4h0M713.4 811.5h0M742.2 811.7h0M741.9 803.3h0M645.7 797.2h0M702.8 808.3h0M625.4 801.3h0M796.1 818.5h0M675.4 818.7h0M693.1 825.9h0M770.1 822.2h0M666.6 793.7h0M774.9 816.3h0M637.1 829.6h0M706.6 831h0M789.1 821.9h0M829.4 823.8h0M609.6 821.9h0M640.5 806.5h0M695.7 806h0M670.5 810.8h0M677.9 820.8h0M616.2 832.1h0M636.9 839.1h0M628.5 817h0M688.9 794.5h0M663.7 786.2h0M681.1 884h0M834.1 809.8h0M667.4 836.2h0M762.1 830.7h0M742.1 825.4h0M733 813.2h0M609 827.3h0M744.4 817.7h0M698 818.7h0M738.5 807.7h0M622.5 822h0M720.1 828.5h0M750.7 816h0M668.3 824.1h0M693.7 837.7h0M695.9 826.1h0M798.8 806h0M740.5 809h0M843.3 813.4h0M674.7 841.4h0M756.8 827.7h0M653.6 798.2h0M681.4 841.1h0M646.3 764.4h0M740.7 820.2h0M765.2 803.6h0M704.9 836.1h0M694.4 813.1h0M680.1 783.7h0M640.9 835.5h0M662.3 838.7h0M634.7 794.1h0M631.3 778.1h0M759.6 822.3h0M754.5 811.2h0M633.6 783.9h0M768.2 806.6h0M832.3 819.9h0M649.8 806.9h0M608.9 792.3h0M687.4 817.2h0M649.7 834h0M758.4 809.2h0M718.1 804.7h0M664 804.2h0M799.2 825h0M738.4 808.9h0M757.6 811.9h0M650.2 817.4h0M640.5 850.3h0M678 812.1h0M708 805.1h0M720.4 830h0M675.5 836.2h0M781.7 813.3h0M733.6 834.7h0M643.4 827.2h0M734.5 805.4h0M736 797.4h0M694.8 839.9h0M688.3 831.9h0M762.1 812.8h0M684.2 810h0M721.5 815.2h0M779.2 825.2h0M653.5 823.4h0M654.4 805.2h0M649 808.8h0M622.1 813.6h0M623.1 829.8h0M624.4 810h0M708.5 794.2h0M662.5 833.5h0M670.9 849.6h0M619.8 782.9h0M750.6 801.5h0M606.9 803.6h0M617.5 828.4h0M663.9 809.4h0M672.9 786.5h0M648.7 767.6h0M691.5 809.1h0M681.8 843.5h0M637.9 860h0M646.2 808.7h0M801 808h0M671.2 781.9h0M670.1 803.5h0M612.5 822.1h0M794.5 805.3h0M808 822.6h0M737.4 815.7h0M630.8 793.5h0M805.5 805.6h0M628.1 822.2h0M699.2 788.9h0M743.6 808.4h0M663.3 841.5h0M777.2 811.1h0M682.6 782.6h0M703.8 800.6h0M640.2 826.5h0M620.5 775.3h0M625.7 829.8h0M700.5 820h0M742.8 809.1h0M673.9 797.9h0M676.8 799h0M677.7 822.7h0M753.6 805.7h0M673.3 861.2h0M638.1 796.8h0M741.6 837.5h0M787.4 806.8h0M705.6 816h0M695.6 813.4h0M634.5 884.2h0M677.5 794.7h0M661.7 810.5h0M659.5 791.3h0M719.7 806.1h0M735.8 834.7h0M696.3 787.6h0M614.2 837h0M626.1 817.5h0M793.7 816h0M655.8 805.8h0M742.2 814.4h0M758.3 808h0M611.4 829.8h0M716.3 833.3h0M825.6 821.8h0M825.2 806.6h0M610.9 827.3h0M696.4 828.3h0M720.6 834.3h0M639.5 823.1h0M785.5 812.8h0M628.8 846.2h0M652.4 816.2h0M607.7 809.6h0M776.2 822.1h0M785.9 808.2h0M711.8 797.3h0M673.8 813.1h0M639 778.4h0M692.5 807.5h0M768.3 823.3h0M614.2 868.2h0M671.8 811.7h0M742.4 800.5h0M728.7 823.7h0M684.5 806.8h0M679.1 825.7h0M748.7 803.8h0M707.5 815h0M705.8 834h0M697.8 834.4h0M686.9 826.4h0M624.8 811.5h0M643.1 818.6h0M763.9 806.1h0M703.9 787.3h0M732.9 808.4h0M637.5 826.3h0M691.9 848.9h0M649.8 773.1h0M663.1 836.4h0M616.2 791.8h0M658.1 807.7h0M721.3 824.8h0M668.6 839.4h0M657.8 809.1h0M826.7 821.1h0M721.2 835.6h0M655.8 822.5h0M769.7 827.2h0M821.7 812.9h0M687.6 808.4h0M823.6 808.1h0M788.3 805.6h0M664.2 847.2h0M657.8 866.7h0M649.2 821.7h0M644.8 841.2h0M628.3 842.4h0M739.9 825.8h0M625.7 845.3h0M791 833.4h0M733.8 830.9h0M669.8 800.2h0M651.6 827.2h0M792.9 821h0M679.3 853.6h0M680.4 772.7h0M716.4 824.5h0M653.2 836.8h0M611 797.8h0M728.7 802.7h0M639.7 813.9h0M690.4 805.5h0M661.3 831h0M715.6 815h0M693 805.2h0M652 796.5h0M667.5 805.7h0M665.6 857.9h0M757.5 812.2h0M736.6 812.1h0M766.9 815.7h0M741.1 827h0M749.5 807.2h0M620 844.8h0M695.8 808.8h0M617 867.3h0M691 812.7h0M681.9 837.6h0M776.1 823.9h0M746.3 813.2h0M645.8 830.4h0M642.2 784.5h0M663.9 845.5h0M698.2 829.2h0M807.3 809.4h0M833.1 812.8h0M683.9 803.4h0M761.4 800.7h0M751.5 807.6h0M713.8 820.3h0M802.7 817.9h0M689.1 837.8h0M669.1 840.8h0M642.1 771.6h0M621 837.6h0M801.1 826.8h0M773.6 818.3h0M728.2 819.6h0M839.2 812.8h0M825.9 805.1h0M682.7 844.6h0M766 803.5h0M624.6 802.3h0M716.4 813.6h0M705.6 828.8h0M815.9 830h0M649.7 818.7h0M632.4 800.6h0M613.1 815.5h0M671.7 816.6h0M688.1 806.4h0M637.5 816.5h0M609 832.8h0M688.4 828.1h0M656 834.6h0M647.1 826.3h0M699.6 821h0M612.2 843h0M658.4 844.8h0M642.2 854.6h0M708 829.3h0M699.8 815.3h0M730.6 817.2h0M654.8 789.9h0M828.3 819.7h0M704.3 804.3h0M625.1 828.6h0M654 780.6h0M789.8 807.4h0M655.2 817.6h0M623.8 867.4h0M613.2 809.5h0M816.1 821.1h0M641.5 769.1h0M649 778.7h0M634.4 773.2h0M633.7 836.1h0M729.5 838.8h0M633.6 795.2h0M662.8 842.5h0M792.8 834.8h0M704.9 807.2h0M706.6 793.9h0M809.3 807.2h0M756 824.6h0M698.6 826.8h0M668.7 829.7h0M769.4 804h0M657.1 865.3h0M737.3 825.5h0M691.5 819h0M689.7 779.5h0M696.7 850.8h0M724.6 817.2h0M645 749.8h0M711.4 811.8h0M701.3 780.8h0M728.7 832.9h0M740.7 806.5h0M701.4 812.4h0M663.8 838.8h0M774.4 809.5h0M618.7 844.8h0M654.4 808.2h0M630.4 806.9h0M666 827.6h0M666.3 815.4h0M629.3 843.5h0M755.3 827.7h0M687.6 800.9h0M703.3 815.4h0M676.9 848.6h0M713.2 799.4h0M632.7 797.8h0M690.4 835.6h0M777.2 812.6h0M801.6 828.1h0M632.5 823.8h0M668.5 792.4h0M633.1 785.8h0M763.3 804.9h0M809.1 824.9h0M615.4 828.9h0M661.8 829.8h0M680.3 790.1h0M705 830.7h0M678.2 781.5h0M679.7 822.7h0M614.8 860.6h0M831.7 822.3h0M792.5 823.6h0M795.4 803.6h0M669.5 780.3h0M747.7 823h0M628.4 852.8h0M717.4 836.8h0M647.4 852.8h0M636 838.3h0M739 829.2h0M790.9 821.7h0M674.4 838.3h0M623.5 885.2h0M646.8 806.3h0M663.8 778.9h0M719.2 829.4h0M652.2 853.5h0M697.1 822.5h0M691.2 835.2h0M685.9 790.3h0M806.1 818.3h0M684.2 784.6h0M633.2 833.9h0M675.8 840.6h0M710.1 819.1h0M699.5 800.5h0M738 804.2h0M676.4 757.3h0M689.3 810h0M606.9 804.9h0M642 807.1h0M746.7 806.2h0M810.6 806.6h0M649 791.6h0M712.1 803.2h0M732.6 803.5h0M706.7 804h0M626.2 791.6h0M624.3 782.3h0M687.5 837.1h0M788.7 811.3h0M620.8 834.6h0M777.6 803.8h0M791.8 821.4h0M826.4 823.6h0M697 853.4h0M832.8 810.4h0M784.6 806.9h0M639.8 845.1h0M682.4 819h0M717.5 817.4h0M658.6 832.8h0M667.7 824.8h0M722.9 807.5h0M806.1 806.7h0M625.5 782.8h0M679.6 849.4h0M714.6 822.6h0M720.3 807.5h0M692.1 834.8h0M728.4 828.5h0M780.9 814.9h0M712.8 828.8h0M636.3 815.2h0M711.8 837.4h0M610.1 825.8h0M784.2 816.9h0M721.9 801.7h0M702.2 819.7h0M628.3 804.4h0M703 826.8h0M729.5 790.2h0M793.5 819.4h0M621.9 829.4h0M636.2 823.4h0M724.1 794.5h0M625.2 820.3h0M691.8 797h0M665.6 813.8h0M687.5 833.5h0M689.6 825.5h0M630 840h0M685.9 809.8h0M631.2 844.6h0M617.7 805h0M635.1 829h0M735.8 817.2h0M666.9 844.7h0M650.8 845.2h0M784.1 826.7h0M717.6 827.8h0M699 828.2h0M669.8 797.1h0M795.7 802.3h0M748.6 804.7h0M725.7 820.9h0M787.4 804.9h0M657.7 826.2h0M730 799.2h0M786.3 828.1h0M829.4 811h0M693.4 844.7h0M700.8 829.6h0M812.8 827.5h0M616.5 837h0M729.3 817.4h0M625.8 777.2h0M708.6 819.6h0M650.4 775.7h0M754.3 819.9h0M779.3 813.6h0M651.5 835.9h0M692.8 852.6h0M688.6 813.3h0M726.1 807.3h0M672.7 817.5h0M749.6 824.6h0M754.5 826.1h0M659.5 840.9h0M660.9 836.8h0M631.3 821.5h0M646.4 805.5h0M677.9 860.6h0M748 819.8h0M623.6 795.1h0M679.3 805.3h0M688.1 782.8h0M707.7 844.8h0M706.6 827.8h0M644.1 833h0M725.2 828.6h0M756.7 811.2h0M646.3 860.1h0M640.3 816.4h0M651.2 854.3h0M638.9 792.6h0M725 810.1h0M716.7 804.1h0M707.4 800.1h0M748.5 809.4h0M657.4 858.3h0M626.3 798.8h0M746.4 832h0M768.3 799.6h0M637.9 842.4h0M627.1 866.1h0M671.6 799.3h0M798.3 818h0M628.1 781.3h0M685.8 811.3h0M769.5 828.9h0M661.1 846.6h0M634.4 803.4h0M728.2 812.3h0M624 812.8h0M667.8 828.2h0M780.8 822.1h0M649.2 859.3h0M615.4 817.1h0M726.2 844h0M631.7 851.2h0M677.2 846.7h0M606.7 817.8h0M749.4 797.6h0M723.8 841.2h0M626.1 849.4h0M673 822.1h0M638.8 811.9h0M639.6 821.1h0M764.9 810.9h0M725.5 834.1h0M664 777.3h0M680.7 821.3h0M660.8 813h0M628.1 794.8h0M668.2 848.3h0M694.4 834.1h0M835.3 816.8h0M720.8 831.8h0M722.3 807.7h0M709.7 852.4h0M619.3 789.2h0M628.8 831.6h0M821.2 820.4h0M673.7 819.1h0M676.2 818.2h0M659.4 803.9h0M752.2 798.7h0M784.4 805.4h0M740.6 814.6h0M649.9 840.3h0M626.3 823.9h0M618.1 795h0M654.7 850.4h0M686.1 818.7h0M635.6 841.1h0M625.8 796.6h0M713.9 826.6h0M763.6 820.5h0M721.9 789.7h0M656 818.5h0M702.3 813.5h0M656 830h0M648.2 873.1h0M645.7 862.6h0M703.4 806.5h0M635.3 800.7h0M668.4 786.1h0M630.8 813.3h0M827.8 812.9h0M806.3 822.1h0M672.1 835.8h0M660.3 799.5h0M652.2 803h0M687.5 811.2h0M737.8 830.7h0M677.9 842h0M678 836.1h0M746.4 826.3h0M710.6 826.4h0M621.4 854.4h0M654.8 816.7h0M610.2 816.3h0M715.4 819h0M753.4 823.2h0M655.6 831.9h0M638.1 817.3h0M723 823.5h0M651 862.4h0M631.5 826.6h0M649.2 862.2h0M762.7 803.7h0M751.8 829h0M644.7 780.2h0M623.7 849.1h0M619.8 852.1h0M671.8 823.4h0M801.7 812.5h0M721.8 841.4h0M695 825.6h0M695.5 818.8h0M826 808.4h0M668.5 814.4h0M786.2 815.6h0M662.7 851h0M734.5 832.5h0M652.3 796.7h0M703.6 825.7h0M839.8 810.4h0M696.8 823.6h0M705.7 811.2h0M650 849.6h0M731.2 821.5h0M780.9 819.8h0M636.7 786.5h0M750.4 814.4h0M676.4 800h0M773.9 804.4h0M620.1 810h0M638.6 833.8h0M829.5 822.6h0M658.9 849.1h0M617.7 839.4h0M617.4 822.4h0M792.7 800h0M780.2 831.4h0M726.4 830h0M732 812.3h0M760.8 811.5h0M631.4 787.2h0M669.6 851.9h0M638.7 842.7h0M655.9 837.8h0M657.1 819.8h0M610 808.1h0M687.2 803.7h0M670 805.1h0M712.7 831.9h0M688.3 785.9h0M643.5 815.4h0M684.8 796.1h0M633.9 850.9h0M622.9 839.6h0M638.9 780.5h0M634.7 831.8h0M766.5 808.3h0M701.3 823.5h0M619.2 790.8h0M733.9 809.9h0M767.8 809.3h0M728 831.2h0M707 832.7h0M662.2 803h0M634.1 816h0M653.7 847.2h0M615.2 804.6h0M630.7 820.8h0M628.9 856.4h0M768.6 823h0M759.1 801.8h0M721.4 805.1h0M670.8 823.3h0M710.6 806.1h0M628.6 844.7h0M705.9 789.7h0M810.7 822.9h0M837.3 815.5h0M635.9 817.5h0M667.2 834.3h0M636 809h0M749.9 831.7h0M706.3 805.1h0M652.2 780.4h0M638.6 826.1h0M671.2 792.6h0M690.3 832.1h0M638.8 846.5h0M614.6 823.7h0M660.5 818.4h0M685 793h0M704.8 813.4h0M797.4 821h0M643.8 796.9h0M606.3 809.5h0M816.6 801.3h0M702.2 810.5h0M727.7 822h0M822.5 819.2h0M614.3 834.3h0M835.2 813.1h0M647.9 874.4h0M649.3 856.4h0M666.9 804.2h0M702.2 807.2h0M779 805.6h0M683.2 814.4h0M687.9 809.4h0M657.4 799.4h0M635.8 835h0M625 802.6h0M725.7 803.7h0M760.9 803.7h0M658.8 787.3h0M723.4 800.8h0M746 827h0M633 788.3h0M660.2 832.4h0M800.1 817.9h0M645.5 814.9h0M620.6 842.7h0M626.1 806.3h0M836.8 818.2h0M653.1 758.7h0M655.1 827h0M810.7 802.6h0M617.3 792.5h0M821.7 821h0M712.6 804h0M678.7 802h0M621.3 827.3h0M832.1 808.1h0M690.8 831.3h0M613 825.7h0M822.9 829.3h0M802.9 811.6h0M830 821.1h0M725.5 813.4h0M717.6 821.4h0M622.8 788.6h0M652.6 766.6h0M613.2 814.7h0M737.9 811.5h0M640.2 848.7h0M795.9 826.5h0M791.8 827.1h0M652.6 804.3h0M769.4 824.6h0M736.5 799.7h0M676 808.7h0M642.9 836.3h0M725.6 827.4h0M650.2 808.1h0M658 793.8h0M726 834.3h0M647.6 798.7h0M739 824.5h0M779.2 821h0M738.1 828.3h0M617.2 810.6h0M622 776.2h0M696.5 790.5h0M636.6 836.8h0M835.4 809.1h0M672.5 809.6h0M798.1 815.2h0M741.3 821.6h0M649.8 760.5h0M739 794.9h0M677.3 785.9h0M675.9 815.7h0M739.4 827.6h0M663.3 839.4h0M697.7 826h0M709.1 838.1h0M664.8 852.2h0M654.6 760.1h0M618.8 779.2h0M696.4 797.3h0M734.6 833.5h0M662.9 768.9h0M649.2 783.4h0M671.8 849.9h0M664.2 842.9h0M652.2 846.5h0M667.4 819.3h0M706.6 850.7h0M662.2 817.9h0M819.2 808.6h0M672.4 825.6h0M670 821h0M819.1 824h0M640.5 835.9h0M689.1 829.4h0M752.6 830.7h0M680.7 808.9h0M660.3 821.6h0M623.8 837.7h0M684.8 804.4h0M782.1 817.3h0M632.5 783.1h0M622.3 786.2h0M631.6 860.7h0M655.3 791.9h0M708.7 836.9h0M660.6 794.2h0M727.7 806.2h0M734.1 821.7h0M697.8 831.8h0M722 791.5h0M811.4 805.6h0M688.1 834.7h0M701.5 798.3h0M842.8 820h0M673.3 808.5h0M701.1 831.9h0M620.5 798.7h0M649.7 814.2h0M639.7 785.1h0M674.1 803.5h0M723.1 811.2h0M693.1 827.9h0M613.5 777.9h0M636.3 830.3h0M829.8 816.1h0M672.5 842.7h0M681.6 803.2h0M725.7 835.9h0M677.6 808.8h0M712.2 815.5h0M761.8 805.5h0M757.9 827.4h0M800.3 819.4h0M698.3 811.8h0M616.3 814.3h0M633.1 812.8h0M689.7 803.8h0M728.6 814.2h0M692.4 838.5h0M641.9 793.9h0M621.5 810.6h0M609.6 798.8h0M673.9 823.4h0M753.3 829.1h0M684.5 842.4h0M744.8 837h0M658.8 814.6h0M735.6 808.5h0M618.3 815.6h0M615.7 801h0M726.2 807h0M806.3 815.3h0M689.7 817.9h0M610.2 804.8h0M690.5 787.4h0M826.5 806.9h0M650 800.7h0M691.2 806.3h0M637.8 776h0M627.9 839.9h0M667.5 812.2h0M797 803.7h0M622.5 801.8h0M813.9 822.2h0M708.1 832.3h0M675.2 811.6h0M645.1 821.2h0M712.8 832.9h0M692.8 809.4h0M839 812.8h0M637.4 806.3h0M831.3 817.1h0M836.2 821.1h0M734.6 840.9h0M613.1 838.7h0M754.9 802.6h0M795.9 813.9h0M620.6 839.8h0M628.4 806.8h0M629.1 810h0M734.8 808.8h0M621.2 821.9h0M638.8 787h0M625.3 800.1h0M654 766.5h0M665.4 856.6h0M643.4 839h0M657.7 821.9h0M711.2 803.5h0M624.4 837.5h0M781 820.8h0M686.1 844.5h0M666.7 855.9h0M828.5 812.9h0M699.5 795.3h0M696.5 799.6h0M701.4 825.3h0M725.4 824h0M638.7 816.3h0M648.6 827.6h0M621 855.7h0M791.7 828h0M837.9 823.1h0M809 822.9h0M629.7 800.9h0M705.3 801h0M828.1 808.4h0M647.6 806h0M760.1 801.6h0M621.2 801.5h0M683.1 832.9h0M653.7 867.8h0M623.1 836.5h0M673.4 845h0M669.6 853.1h0M700.2 794.8h0M634.4 842h0M707.8 803.1h0M681.3 816.4h0M658.1 818.3h0M631.5 773.8h0M719.6 798.7h0M726 842.4h0M818 810.5h0M629.1 773.6h0M631.7 794.4h0M683.3 817.4h0M675.5 881.3h0M665.7 828.2h0M655.7 834.1h0M694.3 798.9h0M828.2 806.9h0M646.4 800.1h0M825.2 825.1h0M653.1 857.3h0M721.9 800.1h0M704.7 799h0M775.5 829.7h0M823.5 823.2h0M677.9 828.4h0M689.9 816.8h0M652.6 818h0M735.9 824.3h0M818.1 821.4h0M641.6 827.1h0M632.7 804.3h0M693 828h0M644.4 810.1h0M744.9 822.1h0M668.8 796.8h0M653.2 819.9h0M635.6 847.9h0M623 858.8h0M687.3 825.9h0M673.6 791.5h0M828.4 814.2h0M667.9 797.6h0M708.7 802.6h0M657.1 869.4h0M841 819.9h0M647.9 803.4h0M667.7 839.9h0M629.9 836.5h0M718.9 826.5h0M675.9 804.8h0M682.6 851.4h0M684.9 795.5h0M694.1 834.7h0M644.4 851.9h0M681.9 812.1h0M686.1 785h0M684.4 835.3h0M650.7 784.5h0M606.6 820.4h0M821.6 816.3h0M744.4 821.7h0M782.1 825.2h0M693.6 799.4h0M816 822.1h0M734.3 790.2h0M612.4 807.2h0M729.7 823.6h0M638.9 853.8h0M641.8 836.1h0M620.9 845.8h0M763.4 817.2h0M813.3 810.8h0M782.9 824h0M710.7 815.4h0M639.9 775.6h0M724.4 801.8h0M745.4 829.7h0M691.6 840.7h0M827.1 810.1h0M614.2 815.9h0M679.8 805.9h0M620.2 828.9h0M666.9 815.6h0M615.7 822.3h0M781.6 822.4h0M653.7 811.3h0M658.4 804.9h0M648.5 788.5h0M658.9 798.5h0M790.8 807h0M708.9 820.1h0M663.6 815.7h0M757.3 803.6h0M758.6 802.4h0M764.4 823.3h0M639.2 794.8h0M685.7 836.3h0M718.8 795.1h0M648.5 772.2h0M731 829.3h0M675.9 842.8h0M702.9 830.5h0M683.6 843.5h0M680.3 791.2h0M619.1 815.6h0M626.1 785.1h0M637.2 866.1h0M676.4 830.1h0M622.3 852.8h0M700.8 826.6h0M637.8 826.7h0M774.1 812.7h0M644.7 803.4h0M679.6 810.4h0M668 846.1h0M659.7 822.7h0M659.1 796h0M705.6 803.8h0M696.6 838.4h0M669.7 812.1h0M776.9 808.3h0M657.9 828.2h0M628.6 848.1h0M671.5 805.1h0M674.1 808.9h0M639.2 804.8h0M624.6 806.2h0M645.2 816.5h0M692 826.9h0M700 808.4h0M831.4 820.4h0M700.1 805.8h0M657.1 824.4h0M665.2 800.8h0M631.8 795.6h0M641.9 789.8h0M650 791.2h0M628.9 828.1h0M633.1 880.2h0M632 828h0M626.7 789.8h0M658.2 812.1h0M607.7 815.1h0M716.1 800.3h0M631 800.5h0M791.4 822.3h0M629.3 823.9h0M722.7 820.9h0M679.2 819.7h0M679 794.2h0M656.4 824.5h0M655.4 788.4h0M676.3 862.8h0M838.2 816.6h0M836.7 819.7h0M818 828.3h0M715.4 802.8h0M643.2 847.5h0M646.1 836.7h0M670 823.1h0M625.4 839.6h0M691.1 794.6h0M815.4 819h0M666.9 788.2h0M754.3 836.3h0M625.4 814.5h0M612.7 810.5h0M767.6 827.9h0M663.1 782.4h0M801.5 808.8h0M619.5 828.9h0M675.9 801.1h0M635.5 824h0M630.6 842.8h0M612 837.4h0M643.2 780.6h0M656.1 850.2h0M689.8 839.9h0M703.7 807.3h0M687.3 824.6h0M681.1 832.9h0M682.7 826.5h0M763.2 809.8h0M832.5 825.3h0M625 836.6h0M641.5 837.8h0M681.6 828.8h0M646.6 760.7h0M651.2 828.8h0M625.8 788.2h0M732.7 828.4h0M657 841.7h0M690.4 768.6h0M691.7 853.8h0M739.2 800.6h0M676.1 776.8h0M637.3 819.3h0M666.9 794.8h0M667.1 772.2h0M624.1 821h0M667.4 783.9h0M658.5 838h0M666.4 812.3h0M694.8 781.8h0M681.8 790.9h0M805.2 822.8h0M836.3 805.8h0M649.6 761.3h0M629.6 826.1h0M644.8 774.5h0M770.3 796.7h0M740 822.2h0M618.8 836.4h0M807.2 820h0M724.5 835.6h0M631.2 797h0M711.3 834.3h0M680.8 792.6h0M673.3 825.4h0M667.8 850.9h0M693.7 808.4h0M608.3 802.9h0M673.2 816h0M635.3 777.8h0M678.9 787.5h0M674.8 824.1h0M756.7 807.3h0M658.1 851.1h0M713.1 805.4h0M624.4 781.2h0M680.7 845.6h0M700.4 787.1h0M749.3 819.1h0M671.6 839.2h0M710.9 830.2h0M757.5 799.3h0M638.9 823.3h0M644.6 808.5h0M703.5 828h0M608.5 799.2h0M653.5 829h0M617.2 764.8h0M689.1 790.3h0M624.3 804.7h0M670.5 858.7h0M685.1 798h0M790 813h0M766.5 804.6h0M624.8 826.5h0M703.9 826.9h0M797.1 828.6h0M743.7 831.2h0M665 842.4h0M784.2 812.7h0M611.7 821.5h0M686.6 839.3h0M752.5 818.6h0M623.5 870.2h0M707.9 784.3h0M635.1 781.2h0M698.2 817.8h0M688 837.9h0M683.2 831h0M679.3 795.6h0M607.4 823.2h0M839 810.4h0M639.4 833.4h0M655.6 827.2h0M729.4 832.4h0M666 782.3h0M624.7 826.1h0M639 794.3h0M631.8 876.9h0M696.8 805.8h0M651.7 841.7h0M655.3 799.8h0M681.7 834.9h0M731.5 803.7h0M785.3 805.9h0M744.8 825.2h0M715.1 833.6h0M703.9 793h0M835.5 814.1h0M638.6 853h0M651.9 843.7h0M661.2 814.2h0M609.7 793.3h0M686.1 845.7h0M664 790.1h0M648.5 782.5h0M630 778h0M705.5 793.4h0M743 804.9h0M614.3 803.7h0M619.9 859.9h0M689.4 812.8h0M645.8 838.9h0M810.9 824.4h0M715.3 805.4h0M658.7 806.3h0M667.4 847.4h0M747.3 805h0M643.6 825.8h0M614.4 787.7h0M625.7 818.9h0M703 801.9h0M827 805h0M698.8 832h0M685.9 804.1h0M699.9 805.4h0M683.1 815.8h0M669.7 809.2h0M641.8 818h0M684.4 789.8h0M822.7 810.9h0M673.7 841.4h0M643.3 822.2h0M654.8 837.6h0M670.1 835.3h0M664.5 794.3h0M641.6 799.6h0M666.9 799.9h0M626.9 801.9h0M679.4 799.4h0M610.2 835.3h0M659.8 856.9h0M654.8 832.4h0M653.7 841.4h0M623.3 829.9h0M624.5 851.5h0M654.9 779h0M653.7 822.7h0M771.2 830.2h0M793.6 824.8h0M671.5 827.4h0M736.4 806h0M711.3 797.8h0M626.6 829.3h0M657.8 781.6h0M647.8 790h0M759 799.9h0M662.7 774.1h0M638.3 850.4h0M754.3 810.3h0M639.7 823.3h0M762.7 828.9h0M684.6 817h0M625.4 853.5h0M817.7 808.6h0M649.7 829.5h0M731.4 807.1h0M817.4 804.2h0M662 845.7h0M838.5 808.9h0M644.8 829.5h0M711.7 806.8h0M608.4 802.3h0M696.6 811.8h0M655.8 816.3h0M691.6 801.3h0M670 825.2h0M711.4 794.5h0M731.2 829.7h0M611.2 800.9h0M654 798.4h0M628.7 838.5h0M669.4 829.5h0M685.5 811.4h0M612 811.5h0M781.8 805.4h0M623.1 778.6h0M647 809.8h0M611.7 837.8h0M679.1 808.3h0M702 810.3h0M751.9 825.4h0M637.1 808h0M674.3 796.9h0M719.6 802h0M666.1 832h0M675.8 861.8h0M830.2 818.4h0M638 829.7h0M743.2 806.6h0M639.9 787h0M730.9 799.4h0M627.9 843.3h0M682 836.7h0M654.8 792.9h0M615.7 818.9h0M656.5 869.4h0M655.3 771.9h0M678 849.4h0M635.3 812.1h0M720.5 815.1h0M615.5 808.1h0M628.4 810.5h0M627.3 814.7h0M737.9 840.4h0M666.9 761.8h0M794.7 825.3h0M634 811.8h0M700.6 842.4h0M719.2 802.9h0M614.4 800.5h0M698.3 816.4h0M692.2 847.4h0M667.8 760.1h0M675.3 798.8h0M656 828.9h0M618 813.3h0M677.9 798.1h0M662.8 789h0M682.6 832.1h0M743.5 797.2h0M663.8 762.4h0M679.7 827.5h0M657.7 796.1h0M734.9 820.1h0M650.8 789.1h0M654.4 801h0M640.7 803.4h0M666.8 830.1h0M621.7 826.3h0M700.6 803.7h0M607.5 833.3h0M632.9 849.1h0M684 785.5h0M643.7 787.8h0M736.2 804h0M812.6 803h0M694.8 801.4h0M675.9 854.7h0M697.9 843.7h0M780.8 797.6h0M643 850.3h0M686.4 828.4h0M621.6 807.7h0M622.9 832.9h0M784.8 804.3h0M678.6 800.4h0M696 836.6h0M654 854.1h0M689.8 784h0M617.9 860.3h0M638.3 773.8h0M642.1 808.7h0M762.2 826.7h0M649.8 835.9h0M657.5 826.5h0M630.9 796.2h0M664.7 825.7h0M745.8 803.4h0M676.4 812.1h0M714.1 839.2h0M646.3 849.5h0M620.7 802.8h0M692.7 779.2h0M638.4 781.8h0M703.4 796h0M632.7 818.4h0M781.7 802.8h0M675.8 793.6h0M608.1 826.7h0M750.5 829.9h0M682.7 810.1h0M655.4 814.1h0M636.6 840.4h0M701.3 813.7h0M689.3 805.4h0M661.9 834.6h0M639.1 794.8h0M672.9 839.8h0M668.1 843.4h0M647.7 800h0M657.7 834.8h0M651.3 798.2h0M701.1 801.8h0M621.3 816h0M660.2 848.1h0M697.3 799.2h0M702.1 787.6h0M648.7 796.7h0M651.4 766.2h0M619.5 822.8h0M694.6 795.8h0M646 822.3h0M727.5 796.8h0M823.2 807.9h0M614.8 832.1h0M651.4 778.2h0M613.4 788.5h0M688.5 814.7h0M690.6 817.8h0M669.3 807h0M683.5 839.6h0M696.3 792h0M633.6 831.7h0M631.3 855.2h0M770.2 801.6h0M700.7 809.8h0M629.2 857.6h0M797.2 808.1h0M691.9 824.1h0M802.4 807.8h0M668.5 809.3h0M675.1 789.9h0M806.9 825.1h0M617.9 798.7h0M661.7 815.8h0M657.7 860.9h0M678.1 853.9h0M634.6 854.7h0M663.8 832.3h0M616.6 790.8h0M711 804.9h0M700.7 815.7h0M642.2 853.5h0M610.8 841.3h0M638.9 837.2h0M661.8 804.4h0M633.8 822.7h0M792.8 803.9h0M705.4 841.4h0M673.5 788.6h0M749.6 804.8h0M643.6 834.6h0M636.1 812.2h0M693.1 801.5h0M668.5 808.3h0M685.7 806h0M679 851h0M648.8 803.8h0M675.9 777.5h0M670.8 828.5h0M663.1 825h0M664.2 824.7h0M713.6 795.8h0M668.5 783.1h0M634.6 872.6h0M675.6 833.7h0M655.1 814.6h0M659.5 834.9h0M673.6 834.6h0M667.1 782.5h0M608.3 816h0M621.4 836.1h0M616.7 810.1h0M621.2 793.6h0M734.2 829.4h0M687.3 779.8h0M636 820.7h0M671.1 837h0M675.2 791.7h0M718.6 822.4h0M711 845.1h0M708.9 841.8h0M681.6 848h0M698.8 825.5h0M674.5 764.8h0M671.3 832h0M631.1 819h0M684.9 802.3h0M674.3 761.2h0M617.8 813.7h0M740.4 837.4h0M823.1 809.6h0M750.8 826.6h0M738.3 806.3h0M644.5 857.1h0M798.4 833.8h0M651.3 808.8h0M686.7 833.1h0M687 778.1h0M675.6 832.6h0M616.6 815.8h0M644.2 790.6h0M675.3 844.6h0M670.8 805.9h0M667.4 801.6h0M782 826.7h0M696 804.9h0M693.8 820.5h0M763.7 829.8h0M718.7 798.2h0M746.4 799.3h0M622.7 841.6h0M677.6 789h0M633.4 865.1h0M668.5 858.6h0M668.7 857.7h0M661.4 802.9h0M788.8 803.6h0M823.4 820.4h0M729.7 787.9h0M708.9 805.8h0M630.4 782.9h0M723.4 797.7h0M698.6 846.1h0M657.4 775.9h0M821 806.6h0M614.8 795.3h0M650 805.2h0M711.3 808.3h0M607.8 789.5h0M668.6 837.5h0M711.6 819.9h0M641.1 795.2h0M655.6 793.1h0M662.7 831.4h0M644.7 827.9h0M633.3 806.7h0M639.9 846.6h0M788 802h0M627.4 826.2h0M666 824.9h0M640.4 779.6h0M650.2 842.7h0M622.1 787.3h0M741.9 822.6h0M643.9 770.4h0M641.4 777.4h0M654.7 796.4h0M793.1 805.1h0M653 788.7h0M711.5 817.9h0M634.2 838.6h0M673.8 780.8h0M703.1 824.2h0M754.9 833.2h0M618 826.9h0M668.2 844.1h0M671.2 783h0M639.6 852.7h0M617.3 834.8h0M630.9 855h0M811.8 800.3h0M637.9 822.3h0M674.9 785.9h0M664 810.9h0M641.6 839.8h0M648.3 792h0M828.1 820.3h0M771.6 805.2h0M829.1 815.7h0M636.3 827.8h0M739.4 830.2h0M624.9 834.1h0M844.3 817.7h0M648.7 850h0M662.7 796.7h0M616.6 847.7h0M635 804.2h0M679.9 789.3h0M804.8 821h0M666.5 858.8h0M647.7 814.8h0M707.4 837.3h0M738 833.6h0M677.6 816.9h0M730 792.2h0M730.8 796.7h0M805.7 802.4h0M685.3 791.8h0M780.9 802.4h0M679.3 835.3h0M624.4 839.4h0M677 768.3h0M626 781h0M653.4 792.8h0M648.1 828.2h0M630.5 835.8h0M642.1 830.2h0M658.6 829.1h0M689.9 787.7h0M682 797.9h0M618.6 821.1h0M762.6 824h0M626.4 772.3h0M675.3 850.4h0M639 829.1h0M683.3 788.4h0M651.8 816h0M716.6 824.9h0M626.8 834.3h0M776.4 803.2h0M654.6 802.5h0M661.3 810.5h0M616.5 839.8h0M660.9 789.7h0M826.2 803.7h0M664.1 795.1h0M618.7 843.3h0M655 791.4h0M649.3 816.6h0M699.1 844.9h0M772.4 830.3h0M753.7 827.8h0M721.6 833.9h0M734.2 796.4h0M640.1 767.8h0M780.2 804.2h0M836.7 810.5h0M642.5 792h0M704.4 832.3h0M722.5 806.7h0M652.2 735.9h0M761.4 825.9h0M645.7 852.4h0M728 836h0M614.7 830.6h0M707.8 834.5h0M627.6 761.3h0M622.9 843.7h0M637.3 764.6h0M650.5 829.9h0M639.9 799.1h0M696.7 833.6h0M654.3 774.7h0M807.4 826.7h0M639.5 854.7h0M685.7 812.2h0M675.1 806.6h0M724.7 832.2h0M842 812.6h0M641.5 812h0M660.1 829.4h0M665.1 810h0M711.6 802.1h0M665.8 806.5h0M672.8 856.8h0M678.7 776.6h0M845.4 813.5h0M740.3 797.7h0M742.2 819.5h0M666.2 830.8h0M680 840h0M618.4 814.7h0M649.1 787.9h0M618.7 804.7h0M650.1 795.3h0M715.1 794.6h0M633 800.9h0M745.1 793.3h0M761.3 808.2h0M629.6 777.5h0M831.5 813.6h0M660.1 851.7h0M736.8 832.1h0M696.9 840.9h0M618.5 812.7h0M702.6 838.1h0M674.9 787.8h0M608.3 821.2h0M715.3 812.1h0M671.6 777.3h0M670.4 774.1h0M617.9 861.6h0M651.4 836.3h0M722.2 828h0M719.2 797.2h0M686.8 786.7h0M613.2 793h0M624 791.5h0M648.2 778.3h0M717.1 822.3h0M842 813.6h0M673.8 849.6h0M614.5 825.2h0M655.4 763.7h0M716.7 797.1h0M649.8 788.6h0M639 809.8h0M679.6 829.7h0M756.2 805.1h0M664.7 823h0M656.1 872.3h0M732.6 799.5h0M644.2 822.6h0M667.7 774.1h0M697.7 794.8h0M649.8 784.8h0M835.2 821.3h0M658.3 832.8h0M693.3 855.4h0M622.4 818.5h0M741.5 833.1h0M652.3 859.6h0M628.3 833.5h0M806.1 808.3h0M671.3 845.5h0M663 819.4h0M622.7 806.3h0M613.8 821.7h0M660 802h0M779.6 829.8h0M662.3 792.7h0M676.6 827.2h0M652.1 783.5h0M764.7 825.6h0M610.1 817.3h0M669.1 798.4h0M833.7 819h0M662.2 867.1h0M650.7 839h0M786.9 834.4h0M751.8 824.4h0M648.8 821.7h0M619.6 854.1h0M815.7 808.6h0M669.5 751.1h0M643.1 839.3h0M611.8 824.6h0M747.6 824.4h0M758.4 799.1h0M686.5 808.3h0M610.9 807.4h0M637.7 807h0M697.9 837.6h0M826.6 814.7h0M779.4 827.8h0M665.1 795.9h0M743.2 796.8h0M640.9 808.8h0M630.4 827.7h0M613.1 819.3h0M702.6 847.3h0M622.9 793.7h0M775.6 825.6h0M651.4 793.7h0M639.1 868.5h0M641.5 843.8h0M766.6 801.9h0M679.9 816.1h0M625.6 832.1h0M714.7 801h0M678.1 856.1h0M725.9 846.2h0M844.7 819.9h0M779.9 828.5h0M695.1 796.6h0M705.2 796.9h0M824.2 804.8h0M680.3 777.2h0M780.2 833.9h0M780.6 812.4h0M707.3 798.4h0M776 801.2h0M684.8 821.8h0M614.5 784.9h0M790.3 837h0M616.9 806.2h0M714.3 799.1h0M746 828.5h0M802.5 825.2h0M668 767.9h0M656 877.4h0M636.5 873.6h0M640 802.2h0M626.6 832.3h0M703.4 822.5h0M664.2 853.9h0M688.2 849.3h0M634.8 849.3h0M644.5 807.1h0M642.5 829.5h0M645.8 834.8h0M795.9 822.7h0M693 832.3h0M646.2 813.4h0M661.5 820.8h0M648.1 840.7h0M710.4 792.4h0M695.6 817.3h0M725.5 797.2h0M667.3 853.6h0M620.1 819.6h0M659 778.4h0M642 787.1h0M824.5 803.6h0M684.1 821.3h0M648.5 842.4h0M647.3 793h0M683.6 808.8h0M647.8 871.3h0M654.3 828.6h0M630.7 855.6h0M620.3 797.2h0M723.1 835h0M620.4 806.7h0M829.9 824.6h0M675.4 766.8h0M706.2 795.1h0M703.7 824.4h0M713.2 796.4h0M803.3 823.3h0M718 802.3h0M750 797h0M645.5 854.5h0M629.8 816.9h0M657.3 755.1h0M609.2 821.4h0M678.9 848.2h0M659.9 825.1h0M628.8 761.6h0M589.4 866.4h0M620.9 807.8h0M602.6 737.1h0M581.6 853.7h0M659.2 769.1h0M589 814.6h0M620.9 867.9h0M613.6 857.4h0M615 858.6h0M635.2 825.1h0M623.4 926.9h0M605.3 815.6h0M587.8 760.4h0M659.6 783.2h0M589.7 797.6h0M595.2 761.9h0M602.1 889.1h0M589.6 832.2h0M662.5 781.2h0M606.2 788.8h0M621.3 868.7h0M643.7 824h0M628.2 794h0M644.1 843.3h0M638.3 783.6h0M620.8 805.1h0M595.8 756.3h0M609 785.4h0M627.3 792.2h0M633.7 796.8h0M642.6 783.2h0M583.8 822.6h0M657.7 789h0M627.8 853.6h0M637.3 802.7h0M649 850.4h0M608.8 849.3h0M624.9 928.5h0M635.4 766h0M621.3 773.8h0M625 888h0M640.2 843.2h0M601.8 893.9h0M599.2 752.2h0M595 790.3h0M608.8 866.3h0M643.5 871.2h0M611.2 903.3h0M624.4 787h0M583.2 828.4h0M645.4 848.5h0M620.7 813.8h0M598.4 876.9h0M625.2 933.7h0M595 795h0M615.1 784.6h0M583.2 825.3h0M646.1 786.9h0M582.3 857.9h0M611.8 855.2h0M636.7 917.1h0M661.1 866.2h0M606.1 827.1h0M642.2 822h0M622.6 745.3h0M610.3 840.1h0M649.6 781.8h0M572 842.2h0M639.4 879.6h0M670.8 866.1h0M666.7 860.1h0M644.1 763.1h0M650 861.5h0M611.7 874.4h0M650.1 832.2h0M644.3 723.9h0M582.5 823.2h0M611 762.1h0M672.2 803.1h0M645.5 771.1h0M619.3 849.8h0M638.8 858.3h0M582.1 779.2h0M657.6 873.4h0M632.5 841.2h0M602.9 781.8h0M632.7 768.4h0M670 876.4h0M581 778h0M615 754.6h0M633.6 765.1h0M615.2 770.4h0M573 790.2h0M582.9 855.3h0M652.2 807.3h0M602.3 820.2h0M598.8 878.6h0M645 773h0M611.2 850.7h0M606.5 763.8h0M589.5 816.3h0M608.6 818.9h0M625.3 705.5h0M599 846.8h0M666 760.3h0M606.1 813.8h0M659 785.8h0M639.9 831.4h0M573 843.5h0M636.8 805.1h0M639.6 920.6h0M590.6 835h0M605.6 860.3h0M630.3 813.6h0M628 746.8h0M599.2 750.5h0M606 735.5h0M617.9 711.6h0M619.8 762.6h0M593.9 826.5h0M619 835.9h0M660.5 857.9h0M573 794.1h0M630 746.6h0M622.2 746.6h0M608.9 810.7h0M590.1 838.8h0M617.1 832.9h0M636.5 795.2h0M573 792.6h0M598.3 847.7h0M589.9 818.4h0M574.3 815.6h0M665.1 784.2h0M634.6 795h0M605.8 860.1h0M649.3 766h0M629.8 732.8h0M603.4 834.2h0M581.8 807.3h0M617.4 773h0M655.8 841.8h0M650.1 840.9h0M615.6 843.7h0M608.9 763.1h0M657 767.1h0M573.4 812.8h0M611 780.8h0M625.3 878.5h0M611 792.8h0M635.1 784.1h0M626.6 786.9h0M602.1 793.8h0M584.3 780.5h0M615.1 750.7h0M599.7 876.8h0M595 823.6h0M653.6 844.1h0M611.5 822.2h0M582.9 851h0M609 729.6h0M635.4 846.9h0M600.8 750.2h0M608.6 727.8h0M613.8 857.8h0M665.7 818.5h0M583.4 805.6h0M582.1 775.2h0M615.6 861.7h0M609.1 836.3h0M603.1 889.2h0M571.3 789.5h0M582.9 859h0M595.3 787.1h0M582.1 830.8h0M635.2 801.4h0M612.2 759.4h0M605.9 890.5h0M619.7 864.2h0M660.3 776.8h0M613.3 877.5h0M596 823h0M615.5 844.9h0M573 839.7h0M617.2 920.6h0M603.9 808.9h0M634.9 852.5h0M603.1 805.3h0M672.6 837h0M621.1 927.4h0M633 844.5h0M640.7 851.6h0M594.4 844.3h0M635.4 782.1h0M595.8 758.6h0M589 864.7h0M598.6 801.5h0M652.2 849.6h0M608 835.1h0M606.3 862.8h0M625.4 898.8h0M598 754.1h0M571.7 818.7h0M619.5 777.5h0M608.9 829.2h0M627.4 879.7h0M652.1 877.1h0M606.3 774.2h0M613.8 872.5h0M635.7 865.4h0M654.3 806.4h0M626.9 810.4h0M631.1 862.9h0M631.4 859.3h0M573 840.9h0M602.7 818.4h0M640.9 848.4h0M599.4 886.6h0M637.3 875.5h0M594.2 870.9h0M630.8 774h0M633.8 846.8h0M572.6 819.2h0M624.2 841.1h0M631.1 744.8h0M605.4 859.4h0M657.7 848.5h0M653.9 783.1h0M657.7 768.2h0M599.7 830.3h0M617.3 763.3h0M608.8 844.1h0M646.7 863.7h0M653.3 754.5h0M626 754.4h0M619.6 858.3h0M602.5 856h0M645.1 850h0M590.3 813.8h0M649.5 736.9h0M650.3 811h0M615.5 846.6h0M605.9 772.2h0M606 857.1h0M625.6 842.6h0M619 868.3h0M573 839.2h0M590.3 763.8h0M610.7 854.6h0M606.4 731.5h0M609 736.8h0M593.8 753.6h0M595.3 789h0M604.9 793.5h0M661.4 835h0M602.1 796.8h0M654.1 813.5h0M608.5 832.6h0M602.3 824.9h0M611.7 795.1h0M630.9 770.2h0M640.3 809.2h0M623.9 859.1h0M584.3 776.6h0M627.6 733h0M613.7 721.7h0M605.6 735h0M613.5 873.2h0M627.5 805h0M615.4 749.7h0M632.2 910h0M571.3 792.6h0M627.9 763.7h0M605.1 825.9h0M573 788h0M617.5 882.2h0M632.4 816.1h0M624.9 770.1h0M652.1 778.6h0M648.5 857.8h0M643.3 853.8h0M645.6 755.8h0M611 763.1h0M651.2 849.4h0M629.9 788.1h0M661.4 764h0M659 805.6h0M583.4 801h0M611.2 817.2h0M608.5 861.6h0M650.1 797h0M638.5 712.1h0M617.1 770.8h0M667.3 831.6h0M627.8 750.6h0M658.2 762.9h0M646.8 824.3h0M582.3 852.4h0M571.7 817.3h0M633.5 775.5h0M657.1 786.6h0M632.8 830.4h0M624.4 770.8h0M625.6 808.8h0M608.6 732.5h0M641 742.1h0M615.7 859.9h0M628.7 736.7h0M661.4 844.3h0M640 793.3h0M635.1 757.3h0M659.4 793.3h0M628.6 835.2h0M633.4 828h0M626.5 864.5h0M617.1 783.5h0M639.6 762.3h0M631.3 870.7h0M614.9 775.3h0M640 778.4h0M594.5 754.2h0M624.7 779.4h0M573 785.1h0M634.2 770.7h0M574.6 788.8h0M671 808.3h0M606.4 790.5h0M662 853.3h0M630.8 837.8h0M589.3 836.1h0M638.7 831.6h0M626.2 841.6h0M588.5 868.8h0M588.7 769.5h0M616.9 922.4h0M602.6 745h0M608.8 899h0M649.1 876.3h0M612.8 731.9h0M622.5 868.4h0M574.6 793.4h0M606.2 895.4h0M599.7 884h0M608.9 865.7h0M620.8 891.4h0M611.3 867.9h0M650.3 801.2h0M622.3 871.4h0M626.5 866.8h0M627.7 751.8h0M650.7 762.5h0M655 775.7h0M655.1 770.2h0M604.9 788.6h0M653.1 774.5h0M603 795.5h0M611 872.3h0M602.1 747.5h0M608.7 855h0M648.8 756.9h0M638.9 870.6h0M582.3 804h0M642.8 863.1h0M613.4 907.2h0M621.8 762.9h0M625.7 779.2h0M608.8 906.8h0M643.3 751h0M645.7 779.6h0M574.3 814.7h0M610 761.4h0M589.9 866h0M645 776.9h0M573 845.2h0M646.2 746.9h0M658.4 870.3h0M608.5 864.6h0M615.9 874.1h0M603.5 792.5h0M652 847.7h0M572 843.1h0M605.8 829.1h0M598.8 885.5h0M605.7 892.2h0M643.1 831.2h0M636.7 883.3h0M635 810.5h0M605.4 791h0M583.2 826.5h0M630.3 729.6h0M613.9 810.5h0M623.9 928.1h0M638.2 912.7h0M647.6 836.5h0M626.6 838.9h0M638.6 766.3h0M611.4 869.9h0M668.4 802.5h0M640.8 858.1h0M611.4 824.9h0M602.6 793.9h0M615.4 758h0M613.4 802.5h0M625.4 736.9h0M602.4 836.6h0M583.5 854.6h0M598.9 850.4h0M615.9 874.6h0M625.3 812.8h0M630.5 886.3h0M644.7 792.1h0M625 763.9h0M614.5 809.7h0M633.1 941.6h0M624.1 759.3h0M581.2 806.6h0M651.4 761.3h0M657.7 783.1h0M615.4 910.2h0M659.3 783.1h0M628.3 791.9h0M631.8 843.8h0M633 834.6h0M601.7 775.7h0M597.7 805.2h0M610.8 813.5h0M598.8 830h0M617.6 886.1h0M627.5 883.1h0M613.9 856.6h0M621.6 786.1h0M611.6 848.5h0M599.1 881.1h0M655.9 801.9h0M615.6 912.8h0M611.3 724h0M606.4 737.5h0M644.6 748.5h0M640 727.6h0M653.7 877.3h0M662.3 760.6h0M634.5 851h0M650.3 777.3h0M640.2 788.5h0M610.6 728.7h0M602.9 837.2h0M610.8 816.6h0M651.5 811.8h0M574.3 816.9h0M610.3 728.5h0M573 833.7h0M598.8 799.2h0M605.3 843.6h0M617.2 801.8h0M639.2 829.8h0M651.6 857.1h0M645.7 793h0M631.2 886.2h0M636.5 858.5h0M628.2 800.4h0M633.9 864.7h0M602.4 834.2h0M639.7 765.7h0M617.1 847.1h0M589.7 797.7h0M613.2 915h0M622.9 702.7h0M605.8 859.6h0M648.5 842.6h0M666.8 835.7h0M573.9 844.2h0M646.6 777.5h0M605.4 827.7h0M609.5 783.7h0M626.3 855.5h0M650.3 826.4h0M639.8 921.3h0M635.4 786.7h0M649.1 770.1h0M625.1 758.2h0M634 792h0M603.7 825.2h0M644.8 847.2h0M629.9 829.8h0M611.3 724.7h0M647.4 886h0M624.1 930.5h0M635.6 799.1h0M617.2 849.4h0M653.8 856.1h0M643.9 811.9h0M589.9 870.3h0M675.6 778.5h0M645.6 862.1h0M658.7 773.8h0M593.9 790.4h0M603.2 839.1h0M619.1 851.9h0M602.7 773.8h0M637.4 861.5h0M654.2 884.8h0M626.6 855.8h0M602.9 891.5h0M656 859.1h0M638.9 850.5h0M603.3 821.9h0M643.5 776.3h0M617.7 713.9h0M609.1 862.1h0M623.8 833.2h0M648.4 726.1h0M643 812.9h0M616 854.5h0M614.2 814.3h0M622.2 860.6h0M641.7 864.1h0M594.1 808.1h0M626.3 773.1h0M613.6 913.3h0M643.9 763.7h0M627.6 730.3h0M638.9 753.2h0M635.7 718.8h0M646.4 803.2h0M623.6 815.2h0M600.2 742.2h0M640.3 791.4h0M571.3 785.8h0M622.7 827.6h0M630.5 859h0M666.6 869.3h0M599.6 782.1h0M593.9 787.2h0M583 803.5h0M650.6 802.2h0M638.9 779.5h0M635.7 844.4h0M573 789.2h0M631.2 832.2h0M626.3 861.9h0M625.8 701.3h0M643.4 878.5h0M623.7 893h0M638 754.9h0M618.4 746.4h0M668.8 854.9h0M638.8 838.5h0M642.1 872.9h0M611 779.2h0M611 732.7h0M642.5 829.9h0M605.6 801.7h0M589 862.8h0M582.1 777.1h0M599.2 847.2h0M594.2 874.3h0M632.2 779.1h0M637.1 770.1h0M589.8 813h0M608.4 808.1h0M666.3 754.7h0M617.1 753.1h0M607.9 765h0M638.6 918.5h0M613.6 761h0M599.9 818.8h0M605.8 863.6h0M628.7 864.8h0M624.8 735.7h0M648.5 811.7h0M619 917.2h0M627.8 798.6h0M589.5 766.9h0M641 764.9h0M571.7 813.6h0M642.9 793.7h0M602.2 811.2h0M627.9 754.1h0M627.7 783.1h0M627 749.6h0M624 704.2h0M651.4 817.7h0M601.8 822.2h0M599.7 829.2h0M632.8 766.7h0M650.7 787.1h0M607.8 786h0M660.5 780.1h0M618.9 871.1h0M617.7 837.7h0M633.8 780.8h0M611.3 829.5h0M637.5 800.6h0M573.4 816.9h0M653.1 853.9h0M609.1 764.8h0M635.7 864.2h0M631.4 725.6h0M618 789.1h0M666.2 801.9h0M593.1 749.3h0M659 776.1h0M629.7 876h0M605.6 861.7h0M603.4 776.5h0M647.6 754.9h0M602.1 892.5h0M615.2 902.6h0M602.2 774.7h0M636.1 782.8h0M605.6 738.3h0M620.3 744.3h0M654.2 899.1h0M615.9 876.9h0M673 862.6h0M610.9 834.8h0M573 837.4h0M572 839.3h0M617.3 840.8h0M658.1 842.8h0M625.2 776.5h0M606.2 787.7h0M625.4 790.5h0M657.5 759.3h0M573.4 815.9h0M615.6 786.4h0M621.2 746.3h0M621.3 866h0M589 819.4h0M643 723.6h0M604 796h0M619.2 796.5h0M599.3 816.3h0M588.5 797.4h0M609.3 770h0M573.9 843.1h0M642.4 792.8h0M644.2 768.2h0M641 924.5h0M574.3 812.9h0M598.7 784.1h0M615.5 879.8h0M610.8 842.9h0M647.6 728.7h0M661.2 870.4h0M602.1 748.9h0M599 817.6h0M581.8 806h0M633 814.6h0M594.5 810.4h0M636.3 781.1h0M622.5 845.8h0M660.3 748.7h0M635.7 761.2h0M608.6 730.9h0M621 780.5h0M605.1 820.7h0M629.2 807.9h0M644.6 831h0M611 760.7h0M632.8 852.5h0M609 726.3h0M621.2 763.6h0M652.4 785.8h0M608.6 787.7h0M643.5 767.9h0M571.3 795.1h0M659.8 846.8h0M602.5 778.1h0M599.7 879.3h0M673.2 828h0M655.4 759.5h0M589.4 866.4h0M599.2 817h0M675 781.7h0M655 800.7h0M648.1 851.5h0M623.8 700.5h0M635.6 837.4h0M606.2 841.7h0M623.8 817.3h0M603.1 834.4h0M629.3 869.2h0M684.2 856.7h0M639.7 810.6h0M659.2 812.7h0M595.1 841.6h0M633.1 866.4h0M621.7 838h0M628.8 729.1h0M657.1 839.3h0M573.4 815h0M615.9 914.2h0M642 749.4h0M632.1 756.5h0M646.9 819h0M599.1 879.4h0M608.8 905h0M625.3 701.7h0M672.1 853h0M602.3 884.3h0M633.8 868.5h0M594.6 871.7h0M633 907.5h0M657.4 815.3h0M620.2 742.6h0M611.7 759h0M669 773.2h0M667.6 790.1h0M657 876.8h0M623.6 819.2h0M602.4 808.1h0M625.2 881.3h0M608.1 797.4h0M589.3 834.1h0M622.8 928.8h0M650.3 780.8h0M594.9 818h0M623.2 810.5h0M629 859.8h0M634.9 881.8h0M647 802h0M597.9 785.1h0M638.3 763.5h0M619.2 912.9h0M571.7 815.8h0M617.4 911h0M608.8 848.6h0M666.6 822.7h0M617.5 843.3h0M599.5 852h0M646.7 844.2h0M623.3 864.3h0M611.5 777.3h0M679.5 750.6h0M583.2 782.3h0M589.5 761.8h0M594.2 875h0M599.3 781.5h0M615.7 803.6h0M594.5 809.8h0M669.3 768.2h0M613.1 774.6h0M602.9 884.9h0M670.1 764.5h0M642.6 867.9h0M571.3 790.5h0M589.9 869.1h0M594 839.5h0M629.8 758.6h0M662.8 890.4h0M686.4 779.4h0M629.8 866.2h0M615.7 915.2h0M620.9 740.6h0M647.6 844.3h0M658.9 860.5h0M582.1 780.7h0M588.1 813.3h0M635.2 771.1h0M640.8 858.3h0M574.6 783.1h0M627.3 783.6h0M662 861.9h0M595.8 751.7h0M601.9 840.1h0M620.1 767.2h0M606.6 845.8h0M589.5 768h0M594.5 760.4h0M604.9 892.8h0M614.9 826.4h0M617.5 913.9h0M648.6 829.8h0M657.6 779.8h0M616.5 799.9h0M616.9 749.3h0M615.4 857.1h0M657.4 831.2h0M590.6 833.2h0M629 903.5h0M841.2 810.9h0M846.7 821.1h0M854.9 805.9h0M860.4 800.8h0M865.9 797h0M890.5 807.1h0M849.5 813.5h0M764.7 831.3h0M810.3 831.3h0M699.6 818h0M727.7 838.2h0M734.5 838.1h0M778.1 830.1h0M817.6 827.8h0M711 833.8h0M772.5 833.4h0M788.8 835h0M830.8 826.4h0M728.6 841.3h0M708.8 843.5h0M757.2 850.6h0M822.6 840.2h0M741.1 856.9h0M721 830.6h0M778.9 847.3h0M736.4 847.1h0M824.7 829.3h0M701 839.9h0M776 829.1h0M835.1 824.2h0M825.8 830.6h0M810.9 828.2h0M735.3 829.2h0M823.9 830.4h0M702.1 849.6h0M766.4 840.9h0M748.9 837.9h0M764.4 829.6h0M833.6 830.6h0M738.9 839.4h0M757 833.7h0M821.7 830.7h0M810.2 830h0M800.7 832.9h0M815 829.9h0M787.9 830.2h0M813 830.5h0M781.5 834.5h0M729.6 830h0M793.8 830.3h0M807.1 840.2h0M792.2 835.6h0M776.8 841.9h0M712.2 827.6h0M738.8 837.1h0M809.5 828.8h0M804.6 829.5h0M710.5 841.2h0M720.8 838.8h0M726.9 829.6h0M788.3 829.9h0M713.2 778.5h0M704.4 791.8h0M727.2 794.4h0M716.1 795.8h0M724.9 793.1h0M725.9 785.4h0" stroke="#bdbcbd" stroke-width="4.2" stroke-linecap="round" fill="none"/><path d="M820.6 833.6h0M772.1 831.6h0M771.1 834.6h0M773.5 846.4h0M736.8 846.2h0M718.5 838.6h0M719 839.8h0M730.9 840.8h0M752.5 835.7h0M752.8 845.9h0M728.7 839.8h0M788.1 837h0M811.9 835.1h0M782 831.2h0M767.9 840.4h0M761.4 838.9h0M721.1 840.4h0M737.5 839.8h0M722.9 833.7h0M708.8 844.3h0M702.2 845h0M700.9 846.6h0M784 839.7h0M780.3 840.1h0M726.6 842.8h0M744.5 838.8h0M727.3 840.4h0M774.6 842.2h0M792.4 835.2h0M702.1 864.5h0M791.8 835.6h0M761.8 834.7h0M782.9 835h0M823 837.7h0M761.8 836.2h0M774.1 836.3h0M732.5 837.5h0M763.8 838.2h0M750.8 839.1h0M763 850.7h0M742.1 837.3h0M712 851.6h0M735.1 844.8h0M719.5 836.9h0M705.4 834.6h0M792.8 837.8h0M766.3 836.1h0M707.6 848.9h0M756 840.3h0M726 840.6h0M767.5 835.5h0M761.1 836.2h0M759.6 839.1h0M812.2 834.3h0M738.2 833.7h0M785.3 842h0M707.1 846.8h0M729.8 836.9h0M812.2 837.4h0M728.3 836.4h0M749.2 842.6h0M782.4 836.4h0M782.4 848.1h0M776.6 832.4h0M778.3 847.6h0M745.5 851.5h0M782.8 839.2h0M773.4 837.3h0M705.6 840.7h0M714.3 841.1h0M816.1 837.4h0M753.7 841.4h0M716 840.5h0M707.1 841.8h0M751.1 841.9h0M756.1 831.6h0M824.2 834.8h0M764.6 841.2h0M775.1 832.5h0M756.6 838h0M799.3 831.5h0M723.1 837.8h0M795.1 834.9h0M775.8 845.4h0M755.7 836.7h0M731.2 843.2h0M750.6 855.4h0M739 841.2h0M791 836.1h0M765.3 834.6h0M786.2 837.6h0M765.2 838.6h0M715.6 838h0M814.5 837.1h0M783.1 833.4h0M789.2 842.1h0M785 837.4h0M782.9 832.3h0M777.2 841.1h0M736.7 838.7h0M710.4 841.6h0M730.3 832.3h0M708.1 849.8h0M762.9 831.7h0M839.6 845.6h0M778.2 838.6h0M763.4 838.8h0M805.9 836.5h0M730.8 839.8h0M776.3 833.5h0M788.8 835.1h0M724.3 849.6h0M805.8 838.9h0M708 837.1h0M735.2 838.3h0M747.3 836.2h0M814.2 834.1h0M807.3 846.7h0M785 835.5h0M699.1 843h0M801.6 837.1h0M808.2 835.2h0M804 835.5h0M746.7 835.1h0M757.2 844h0M749.6 837h0M725.3 839.5h0M716 833.5h0M748.8 836.8h0M809.9 839.3h0M764.6 836.9h0M726 846.9h0M798.4 832.4h0M776.2 841.4h0M808.5 835.9h0M754.8 833.1h0M728.9 846.9h0M819.4 834.9h0M753.1 836.2h0M730.9 832h0M781 833.7h0M729.5 840.7h0M786.5 836h0M756.7 841.2h0M787.1 846.3h0M825.8 834.9h0M815.6 834.1h0M700 839.5h0M737.8 831.2h0M711.5 849h0M720.4 841.4h0M702.6 844h0M730.2 841.3h0M725.1 837h0M745.9 839.3h0M805.3 835.8h0M714.2 836.5h0M744.2 841.9h0M790.4 837.9h0M772.3 834.2h0M790.4 831.2h0M815.5 834.4h0M705.5 861.7h0M777.8 836.1h0M741.8 837.6h0M802.5 831.9h0M716.2 837.3h0M809.3 833.2h0M775.5 836.4h0M735 842.3h0M752.8 835.3h0M755.6 835.2h0M715.1 838.3h0M765.6 837.1h0M793.7 835.1h0M720.1 846.3h0M703.8 844.3h0M721.5 847.1h0M727.8 844.3h0M735.9 842.2h0M796 832.6h0M705.9 838.4h0M712.8 841.4h0M755.1 843.3h0M796.5 839.2h0M745.1 841.8h0M773.1 831.6h0M772.6 835.4h0M743.8 839.2h0M785.6 830.8h0M704.2 843.3h0M715 853.6h0M738.8 840.1h0M711.2 846.9h0M718.6 840.9h0M772.5 841.3h0M721 848.5h0M740.8 834.5h0M773.1 834.2h0M743.6 833.5h0M716.8 837.7h0M735.2 835.8h0M705 832.4h0M802 833.7h0M815.8 835.3h0M716.3 846.9h0M707 846.4h0M711.7 843.1h0M744.4 838h0M791.1 837.2h0M764.2 833.6h0M706.5 844.9h0M787 835h0M722 843.7h0M717.5 840.7h0M812.4 839.5h0M717.6 851.4h0M766.8 836.2h0M749.7 846.4h0M702.7 839.4h0M725.3 832.8h0M704.5 845.5h0M721.9 835.7h0M791.9 839.5h0M754.2 839.5h0M743.4 840h0M753.9 833h0M703.6 837.9h0M760.1 838.2h0M765.2 853.1h0M777.3 839.7h0M713.1 845.8h0M836.5 836.9h0M712.5 838.1h0M743.5 849h0M792 837h0M797.1 841.1h0M752.2 838.9h0M714.2 848h0M766.6 838.9h0M715.2 847.3h0M806.7 832.1h0M702.8 833.1h0M715.2 839.1h0M708.1 838.6h0M821.9 845.9h0M727.4 843.7h0M716.4 841.8h0M799.9 835.8h0M708.1 842.7h0M769.7 837.4h0M765.1 838h0M773.1 837.5h0M750.8 840.4h0M785.7 837.3h0M771.4 837h0M741.4 844.1h0M703.7 857.1h0M757.1 837.5h0M706.1 842.1h0M745.8 841.5h0M707.3 845.4h0M779.8 841.7h0M722 840.7h0M810.2 834.1h0M773.5 833.6h0M721.2 861.4h0M699.9 860.2h0M804.7 838.3h0M712.7 845.3h0M746.6 839.9h0M764.3 840.6h0M792 840.2h0M767.6 840.9h0M750.9 837.9h0M717.9 837.6h0M790.5 834.4h0M770 845.8h0M747.3 840.7h0M783.3 834h0M807.7 837.7h0M768.3 839.4h0M779.3 841.2h0M752.1 832.5h0M723 841.7h0M733.2 835.9h0M713.5 836.7h0M732.4 843.3h0M779.9 842.7h0M729.6 839.7h0M703.1 842.4h0M777.4 833.1h0M767.4 836.6h0M802.7 832.8h0M775 837.9h0M736.5 838.9h0M715.7 840.4h0M722.9 843.2h0M744.6 848.5h0M721.4 839.5h0M796.7 834.8h0M781.4 839h0M705.9 839.3h0M781.9 835.4h0M725.5 834.1h0M802.6 836h0M817.4 837.1h0M713.1 832.5h0M759.2 843.2h0M704.9 831.4h0M732 838h0M799.1 842.9h0M702.8 835.9h0M714.4 840.5h0M821.9 834.4h0M721.7 843.2h0M763.7 839.4h0M785.2 839.6h0M718.1 842.4h0M724.4 840.1h0M719.2 838.7h0M739.3 835.1h0M725.9 839h0M753.4 837.3h0M716.5 842h0M710 833.3h0M804.8 835.3h0M752.7 842.4h0M775.7 843.7h0M789.9 835.6h0M724.1 840.6h0M801 834.8h0M723.3 837.2h0M734.2 843.6h0M788.1 834.9h0M722.1 858.2h0M745.7 834.8h0M778.4 840.9h0M761.4 838.1h0M699.9 843.8h0M773.6 838.9h0M811.3 838.1h0M752 833.9h0M753.5 848.2h0M726.8 834.2h0M735.3 838.7h0M725.3 839.5h0M710.7 840.4h0M785.7 835.2h0M793.1 833.2h0M758.9 847.6h0M797.4 834.4h0M741.1 839.5h0M729.7 836.4h0M720.3 836.1h0M707.2 851.5h0M760.1 837.2h0M719.4 832.4h0M734.3 845.9h0M759.7 836.4h0M704.6 839.3h0M757.6 841.2h0M752.8 832h0M748.2 839.4h0M764.7 850.8h0M764.2 843.5h0M715.2 837h0M707.6 858.9h0M782.4 834h0M753.3 838.8h0M716.3 852.8h0M712.3 835.1h0M770 841.6h0M739.5 838.2h0M729 846h0M723.8 837.9h0M757.7 835.2h0M737.3 834h0M710.2 849.3h0M790.6 832.5h0M763.5 841.1h0M761.3 847.2h0M717.1 843.5h0M801.9 844.9h0M791.2 831.2h0M795.3 834.5h0M708.9 840.7h0M705.5 837h0M701 841.3h0M766.2 837.6h0M736.1 833.6h0M808.5 836.9h0M794.3 837.4h0M723.4 833h0M717.6 848.5h0M717.5 834.6h0M756.8 833.3h0M713 839h0M714 836.7h0M777.7 839.8h0M718.7 845.3h0M805.3 832.6h0M728.7 839.2h0M738.5 836.5h0M734.2 837.9h0M706.4 836.8h0M750.3 848.7h0M734.7 833.6h0M715.6 844.9h0M727.7 845.8h0M806.3 835.2h0M781.1 836.8h0M783.8 835.6h0M769.9 837.8h0M783.5 842.4h0M699.7 835.4h0M722.4 845.6h0M731.6 841.9h0M797.6 837.4h0M715.7 832.3h0M748.1 834.8h0M733.3 838.8h0M734.2 833.1h0M708.4 834.3h0M786.3 834.4h0M745.4 840.8h0M756.2 842.5h0M709.5 832.3h0M831.2 837h0M707.1 844.4h0M795.8 836h0M727.4 839h0M701.3 843.7h0M778.4 838h0M703.9 837.4h0M728.3 837h0M822.6 837.1h0M759.3 843.8h0M754.5 837.6h0M791.5 833.1h0M805 838.7h0M740.7 854h0M710.1 840.1h0M769.3 835.9h0M725.3 859.7h0M769.7 844.9h0M780.6 837.8h0M777.7 831.6h0M743.5 843h0M821.3 832.6h0M729.7 837.7h0M742.3 839.6h0M727.3 842.1h0M726.1 837.5h0M751.2 837.1h0M791.8 834.5h0M774 834.7h0M712.1 839.2h0M709.9 846.6h0M753.8 834h0M734.9 839.9h0M753.3 840.7h0M743.6 834.9h0M722 838h0M775 835.2h0M740.5 834.1h0M742 843.2h0M808.1 834.3h0M781.8 837.5h0M706.3 843.2h0M808.6 838.4h0M757.6 831.5h0M707.6 836.3h0M836.5 835h0M743.4 837.5h0M709.5 848.5h0M700.2 837h0M737 836.8h0M799.2 836.6h0M774.8 840h0M815.5 832.7h0M703.3 846.3h0M828.2 833.6h0M763.5 836h0M767.2 834.2h0M742.9 846.1h0M713.6 834.7h0M701.4 847.6h0M757.5 837.1h0M734.9 843.2h0M774.1 836.7h0M779.2 836.4h0M711.4 844.3h0M740.5 851.3h0M720.6 841.1h0M754.5 840.2h0M788.7 839.7h0M739.8 837.4h0M731.2 839.2h0M813.5 833.8h0M712 840.5h0M703.7 839.9h0M762.5 833.9h0M765.5 831.1h0M742.7 841.3h0M719.1 849.2h0M712.4 836.9h0M818.2 836.1h0M782.5 840.6h0M728.3 839.1h0M715.5 842.7h0M824.6 832.2h0M831 830.9h0M787 837.2h0M761.3 835.3h0M707.3 842.6h0M758 835.9h0M743 836h0M835.4 832.8h0M760.8 832.4h0M767.3 833.1h0M759.8 835.4h0M701.8 847.2h0M699.3 858.6h0M720.4 837.6h0M713.4 833.7h0M787 834.3h0M759.2 838.9h0M798.4 848h0M756 835.6h0M789.9 837h0M800.7 837.4h0M823.9 831.5h0M733.7 839.2h0M704.4 835.3h0M738.5 837.1h0M707.9 842.4h0M709 844.9h0M795 832.1h0M732.5 840.5h0M698.9 837h0M769.8 833.8h0M814.3 835.3h0M830.4 836.2h0M727.9 837.6h0M738.1 841.1h0M737.4 835.7h0M741.1 843.2h0M777.3 838.2h0M723.8 843.1h0M752.8 833.1h0M721.2 836.8h0M742.3 838.8h0M714.1 833.9h0M753.6 837h0M717.3 845.2h0M768.9 831.4h0M794.3 838h0M746.2 832.5h0M747.2 842.6h0M699.6 836.4h0M812 836.3h0M720 840h0M719.9 845.3h0M738.4 855.3h0M699.2 852.1h0M749.5 838.5h0M745.2 845.8h0M736.4 832.2h0M736.4 845.4h0M734.3 843.5h0M820.2 835.8h0M802 838.6h0M712.6 840.5h0M790.8 835.4h0M703.1 832h0M699.1 847.7h0M773.6 832.4h0M729.1 831.9h0M796.8 838.1h0M764.5 844.1h0M744.5 835.7h0M786.5 833.1h0M767.4 838.5h0M756.1 838.9h0M715.3 840.7h0M716.5 837h0M758.4 840h0M765.2 832h0M723.2 839.8h0M740.5 836h0M760.3 833.2h0M811.4 835.9h0M779.1 837.7h0M811.4 832.2h0M728.5 843.4h0M710.4 843.2h0M710.7 836.7h0M750.4 840.2h0M710.1 844.3h0M699.3 850.2h0M718 847.1h0M701.9 844.3h0M797.4 836.7h0M736.9 835.4h0M788.8 831.3h0M737.2 844.5h0M735.3 832.9h0M719 842.2h0M732.6 837.6h0M752.2 835.3h0M778.2 836.7h0M748.3 837.1h0M725.8 843.6h0M752.1 840.2h0M710.5 838.7h0M711.2 854.4h0M715.1 834h0M720 847.2h0M778.4 835h0M755.7 845.1h0M764.7 835.8h0M763.8 839.6h0M771.8 838.7h0M827 832.9h0M807 833.9h0M797.7 841.2h0M708.6 843h0M724.3 844.7h0M716.2 855.2h0M760.7 833.7h0M709 851.1h0M789.5 839h0M750.6 835.7h0M701.4 842.6h0M741.2 838.7h0M785.8 842.2h0M803.8 840.3h0M824.1 833.5h0M715.3 835.1h0M716.6 838.7h0M747 838.3h0M767.4 840.4h0M796.6 836.1h0M776.3 835.6h0M729.8 849.2h0M816.5 834.6h0" stroke="#1b4694" stroke-width="4.2" stroke-linecap="round" fill="none"/><path d="M705.2 792.6h0M735.5 796.7h0M722.3 796.7h0M712.3 794.6h0M707.7 786.5h0M764 799.6h0M723 794.1h0M720.7 789.7h0M705.4 793.4h0M734.7 798.2h0M716.9 794.2h0M703.1 796.9h0M700.1 783.6h0M712.1 791.1h0M700.7 791h0M750.2 798h0M732 798.9h0M708.9 795.1h0M725.2 795.6h0M707.5 797h0M746.5 794.9h0M730 792h0M745.3 799.3h0M754.9 791.9h0M748.9 797.9h0M720.7 795.6h0M730 798.9h0M756 798.3h0M715.6 793.8h0M728.3 794h0M735.3 798.8h0M723.5 797.8h0M755.3 795.1h0M712.4 793.3h0M744.5 799h0M719.3 788.2h0M731.7 794.6h0M728.8 794.7h0M734.2 791.5h0M706.9 792.9h0M721.2 790.6h0M730.2 797.5h0M740.6 794.6h0M734.6 781.4h0M733.8 799h0M721.2 787.5h0M731.2 798.3h0M712.7 795.1h0M728.6 796.3h0M762.2 799.5h0M719.3 795.3h0" stroke="#d3261f" stroke-width="4.2" stroke-linecap="round" fill="none"/>
</svg>
<path d="M555.2 801.2H907.3" stroke="#2a2222" stroke-width="1.7" stroke-dasharray="14 10 4 10" stroke-dashoffset="26"/>
<path d="M555.2 831.3H907.3" stroke="#2a2222" stroke-width="1.7" stroke-dasharray="14 10 4 10" stroke-dashoffset="26"/>
<text x="731.0" y="765.4" font-size="25.49" font-style="italic">Gata6</text>
<path d="M711.2 766.5L723.9 763.6" stroke="#1a1212" stroke-width="1.5"/>
<circle cx="711.2" cy="766.5" r="2.2" fill="#a01818" stroke="#1a1212" stroke-width="0.9"/>
<text x="660.9" y="822.4" font-size="25.29" font-style="italic">Otx2</text>
<path d="M714.3 807.9L731.1 802.7" stroke="#1a1212" stroke-width="1.5"/>
<circle cx="731.1" cy="802.7" r="2.2" fill="#bdbcbd" stroke="#1a1212" stroke-width="0.9"/>
<text x="773.0" y="876.7" font-size="25.30" font-style="italic">Klf4</text>
<path d="M774.2 855.9L773 833.5" stroke="#1a1212" stroke-width="1.5"/>
<text x="837.2" y="873.8" font-size="25.54" font-style="italic">Esrrb</text>
<path d="M837.8 851.4L835.6 831.3" stroke="#1a1212" stroke-width="1.5"/>
<rect x="555.2" y="648.5" width="352.0999999999999" height="335.1" fill="none" stroke="#1a1212" stroke-width="2.9"/>
<rect x="743.3" y="648.5" width="164.0" height="64.89999999999998" fill="#fff" stroke="#1a1212" stroke-width="2.7"/>
<circle cx="756.3" cy="667.8" r="5.2" fill="#d3261f"/>
<circle cx="756.3" cy="694.9" r="5.2" fill="#1b4694"/>
<text x="765.2" y="673.8">Up: 51</text>
<text x="765.2" y="703.2">Down: 782</text>
<text x="678.7" y="635.1">4 h vs 0 h</text>
<text x="531.7" y="667.6">6</text>
<text x="531.7" y="744.2">3</text>
<text x="531.7" y="823.0">0</text>
<text x="516.6" y="896.2">−3</text>
<text x="516.6" y="972.8">−6</text>
<text x="582.1" y="1007.8">0</text>
<text x="692.0" y="1007.8">2</text>
<text x="801.4" y="1007.8">4</text>
<text x="546.0" y="1030.0">Log</text>
<text x="590.3" y="1038.6" font-size="16.00">10</text>
<text x="606.8" y="1030.0">(Mean of normalized counts)</text>
<g transform="translate(502.5 808.5) rotate(-90)"><text x="-109.5" y="0">Log<tspan font-size="16" dy="7.5">2</tspan><tspan dy="-7.5">(Fold Change)</tspan></text></g>
<text x="958.6" y="629.6" font-size="35.50" font-weight="bold">c</text>
<path d="M1142.1 850.1L1306.6999999999998 850.1A164.6 164.6 0 0 1 1112.0 1011.9Z" fill="#aac0d6"/>
<path d="M1142.1 850.1L1112.0 1011.9A164.6 164.6 0 1 1 1306.6999999999998 850.1Z" fill="#e4a5a5"/>
<circle cx="1142.1" cy="850.1" r="164.6" fill="none" stroke="#0a0606" stroke-width="4.2"/>
<path d="M1306.6999999999998 850.1L1142.1 850.1L1112.0 1011.9" fill="none" stroke="#0a0606" stroke-width="4.2" stroke-linejoin="miter"/>
<path d="M1064.5 678L1083.1 745.5" stroke="#0a0606" stroke-width="2.6"/>
<text x="1020.0" y="670.7">NANOG binding genes</text>
<text x="1069.5" y="821.0">1,306</text>
<text x="1178.5" y="931.6">506</text>
<text x="1337.8" y="629.5" font-size="35.50" font-weight="bold">d</text>
<text x="1405.0" y="632.3">Nascent RNA</text>
<text x="1615.0" y="632.3">Total RNA</text>
<rect x="1388.9" y="641.8" width="191.9" height="5.6" fill="#a8221f"/>
<rect x="1580.8" y="641.8" width="192" height="5.6" fill="#0a0505"/>
<path d="M1388.9 654.8H1485.2M1388.9 743.8H1485.2M1580.8 683.8H1676.5M1580.8 684.8H1676.5M1580.8 698.8H1676.5M1580.8 705.8H1676.5M1580.8 706.8H1676.5M1580.8 803.8H1676.5M1676.5 748.8H1772.6M1676.5 790.8H1772.6M1676.5 800.8H1772.6M1676.5 813.8H1772.6M1676.5 824.8H1772.6" stroke="#edbdbd" stroke-width="1.05"/>
<path d="M1388.9 655.8H1485.2M1388.9 744.8H1485.2M1388.9 745.8H1485.2M1485.2 654.8H1580.8M1676.5 705.8H1772.6M1676.5 730.8H1772.6M1676.5 827.8H1772.6" stroke="#e7b7b7" stroke-width="1.05"/>
<path d="M1388.9 656.8H1485.2M1580.8 682.8H1676.5M1580.8 708.8H1676.5M1580.8 827.8H1676.5M1676.5 709.8H1772.6M1676.5 787.8H1772.6M1676.5 792.8H1772.6M1676.5 801.8H1772.6M1676.5 815.8H1772.6" stroke="#e1a5a5" stroke-width="1.05"/>
<path d="M1388.9 657.8H1485.2M1580.8 693.8H1676.5M1580.8 699.8H1676.5M1580.8 704.8H1676.5M1580.8 724.8H1676.5M1676.5 691.8H1772.6M1676.5 719.8H1772.6M1676.5 726.8H1772.6M1676.5 742.8H1772.6M1676.5 816.8H1772.6" stroke="#e19f9f" stroke-width="1.05"/>
<path d="M1388.9 658.8H1485.2M1485.2 673.8H1580.8M1485.2 830.8H1580.8M1485.2 854.8H1580.8M1485.2 860.8H1580.8M1485.2 876.8H1580.8M1485.2 878.8H1580.8M1485.2 884.8H1580.8M1485.2 968.8H1580.8M1580.8 660.8H1676.5M1580.8 801.8H1676.5M1580.8 815.8H1676.5M1580.8 829.8H1676.5M1580.8 885.8H1676.5M1676.5 755.8H1772.6M1676.5 767.8H1772.6M1676.5 778.8H1772.6" stroke="#f3f3f9" stroke-width="1.05"/>
<path d="M1388.9 659.8H1485.2M1388.9 661.8H1485.2M1388.9 851.8H1485.2M1388.9 957.8H1485.2M1580.8 840.8H1676.5M1580.8 858.8H1676.5M1580.8 865.8H1676.5M1580.8 974.8H1676.5M1580.8 996.8H1676.5M1676.5 948.8H1772.6M1676.5 950.8H1772.6M1676.5 969.8H1772.6M1676.5 970.8H1772.6M1676.5 977.8H1772.6M1676.5 980.8H1772.6M1676.5 987.8H1772.6M1676.5 990.8H1772.6M1676.5 994.8H1772.6M1676.5 996.8H1772.6M1676.5 1000.8H1772.6M1676.5 1003.8H1772.6M1676.5 1006.8H1772.6M1676.5 1009.8H1772.6" stroke="#212d75" stroke-width="1.05"/>
<path d="M1388.9 660.8H1485.2M1388.9 670.8H1485.2M1388.9 825.8H1485.2M1388.9 898.8H1485.2M1388.9 981.8H1485.2M1580.8 863.8H1676.5M1580.8 872.8H1676.5M1580.8 874.8H1676.5M1580.8 875.8H1676.5M1580.8 877.8H1676.5M1580.8 881.8H1676.5M1676.5 915.8H1772.6M1676.5 916.8H1772.6M1676.5 919.8H1772.6M1676.5 952.8H1772.6M1676.5 993.8H1772.6M1676.5 1010.8H1772.6" stroke="#27337b" stroke-width="1.05"/>
<path d="M1388.9 662.8H1485.2M1388.9 679.8H1485.2M1388.9 708.8H1485.2M1388.9 737.8H1485.2M1388.9 860.8H1485.2M1388.9 884.8H1485.2M1388.9 963.8H1485.2M1388.9 970.8H1485.2M1388.9 997.8H1485.2M1388.9 1004.8H1485.2M1388.9 1005.8H1485.2M1388.9 1009.8H1485.2M1676.5 975.8H1772.6M1676.5 978.8H1772.6M1676.5 979.8H1772.6M1676.5 982.8H1772.6M1676.5 995.8H1772.6M1676.5 1004.8H1772.6" stroke="#273381" stroke-width="1.05"/>
<path d="M1388.9 663.8H1485.2M1388.9 671.8H1485.2M1388.9 680.8H1485.2M1388.9 698.8H1485.2M1388.9 768.8H1485.2M1388.9 785.8H1485.2M1388.9 817.8H1485.2M1388.9 827.8H1485.2M1388.9 842.8H1485.2M1388.9 875.8H1485.2M1388.9 876.8H1485.2M1388.9 904.8H1485.2M1388.9 916.8H1485.2M1388.9 919.8H1485.2M1388.9 930.8H1485.2M1388.9 977.8H1485.2M1388.9 980.8H1485.2M1388.9 992.8H1485.2M1388.9 995.8H1485.2M1485.2 734.8H1580.8M1485.2 889.8H1580.8M1485.2 924.8H1580.8M1485.2 967.8H1580.8M1580.8 751.8H1676.5M1580.8 783.8H1676.5M1580.8 838.8H1676.5M1580.8 850.8H1676.5M1676.5 853.8H1772.6M1676.5 926.8H1772.6M1676.5 938.8H1772.6" stroke="#394593" stroke-width="1.05"/>
<path d="M1388.9 664.8H1485.2M1388.9 812.8H1485.2M1388.9 813.8H1485.2M1388.9 826.8H1485.2M1388.9 837.8H1485.2M1388.9 917.8H1485.2M1388.9 976.8H1485.2M1388.9 1006.8H1485.2M1388.9 1008.8H1485.2M1388.9 1010.8H1485.2M1485.2 661.8H1580.8M1485.2 959.8H1580.8M1485.2 960.8H1580.8M1485.2 965.8H1580.8M1580.8 743.8H1676.5M1580.8 744.8H1676.5M1580.8 830.8H1676.5M1676.5 921.8H1772.6M1676.5 934.8H1772.6M1676.5 942.8H1772.6M1676.5 974.8H1772.6M1676.5 988.8H1772.6M1676.5 1011.5H1772.6" stroke="#2d3987" stroke-width="1.05"/>
<path d="M1388.9 665.8H1485.2M1388.9 669.8H1485.2M1388.9 673.8H1485.2M1388.9 734.8H1485.2M1388.9 753.8H1485.2M1388.9 773.8H1485.2M1388.9 779.8H1485.2M1388.9 780.8H1485.2M1388.9 792.8H1485.2M1388.9 809.8H1485.2M1388.9 823.8H1485.2M1388.9 846.8H1485.2M1388.9 920.8H1485.2M1388.9 921.8H1485.2M1388.9 951.8H1485.2M1388.9 978.8H1485.2M1388.9 993.8H1485.2M1485.2 663.8H1580.8M1485.2 726.8H1580.8M1485.2 735.8H1580.8M1485.2 740.8H1580.8M1485.2 885.8H1580.8M1485.2 902.8H1580.8M1485.2 922.8H1580.8M1485.2 1005.8H1580.8M1485.2 1008.8H1580.8M1580.8 766.8H1676.5M1580.8 900.8H1676.5M1676.5 898.8H1772.6M1676.5 907.8H1772.6M1676.5 939.8H1772.6M1676.5 946.8H1772.6M1676.5 949.8H1772.6" stroke="#575da5" stroke-width="1.05"/>
<path d="M1388.9 666.8H1485.2M1485.2 659.8H1580.8M1485.2 709.8H1580.8M1485.2 712.8H1580.8M1485.2 736.8H1580.8M1485.2 942.8H1580.8M1580.8 851.8H1676.5M1580.8 855.8H1676.5M1580.8 930.8H1676.5M1676.5 852.8H1772.6M1676.5 893.8H1772.6" stroke="#696fab" stroke-width="1.05"/>
<path d="M1388.9 667.8H1485.2M1388.9 759.8H1485.2M1485.2 670.8H1580.8M1485.2 674.8H1580.8M1485.2 776.8H1580.8M1485.2 777.8H1580.8M1485.2 807.8H1580.8M1485.2 840.8H1580.8M1485.2 857.8H1580.8M1485.2 950.8H1580.8M1485.2 998.8H1580.8M1580.8 759.8H1676.5M1580.8 909.8H1676.5M1580.8 950.8H1676.5M1676.5 871.8H1772.6M1676.5 873.8H1772.6M1676.5 930.8H1772.6" stroke="#b7b7db" stroke-width="1.05"/>
<path d="M1388.9 668.8H1485.2M1388.9 685.8H1485.2M1388.9 788.8H1485.2M1485.2 821.8H1580.8M1485.2 905.8H1580.8M1485.2 935.8H1580.8M1580.8 949.8H1676.5M1676.5 861.8H1772.6M1676.5 945.8H1772.6" stroke="#878dc3" stroke-width="1.05"/>
<path d="M1388.9 672.8H1485.2M1388.9 689.8H1485.2M1388.9 696.8H1485.2M1388.9 713.8H1485.2M1388.9 714.8H1485.2M1388.9 760.8H1485.2M1388.9 857.8H1485.2M1388.9 865.8H1485.2M1388.9 868.8H1485.2M1388.9 882.8H1485.2M1388.9 908.8H1485.2M1388.9 914.8H1485.2M1485.2 692.8H1580.8M1485.2 701.8H1580.8M1485.2 704.8H1580.8M1485.2 729.8H1580.8M1485.2 886.8H1580.8M1485.2 904.8H1580.8M1485.2 954.8H1580.8M1580.8 756.8H1676.5M1580.8 768.8H1676.5M1580.8 779.8H1676.5M1580.8 852.8H1676.5M1580.8 929.8H1676.5M1676.5 891.8H1772.6M1676.5 904.8H1772.6M1676.5 924.8H1772.6" stroke="#6f75b1" stroke-width="1.05"/>
<path d="M1388.9 674.8H1485.2M1388.9 843.8H1485.2M1388.9 862.8H1485.2M1388.9 870.8H1485.2M1388.9 939.8H1485.2M1485.2 693.8H1580.8M1485.2 893.8H1580.8M1580.8 772.8H1676.5M1580.8 832.8H1676.5M1580.8 938.8H1676.5" stroke="#696fb1" stroke-width="1.05"/>
<path d="M1388.9 675.8H1485.2M1388.9 687.8H1485.2M1388.9 716.8H1485.2M1388.9 717.8H1485.2M1388.9 770.8H1485.2M1388.9 803.8H1485.2M1388.9 810.8H1485.2M1388.9 871.8H1485.2M1485.2 695.8H1580.8M1485.2 705.8H1580.8M1485.2 754.8H1580.8M1485.2 820.8H1580.8M1485.2 908.8H1580.8M1485.2 909.8H1580.8M1485.2 911.8H1580.8M1485.2 918.8H1580.8M1485.2 933.8H1580.8M1485.2 934.8H1580.8M1485.2 948.8H1580.8M1580.8 770.8H1676.5M1580.8 839.8H1676.5M1676.5 856.8H1772.6M1676.5 905.8H1772.6" stroke="#7b81b7" stroke-width="1.05"/>
<path d="M1388.9 676.8H1485.2M1388.9 684.8H1485.2M1388.9 702.8H1485.2M1388.9 704.8H1485.2M1388.9 707.8H1485.2M1388.9 724.8H1485.2M1388.9 733.8H1485.2M1388.9 781.8H1485.2M1388.9 791.8H1485.2M1388.9 800.8H1485.2M1388.9 801.8H1485.2M1388.9 833.8H1485.2M1388.9 835.8H1485.2M1388.9 975.8H1485.2M1485.2 711.8H1580.8M1485.2 717.8H1580.8M1485.2 722.8H1580.8M1485.2 798.8H1580.8M1485.2 813.8H1580.8M1485.2 907.8H1580.8M1485.2 928.8H1580.8M1580.8 774.8H1676.5M1676.5 892.8H1772.6" stroke="#757bb7" stroke-width="1.05"/>
<path d="M1388.9 677.8H1485.2M1388.9 725.8H1485.2M1388.9 740.8H1485.2M1388.9 830.8H1485.2M1388.9 864.8H1485.2M1388.9 910.8H1485.2M1485.2 730.8H1580.8M1485.2 732.8H1580.8M1485.2 784.8H1580.8M1485.2 894.8H1580.8M1485.2 896.8H1580.8M1485.2 913.8H1580.8M1580.8 934.8H1676.5M1676.5 838.8H1772.6M1676.5 859.8H1772.6M1676.5 867.8H1772.6M1676.5 869.8H1772.6M1676.5 901.8H1772.6" stroke="#7b7bb7" stroke-width="1.05"/>
<path d="M1388.9 678.8H1485.2M1388.9 697.8H1485.2M1388.9 731.8H1485.2M1388.9 764.8H1485.2M1388.9 776.8H1485.2M1388.9 782.8H1485.2M1388.9 816.8H1485.2M1388.9 834.8H1485.2M1388.9 863.8H1485.2M1388.9 873.8H1485.2M1388.9 879.8H1485.2M1388.9 897.8H1485.2M1388.9 936.8H1485.2M1388.9 971.8H1485.2M1388.9 991.8H1485.2M1485.2 682.8H1580.8M1485.2 725.8H1580.8M1485.2 783.8H1580.8M1485.2 805.8H1580.8M1485.2 825.8H1580.8M1485.2 932.8H1580.8M1485.2 943.8H1580.8M1580.8 755.8H1676.5M1580.8 777.8H1676.5M1580.8 919.8H1676.5M1580.8 920.8H1676.5M1580.8 921.8H1676.5M1580.8 924.8H1676.5M1580.8 939.8H1676.5M1580.8 963.8H1676.5M1676.5 895.8H1772.6M1676.5 899.8H1772.6M1676.5 927.8H1772.6" stroke="#6369ab" stroke-width="1.05"/>
<path d="M1388.9 681.8H1485.2M1388.9 695.8H1485.2M1388.9 701.8H1485.2M1388.9 703.8H1485.2M1388.9 718.8H1485.2M1388.9 720.8H1485.2M1388.9 727.8H1485.2M1388.9 730.8H1485.2M1388.9 758.8H1485.2M1388.9 798.8H1485.2M1388.9 806.8H1485.2M1388.9 808.8H1485.2M1388.9 838.8H1485.2M1388.9 847.8H1485.2M1388.9 888.8H1485.2M1388.9 889.8H1485.2M1388.9 923.8H1485.2M1388.9 974.8H1485.2M1388.9 988.8H1485.2M1388.9 990.8H1485.2M1485.2 733.8H1580.8M1485.2 737.8H1580.8M1485.2 810.8H1580.8M1485.2 962.8H1580.8M1485.2 1004.8H1580.8M1485.2 1006.8H1580.8M1485.2 1007.8H1580.8M1580.8 761.8H1676.5M1580.8 854.8H1676.5M1580.8 923.8H1676.5M1676.5 855.8H1772.6M1676.5 880.8H1772.6M1676.5 897.8H1772.6M1676.5 941.8H1772.6" stroke="#5d63a5" stroke-width="1.05"/>
<path d="M1388.9 682.8H1485.2M1388.9 729.8H1485.2M1388.9 811.8H1485.2M1388.9 906.8H1485.2M1388.9 922.8H1485.2M1388.9 947.8H1485.2M1388.9 968.8H1485.2M1485.2 660.8H1580.8M1485.2 664.8H1580.8M1485.2 696.8H1580.8M1485.2 957.8H1580.8M1580.8 752.8H1676.5M1580.8 986.8H1676.5" stroke="#393f8d" stroke-width="1.05"/>
<path d="M1388.9 683.8H1485.2M1388.9 692.8H1485.2M1388.9 721.8H1485.2M1388.9 772.8H1485.2M1388.9 794.8H1485.2M1388.9 804.8H1485.2M1388.9 887.8H1485.2M1485.2 683.8H1580.8M1485.2 1010.8H1580.8M1580.8 769.8H1676.5M1676.5 842.8H1772.6M1676.5 884.8H1772.6M1676.5 887.8H1772.6M1676.5 900.8H1772.6M1676.5 925.8H1772.6" stroke="#6969ab" stroke-width="1.05"/>
<path d="M1388.9 686.8H1485.2M1388.9 736.8H1485.2M1388.9 790.8H1485.2M1388.9 894.8H1485.2M1485.2 694.8H1580.8M1485.2 710.8H1580.8M1485.2 720.8H1580.8M1485.2 724.8H1580.8M1485.2 768.8H1580.8M1485.2 809.8H1580.8M1485.2 916.8H1580.8M1485.2 949.8H1580.8M1485.2 963.8H1580.8M1580.8 757.8H1676.5M1580.8 760.8H1676.5M1580.8 817.8H1676.5M1580.8 894.8H1676.5M1676.5 923.8H1772.6" stroke="#8787bd" stroke-width="1.05"/>
<path d="M1388.9 688.8H1485.2M1388.9 752.8H1485.2M1388.9 841.8H1485.2M1388.9 872.8H1485.2M1388.9 892.8H1485.2M1388.9 899.8H1485.2M1388.9 900.8H1485.2M1388.9 925.8H1485.2M1388.9 934.8H1485.2M1388.9 972.8H1485.2M1388.9 982.8H1485.2M1388.9 989.8H1485.2M1388.9 994.8H1485.2M1485.2 691.8H1580.8M1485.2 940.8H1580.8M1485.2 972.8H1580.8M1485.2 1011.5H1580.8M1580.8 946.8H1676.5M1676.5 889.8H1772.6M1676.5 928.8H1772.6M1676.5 933.8H1772.6M1676.5 951.8H1772.6" stroke="#454b99" stroke-width="1.05"/>
<path d="M1388.9 690.8H1485.2M1388.9 694.8H1485.2M1388.9 723.8H1485.2M1388.9 771.8H1485.2M1388.9 774.8H1485.2M1388.9 874.8H1485.2M1388.9 877.8H1485.2M1388.9 905.8H1485.2M1388.9 940.8H1485.2M1485.2 681.8H1580.8M1485.2 708.8H1580.8M1485.2 938.8H1580.8M1485.2 945.8H1580.8M1485.2 951.8H1580.8M1580.8 780.8H1676.5M1580.8 904.8H1676.5M1580.8 915.8H1676.5M1676.5 845.8H1772.6" stroke="#8187bd" stroke-width="1.05"/>
<path d="M1388.9 691.8H1485.2M1388.9 693.8H1485.2M1388.9 741.8H1485.2M1388.9 761.8H1485.2M1388.9 777.8H1485.2M1388.9 778.8H1485.2M1388.9 840.8H1485.2M1388.9 854.8H1485.2M1388.9 878.8H1485.2M1485.2 686.8H1580.8M1485.2 688.8H1580.8M1485.2 741.8H1580.8M1580.8 753.8H1676.5M1676.5 906.8H1772.6M1676.5 944.8H1772.6" stroke="#455199" stroke-width="1.05"/>
<path d="M1388.9 699.8H1485.2M1388.9 728.8H1485.2M1388.9 849.8H1485.2M1485.2 671.8H1580.8M1485.2 706.8H1580.8M1485.2 815.8H1580.8M1485.2 870.8H1580.8M1485.2 883.8H1580.8M1485.2 892.8H1580.8M1485.2 982.8H1580.8M1485.2 985.8H1580.8M1580.8 960.8H1676.5M1580.8 962.8H1676.5M1676.5 763.8H1772.6M1676.5 841.8H1772.6M1676.5 849.8H1772.6M1676.5 875.8H1772.6M1676.5 966.8H1772.6" stroke="#9f9fcf" stroke-width="1.05"/>
<path d="M1388.9 700.8H1485.2M1388.9 844.8H1485.2M1388.9 861.8H1485.2M1388.9 999.8H1485.2M1485.2 669.8H1580.8M1485.2 690.8H1580.8M1485.2 702.8H1580.8M1485.2 738.8H1580.8M1485.2 767.8H1580.8M1485.2 873.8H1580.8M1485.2 971.8H1580.8M1580.8 765.8H1676.5M1580.8 926.8H1676.5M1676.5 846.8H1772.6M1676.5 866.8H1772.6" stroke="#8d93c3" stroke-width="1.05"/>
<path d="M1388.9 705.8H1485.2M1388.9 732.8H1485.2M1388.9 783.8H1485.2M1388.9 815.8H1485.2M1388.9 866.8H1485.2M1388.9 890.8H1485.2M1485.2 713.8H1580.8M1485.2 891.8H1580.8M1485.2 915.8H1580.8M1485.2 946.8H1580.8M1580.8 845.8H1676.5M1580.8 952.8H1676.5M1676.5 903.8H1772.6" stroke="#6f6fb1" stroke-width="1.05"/>
<path d="M1388.9 706.8H1485.2M1388.9 763.8H1485.2M1485.2 715.8H1580.8M1485.2 769.8H1580.8M1485.2 800.8H1580.8M1485.2 818.8H1580.8M1485.2 822.8H1580.8M1580.8 917.8H1676.5M1676.5 844.8H1772.6M1676.5 865.8H1772.6M1676.5 894.8H1772.6" stroke="#9999c9" stroke-width="1.05"/>
<path d="M1388.9 709.8H1485.2M1388.9 751.8H1485.2M1388.9 756.8H1485.2M1388.9 820.8H1485.2M1388.9 858.8H1485.2M1388.9 886.8H1485.2M1388.9 901.8H1485.2M1388.9 903.8H1485.2M1388.9 938.8H1485.2M1388.9 948.8H1485.2M1388.9 979.8H1485.2M1485.2 687.8H1580.8M1485.2 689.8H1580.8M1485.2 697.8H1580.8M1485.2 698.8H1580.8M1485.2 761.8H1580.8M1485.2 799.8H1580.8M1485.2 944.8H1580.8M1485.2 973.8H1580.8M1485.2 983.8H1580.8M1580.8 767.8H1676.5M1580.8 775.8H1676.5M1580.8 778.8H1676.5M1580.8 844.8H1676.5M1580.8 944.8H1676.5M1676.5 922.8H1772.6M1676.5 943.8H1772.6" stroke="#51579f" stroke-width="1.05"/>
<path d="M1388.9 710.8H1485.2M1388.9 754.8H1485.2M1388.9 765.8H1485.2M1388.9 853.8H1485.2M1388.9 895.8H1485.2M1388.9 942.8H1485.2M1388.9 950.8H1485.2M1485.2 684.8H1580.8M1485.2 700.8H1580.8M1485.2 714.8H1580.8M1485.2 812.8H1580.8M1485.2 887.8H1580.8M1485.2 897.8H1580.8M1485.2 901.8H1580.8M1485.2 917.8H1580.8M1485.2 929.8H1580.8M1485.2 970.8H1580.8M1580.8 764.8H1676.5M1580.8 834.8H1676.5M1580.8 916.8H1676.5M1580.8 965.8H1676.5M1676.5 881.8H1772.6M1676.5 883.8H1772.6M1676.5 885.8H1772.6" stroke="#8181bd" stroke-width="1.05"/>
<path d="M1388.9 711.8H1485.2M1388.9 739.8H1485.2M1388.9 932.8H1485.2M1485.2 814.8H1580.8M1485.2 969.8H1580.8M1485.2 995.8H1580.8M1676.5 864.8H1772.6M1676.5 910.8H1772.6" stroke="#999fc9" stroke-width="1.05"/>
<path d="M1388.9 712.8H1485.2M1485.2 872.8H1580.8M1485.2 874.8H1580.8M1485.2 910.8H1580.8M1485.2 999.8H1580.8M1580.8 937.8H1676.5M1580.8 945.8H1676.5M1676.5 857.8H1772.6M1676.5 964.8H1772.6M1676.5 965.8H1772.6" stroke="#c9c9e7" stroke-width="1.05"/>
<path d="M1388.9 715.8H1485.2M1485.2 869.8H1580.8M1676.5 896.8H1772.6" stroke="#9fa5cf" stroke-width="1.05"/>
<path d="M1388.9 719.8H1485.2M1388.9 821.8H1485.2M1580.8 943.8H1676.5" stroke="#515d9f" stroke-width="1.05"/>
<path d="M1388.9 722.8H1485.2M1388.9 726.8H1485.2M1388.9 795.8H1485.2M1388.9 807.8H1485.2M1388.9 831.8H1485.2M1388.9 832.8H1485.2M1485.2 667.8H1580.8M1485.2 930.8H1580.8M1580.8 843.8H1676.5" stroke="#4b579f" stroke-width="1.05"/>
<path d="M1388.9 735.8H1485.2M1485.2 718.8H1580.8M1485.2 772.8H1580.8M1485.2 786.8H1580.8M1676.5 814.8H1772.6" stroke="#bdc3e1" stroke-width="1.05"/>
<path d="M1388.9 738.8H1485.2M1388.9 845.8H1485.2M1485.2 788.8H1580.8M1485.2 829.8H1580.8M1485.2 923.8H1580.8M1485.2 981.8H1580.8M1485.2 987.8H1580.8M1485.2 997.8H1580.8M1580.8 848.8H1676.5M1676.5 860.8H1772.6" stroke="#9393c3" stroke-width="1.05"/>
<path d="M1388.9 742.8H1485.2M1485.2 656.8H1580.8M1580.8 689.8H1676.5M1580.8 690.8H1676.5M1580.8 692.8H1676.5M1580.8 709.8H1676.5M1580.8 788.8H1676.5M1580.8 791.8H1676.5M1580.8 806.8H1676.5M1580.8 808.8H1676.5M1676.5 687.8H1772.6M1676.5 760.8H1772.6M1676.5 791.8H1772.6M1676.5 821.8H1772.6M1676.5 829.8H1772.6" stroke="#f3d5d5" stroke-width="1.05"/>
<path d="M1388.9 746.8H1485.2M1485.2 658.8H1580.8M1580.8 685.8H1676.5M1676.5 780.8H1772.6M1676.5 781.8H1772.6" stroke="#edc3c3" stroke-width="1.05"/>
<path d="M1388.9 747.8H1485.2M1485.2 835.8H1580.8M1485.2 879.8H1580.8M1485.2 882.8H1580.8M1580.8 674.8H1676.5M1580.8 675.8H1676.5M1580.8 807.8H1676.5M1580.8 816.8H1676.5M1580.8 823.8H1676.5M1580.8 899.8H1676.5M1580.8 954.8H1676.5M1676.5 663.8H1772.6M1676.5 699.8H1772.6M1676.5 754.8H1772.6M1676.5 759.8H1772.6M1676.5 762.8H1772.6" stroke="#f9e7e7" stroke-width="1.05"/>
<path d="M1388.9 748.8H1485.2M1388.9 749.8H1485.2M1485.2 880.8H1580.8M1580.8 662.8H1676.5M1580.8 678.8H1676.5M1580.8 790.8H1676.5M1580.8 818.8H1676.5M1580.8 955.8H1676.5M1676.5 802.8H1772.6M1676.5 817.8H1772.6" stroke="#f3e1e1" stroke-width="1.05"/>
<path d="M1388.9 750.8H1485.2M1580.8 655.8H1676.5M1580.8 688.8H1676.5M1580.8 696.8H1676.5M1580.8 795.8H1676.5M1676.5 697.8H1772.6M1676.5 735.8H1772.6M1676.5 798.8H1772.6M1676.5 811.8H1772.6" stroke="#edc9c9" stroke-width="1.05"/>
<path d="M1388.9 755.8H1485.2M1388.9 814.8H1485.2M1485.2 665.8H1580.8M1485.2 903.8H1580.8M1485.2 964.8H1580.8M1580.8 847.8H1676.5M1580.8 942.8H1676.5" stroke="#3f4593" stroke-width="1.05"/>
<path d="M1388.9 757.8H1485.2M1388.9 973.8H1485.2M1388.9 996.8H1485.2M1388.9 1000.8H1485.2M1676.5 999.8H1772.6M1676.5 1007.8H1772.6" stroke="#2d3981" stroke-width="1.05"/>
<path d="M1388.9 762.8H1485.2M1388.9 784.8H1485.2M1388.9 913.8H1485.2M1485.2 676.8H1580.8M1485.2 699.8H1580.8M1485.2 703.8H1580.8M1485.2 728.8H1580.8M1485.2 763.8H1580.8M1485.2 764.8H1580.8M1485.2 778.8H1580.8M1485.2 793.8H1580.8M1485.2 817.8H1580.8M1485.2 824.8H1580.8M1485.2 920.8H1580.8M1485.2 937.8H1580.8M1580.8 758.8H1676.5M1580.8 784.8H1676.5M1580.8 836.8H1676.5M1580.8 846.8H1676.5M1580.8 856.8H1676.5M1580.8 941.8H1676.5M1580.8 947.8H1676.5M1676.5 847.8H1772.6M1676.5 862.8H1772.6M1676.5 863.8H1772.6M1676.5 882.8H1772.6" stroke="#8d8dc3" stroke-width="1.05"/>
<path d="M1388.9 766.8H1485.2" stroke="#5d63ab" stroke-width="1.05"/>
<path d="M1388.9 767.8H1485.2M1388.9 805.8H1485.2M1388.9 819.8H1485.2M1388.9 829.8H1485.2M1388.9 850.8H1485.2M1388.9 926.8H1485.2" stroke="#333987" stroke-width="1.05"/>
<path d="M1388.9 769.8H1485.2M1388.9 998.8H1485.2M1485.2 984.8H1580.8M1580.8 940.8H1676.5" stroke="#7575b7" stroke-width="1.05"/>
<path d="M1388.9 775.8H1485.2" stroke="#39458d" stroke-width="1.05"/>
<path d="M1388.9 786.8H1485.2M1388.9 883.8H1485.2M1388.9 907.8H1485.2M1485.2 685.8H1580.8" stroke="#3f4b93" stroke-width="1.05"/>
<path d="M1388.9 787.8H1485.2M1388.9 797.8H1485.2M1388.9 909.8H1485.2M1388.9 941.8H1485.2M1388.9 943.8H1485.2M1485.2 898.8H1580.8M1485.2 899.8H1580.8M1485.2 926.8H1580.8M1485.2 936.8H1580.8M1485.2 986.8H1580.8M1485.2 991.8H1580.8M1580.8 771.8H1676.5M1580.8 918.8H1676.5M1676.5 854.8H1772.6M1676.5 902.8H1772.6M1676.5 914.8H1772.6" stroke="#7575b1" stroke-width="1.05"/>
<path d="M1388.9 789.8H1485.2M1485.2 668.8H1580.8M1485.2 792.8H1580.8M1485.2 804.8H1580.8M1485.2 823.8H1580.8M1485.2 863.8H1580.8M1485.2 871.8H1580.8M1485.2 980.8H1580.8M1485.2 990.8H1580.8M1580.8 747.8H1676.5M1580.8 763.8H1676.5M1580.8 905.8H1676.5M1580.8 910.8H1676.5M1580.8 1001.8H1676.5" stroke="#c3c3e1" stroke-width="1.05"/>
<path d="M1388.9 793.8H1485.2M1388.9 867.8H1485.2M1388.9 869.8H1485.2M1388.9 893.8H1485.2M1388.9 928.8H1485.2M1388.9 954.8H1485.2M1485.2 719.8H1580.8M1485.2 721.8H1580.8M1485.2 811.8H1580.8M1485.2 927.8H1580.8M1485.2 931.8H1580.8M1580.8 833.8H1676.5M1580.8 932.8H1676.5" stroke="#6363ab" stroke-width="1.05"/>
<path d="M1388.9 796.8H1485.2M1388.9 856.8H1485.2M1388.9 881.8H1485.2M1388.9 933.8H1485.2M1388.9 986.8H1485.2M1485.2 787.8H1580.8M1485.2 900.8H1580.8M1485.2 921.8H1580.8M1485.2 939.8H1580.8M1485.2 996.8H1580.8M1676.5 936.8H1772.6" stroke="#4b519f" stroke-width="1.05"/>
<path d="M1388.9 799.8H1485.2M1388.9 802.8H1485.2M1388.9 915.8H1485.2M1388.9 955.8H1485.2M1388.9 959.8H1485.2M1388.9 960.8H1485.2M1388.9 962.8H1485.2M1388.9 964.8H1485.2M1388.9 984.8H1485.2M1388.9 985.8H1485.2M1485.2 955.8H1580.8M1485.2 1003.8H1580.8M1580.8 862.8H1676.5M1580.8 868.8H1676.5M1580.8 988.8H1676.5M1580.8 990.8H1676.5M1580.8 991.8H1676.5M1580.8 992.8H1676.5M1580.8 994.8H1676.5M1580.8 995.8H1676.5M1580.8 999.8H1676.5M1580.8 1006.8H1676.5M1580.8 1010.8H1676.5M1676.5 929.8H1772.6M1676.5 973.8H1772.6M1676.5 983.8H1772.6M1676.5 984.8H1772.6M1676.5 986.8H1772.6" stroke="#212d69" stroke-width="1.05"/>
<path d="M1388.9 818.8H1485.2M1388.9 937.8H1485.2M1388.9 969.8H1485.2M1388.9 1007.8H1485.2" stroke="#333f87" stroke-width="1.05"/>
<path d="M1388.9 822.8H1485.2" stroke="#212d7b" stroke-width="1.05"/>
<path d="M1388.9 824.8H1485.2M1388.9 902.8H1485.2M1388.9 946.8H1485.2M1676.5 947.8H1772.6" stroke="#575d9f" stroke-width="1.05"/>
<path d="M1388.9 828.8H1485.2" stroke="#2d3381" stroke-width="1.05"/>
<path d="M1388.9 836.8H1485.2M1388.9 848.8H1485.2M1388.9 880.8H1485.2M1388.9 952.8H1485.2M1485.2 941.8H1580.8M1485.2 956.8H1580.8M1485.2 966.8H1580.8M1485.2 1009.8H1580.8M1580.8 773.8H1676.5M1580.8 831.8H1676.5M1676.5 868.8H1772.6M1676.5 918.8H1772.6M1676.5 935.8H1772.6" stroke="#4b5199" stroke-width="1.05"/>
<path d="M1388.9 839.8H1485.2M1388.9 949.8H1485.2M1485.2 794.8H1580.8M1485.2 806.8H1580.8M1485.2 838.8H1580.8M1485.2 890.8H1580.8M1485.2 906.8H1580.8M1485.2 925.8H1580.8M1580.8 948.8H1676.5M1676.5 912.8H1772.6" stroke="#9393c9" stroke-width="1.05"/>
<path d="M1388.9 852.8H1485.2M1388.9 983.8H1485.2M1388.9 987.8H1485.2M1580.8 864.8H1676.5M1580.8 869.8H1676.5M1580.8 876.8H1676.5M1676.5 971.8H1772.6M1676.5 981.8H1772.6M1676.5 989.8H1772.6M1676.5 991.8H1772.6M1676.5 1008.8H1772.6" stroke="#21337b" stroke-width="1.05"/>
<path d="M1388.9 855.8H1485.2M1388.9 956.8H1485.2M1388.9 958.8H1485.2M1388.9 1003.8H1485.2M1580.8 742.8H1676.5M1580.8 860.8H1676.5M1580.8 866.8H1676.5M1580.8 867.8H1676.5M1580.8 873.8H1676.5M1580.8 979.8H1676.5M1580.8 993.8H1676.5M1580.8 998.8H1676.5M1580.8 1011.5H1676.5M1676.5 931.8H1772.6M1676.5 976.8H1772.6M1676.5 992.8H1772.6M1676.5 997.8H1772.6M1676.5 998.8H1772.6M1676.5 1005.8H1772.6" stroke="#212d6f" stroke-width="1.05"/>
<path d="M1388.9 859.8H1485.2M1388.9 891.8H1485.2M1388.9 918.8H1485.2M1388.9 924.8H1485.2M1388.9 927.8H1485.2M1485.2 952.8H1580.8M1485.2 953.8H1580.8M1485.2 961.8H1580.8M1580.8 754.8H1676.5M1580.8 782.8H1676.5M1580.8 837.8H1676.5M1580.8 842.8H1676.5M1580.8 870.8H1676.5M1676.5 917.8H1772.6M1676.5 932.8H1772.6" stroke="#333f8d" stroke-width="1.05"/>
<path d="M1388.9 885.8H1485.2M1485.2 716.8H1580.8M1485.2 739.8H1580.8M1485.2 773.8H1580.8M1485.2 782.8H1580.8M1485.2 791.8H1580.8M1485.2 828.8H1580.8M1580.8 776.8H1676.5M1580.8 853.8H1676.5M1676.5 908.8H1772.6M1676.5 940.8H1772.6" stroke="#9399c9" stroke-width="1.05"/>
<path d="M1388.9 896.8H1485.2M1388.9 912.8H1485.2M1485.2 816.8H1580.8M1485.2 819.8H1580.8M1580.8 659.8H1676.5M1580.8 835.8H1676.5M1676.5 848.8H1772.6M1676.5 850.8H1772.6" stroke="#a5a5cf" stroke-width="1.05"/>
<path d="M1388.9 911.8H1485.2M1485.2 675.8H1580.8M1485.2 751.8H1580.8M1485.2 779.8H1580.8M1485.2 850.8H1580.8M1580.8 927.8H1676.5M1580.8 1002.8H1676.5M1676.5 913.8H1772.6" stroke="#c9c9e1" stroke-width="1.05"/>
<path d="M1388.9 929.8H1485.2M1388.9 961.8H1485.2M1388.9 965.8H1485.2M1388.9 966.8H1485.2M1388.9 967.8H1485.2M1388.9 1011.5H1485.2M1580.8 859.8H1676.5M1580.8 861.8H1676.5M1580.8 871.8H1676.5M1580.8 878.8H1676.5M1580.8 879.8H1676.5M1580.8 880.8H1676.5M1580.8 970.8H1676.5M1580.8 971.8H1676.5M1580.8 972.8H1676.5M1580.8 973.8H1676.5M1580.8 975.8H1676.5M1580.8 976.8H1676.5M1580.8 977.8H1676.5M1580.8 978.8H1676.5M1580.8 980.8H1676.5M1580.8 981.8H1676.5M1580.8 982.8H1676.5M1580.8 983.8H1676.5M1580.8 984.8H1676.5M1580.8 985.8H1676.5M1580.8 987.8H1676.5M1580.8 989.8H1676.5M1580.8 997.8H1676.5M1580.8 1000.8H1676.5M1580.8 1003.8H1676.5M1580.8 1004.8H1676.5M1580.8 1005.8H1676.5M1580.8 1007.8H1676.5M1580.8 1008.8H1676.5M1580.8 1009.8H1676.5M1676.5 920.8H1772.6M1676.5 937.8H1772.6M1676.5 968.8H1772.6M1676.5 972.8H1772.6M1676.5 985.8H1772.6" stroke="#212d63" stroke-width="1.05"/>
<path d="M1388.9 931.8H1485.2M1485.2 678.8H1580.8M1485.2 781.8H1580.8M1485.2 796.8H1580.8M1485.2 827.8H1580.8M1485.2 831.8H1580.8M1485.2 851.8H1580.8M1485.2 867.8H1580.8M1485.2 979.8H1580.8M1580.8 805.8H1676.5M1580.8 810.8H1676.5M1580.8 882.8H1676.5M1580.8 902.8H1676.5M1580.8 906.8H1676.5M1676.5 775.8H1772.6" stroke="#dbdbed" stroke-width="1.05"/>
<path d="M1388.9 935.8H1485.2M1485.2 790.8H1580.8M1485.2 802.8H1580.8M1485.2 803.8H1580.8M1485.2 808.8H1580.8M1485.2 852.8H1580.8M1485.2 862.8H1580.8M1485.2 866.8H1580.8M1580.8 749.8H1676.5M1580.8 884.8H1676.5M1580.8 886.8H1676.5M1580.8 888.8H1676.5M1580.8 893.8H1676.5M1580.8 896.8H1676.5M1580.8 901.8H1676.5M1580.8 912.8H1676.5M1676.5 961.8H1772.6" stroke="#d5d5e7" stroke-width="1.05"/>
<path d="M1388.9 944.8H1485.2M1388.9 945.8H1485.2M1485.2 662.8H1580.8M1485.2 666.8H1580.8M1485.2 762.8H1580.8M1485.2 958.8H1580.8M1580.8 841.8H1676.5M1580.8 922.8H1676.5" stroke="#3f4b99" stroke-width="1.05"/>
<path d="M1388.9 953.8H1485.2M1485.2 727.8H1580.8M1676.5 851.8H1772.6" stroke="#878dbd" stroke-width="1.05"/>
<path d="M1388.9 1001.8H1485.2M1580.8 700.8H1676.5M1580.8 702.8H1676.5M1580.8 726.8H1676.5M1580.8 734.8H1676.5M1676.5 702.8H1772.6M1676.5 715.8H1772.6M1676.5 728.8H1772.6M1676.5 733.8H1772.6M1676.5 736.8H1772.6M1676.5 738.8H1772.6M1676.5 746.8H1772.6M1676.5 786.8H1772.6M1676.5 796.8H1772.6" stroke="#db9393" stroke-width="1.05"/>
<path d="M1388.9 1002.8H1485.2M1485.2 770.8H1580.8M1485.2 888.8H1580.8M1485.2 994.8H1580.8M1580.8 746.8H1676.5M1580.8 750.8H1676.5M1580.8 951.8H1676.5M1676.5 870.8H1772.6M1676.5 872.8H1772.6M1676.5 876.8H1772.6M1676.5 878.8H1772.6" stroke="#cfcfe7" stroke-width="1.05"/>
<path d="M1485.2 655.8H1580.8M1580.8 785.8H1676.5M1580.8 789.8H1676.5M1580.8 800.8H1676.5M1580.8 814.8H1676.5M1676.5 729.8H1772.6M1676.5 774.8H1772.6M1676.5 794.8H1772.6M1676.5 822.8H1772.6" stroke="#f3dbdb" stroke-width="1.05"/>
<path d="M1485.2 657.8H1580.8M1580.8 677.8H1676.5M1580.8 680.8H1676.5M1580.8 707.8H1676.5M1580.8 792.8H1676.5M1580.8 797.8H1676.5M1580.8 819.8H1676.5M1676.5 684.8H1772.6M1676.5 685.8H1772.6M1676.5 686.8H1772.6M1676.5 690.8H1772.6M1676.5 692.8H1772.6M1676.5 808.8H1772.6M1676.5 812.8H1772.6" stroke="#f3cfcf" stroke-width="1.05"/>
<path d="M1485.2 672.8H1580.8M1485.2 755.8H1580.8M1485.2 757.8H1580.8M1485.2 760.8H1580.8M1485.2 845.8H1580.8M1485.2 855.8H1580.8M1580.8 745.8H1676.5M1580.8 804.8H1676.5M1580.8 822.8H1676.5M1580.8 908.8H1676.5M1580.8 936.8H1676.5M1580.8 966.8H1676.5M1676.5 751.8H1772.6M1676.5 757.8H1772.6M1676.5 758.8H1772.6M1676.5 771.8H1772.6M1676.5 772.8H1772.6M1676.5 879.8H1772.6M1676.5 954.8H1772.6M1676.5 962.8H1772.6" stroke="#e7e7f3" stroke-width="1.05"/>
<path d="M1485.2 677.8H1580.8M1580.8 793.8H1676.5M1676.5 840.8H1772.6M1676.5 911.8H1772.6" stroke="#a5abcf" stroke-width="1.05"/>
<path d="M1485.2 679.8H1580.8M1485.2 780.8H1580.8M1485.2 795.8H1580.8M1485.2 846.8H1580.8M1485.2 847.8H1580.8M1485.2 848.8H1580.8M1485.2 861.8H1580.8M1485.2 988.8H1580.8M1580.8 821.8H1676.5M1580.8 892.8H1676.5M1580.8 968.8H1676.5M1676.5 688.8H1772.6M1676.5 830.8H1772.6M1676.5 837.8H1772.6M1676.5 953.8H1772.6" stroke="#e1e1ed" stroke-width="1.05"/>
<path d="M1485.2 680.8H1580.8M1485.2 1000.8H1580.8M1580.8 931.8H1676.5" stroke="#5d5da5" stroke-width="1.05"/>
<path d="M1485.2 707.8H1580.8" stroke="#9f9fc9" stroke-width="1.05"/>
<path d="M1485.2 723.8H1580.8M1485.2 826.8H1580.8M1485.2 833.8H1580.8M1485.2 841.8H1580.8M1485.2 842.8H1580.8M1485.2 843.8H1580.8M1580.8 889.8H1676.5M1580.8 903.8H1676.5M1580.8 935.8H1676.5M1676.5 836.8H1772.6M1676.5 858.8H1772.6M1676.5 1002.8H1772.6" stroke="#bdbddb" stroke-width="1.05"/>
<path d="M1485.2 731.8H1580.8M1485.2 837.8H1580.8M1580.8 849.8H1676.5" stroke="#b1b7db" stroke-width="1.05"/>
<path d="M1485.2 742.8H1580.8M1580.8 654.8H1676.5M1580.8 668.8H1676.5M1580.8 721.8H1676.5M1580.8 737.8H1676.5M1676.5 665.8H1772.6M1676.5 710.8H1772.6M1676.5 745.8H1772.6" stroke="#c96363" stroke-width="1.05"/>
<path d="M1485.2 743.8H1580.8M1580.8 665.8H1676.5M1580.8 728.8H1676.5M1676.5 669.8H1772.6" stroke="#c95757" stroke-width="1.05"/>
<path d="M1485.2 744.8H1580.8M1580.8 703.8H1676.5M1580.8 722.8H1676.5M1580.8 729.8H1676.5" stroke="#d57575" stroke-width="1.05"/>
<path d="M1485.2 745.8H1580.8M1580.8 681.8H1676.5M1676.5 694.8H1772.6M1676.5 716.8H1772.6M1676.5 724.8H1772.6M1676.5 737.8H1772.6M1676.5 783.8H1772.6M1676.5 788.8H1772.6M1676.5 797.8H1772.6" stroke="#e7abab" stroke-width="1.05"/>
<path d="M1485.2 746.8H1580.8M1580.8 716.8H1676.5M1580.8 730.8H1676.5M1676.5 703.8H1772.6M1676.5 714.8H1772.6M1676.5 717.8H1772.6M1676.5 727.8H1772.6M1676.5 789.8H1772.6" stroke="#d57b7b" stroke-width="1.05"/>
<path d="M1485.2 747.8H1580.8M1485.2 750.8H1580.8M1580.8 719.8H1676.5M1580.8 731.8H1676.5M1580.8 740.8H1676.5M1580.8 741.8H1676.5M1676.5 713.8H1772.6M1676.5 743.8H1772.6M1676.5 749.8H1772.6" stroke="#d58181" stroke-width="1.05"/>
<path d="M1485.2 748.8H1580.8M1580.8 694.8H1676.5M1580.8 738.8H1676.5M1676.5 654.8H1772.6M1676.5 704.8H1772.6M1676.5 707.8H1772.6M1676.5 718.8H1772.6M1676.5 722.8H1772.6M1676.5 785.8H1772.6" stroke="#db8787" stroke-width="1.05"/>
<path d="M1485.2 749.8H1580.8M1580.8 697.8H1676.5M1580.8 733.8H1676.5M1676.5 721.8H1772.6M1676.5 731.8H1772.6M1676.5 732.8H1772.6M1676.5 740.8H1772.6" stroke="#db8d8d" stroke-width="1.05"/>
<path d="M1485.2 752.8H1580.8M1485.2 759.8H1580.8M1485.2 836.8H1580.8M1580.8 664.8H1676.5M1580.8 811.8H1676.5M1676.5 683.8H1772.6" stroke="#fff9f9" stroke-width="1.05"/>
<path d="M1485.2 753.8H1580.8M1676.5 828.8H1772.6M1676.5 956.8H1772.6" stroke="#fff9ff" stroke-width="1.05"/>
<path d="M1485.2 756.8H1580.8M1485.2 758.8H1580.8M1485.2 801.8H1580.8M1485.2 858.8H1580.8M1485.2 868.8H1580.8M1580.8 787.8H1676.5M1580.8 820.8H1676.5M1580.8 895.8H1676.5M1580.8 911.8H1676.5M1580.8 913.8H1676.5M1676.5 960.8H1772.6" stroke="#ededf3" stroke-width="1.05"/>
<path d="M1485.2 765.8H1580.8M1485.2 797.8H1580.8M1485.2 912.8H1580.8M1485.2 976.8H1580.8M1485.2 1001.8H1580.8M1485.2 1002.8H1580.8M1580.8 883.8H1676.5M1676.5 967.8H1772.6" stroke="#b1b1d5" stroke-width="1.05"/>
<path d="M1485.2 766.8H1580.8M1485.2 834.8H1580.8M1485.2 993.8H1580.8M1580.8 961.8H1676.5M1676.5 877.8H1772.6" stroke="#e1e1f3" stroke-width="1.05"/>
<path d="M1485.2 771.8H1580.8M1485.2 853.8H1580.8M1580.8 661.8H1676.5M1580.8 672.8H1676.5M1580.8 786.8H1676.5M1580.8 798.8H1676.5M1580.8 802.8H1676.5M1580.8 825.8H1676.5M1580.8 928.8H1676.5M1580.8 958.8H1676.5M1676.5 660.8H1772.6M1676.5 753.8H1772.6M1676.5 756.8H1772.6M1676.5 768.8H1772.6M1676.5 777.8H1772.6M1676.5 809.8H1772.6M1676.5 874.8H1772.6M1676.5 955.8H1772.6" stroke="#f9f3f3" stroke-width="1.05"/>
<path d="M1485.2 774.8H1580.8M1485.2 832.8H1580.8M1485.2 856.8H1580.8M1676.5 793.8H1772.6M1676.5 1001.8H1772.6" stroke="#c3c9e1" stroke-width="1.05"/>
<path d="M1485.2 775.8H1580.8M1485.2 919.8H1580.8M1485.2 947.8H1580.8M1485.2 975.8H1580.8M1485.2 977.8H1580.8M1580.8 897.8H1676.5M1580.8 925.8H1676.5M1580.8 933.8H1676.5M1580.8 964.8H1676.5M1676.5 886.8H1772.6M1676.5 888.8H1772.6M1676.5 890.8H1772.6" stroke="#ababd5" stroke-width="1.05"/>
<path d="M1485.2 785.8H1580.8M1580.8 781.8H1676.5M1676.5 843.8H1772.6" stroke="#abb1d5" stroke-width="1.05"/>
<path d="M1485.2 789.8H1580.8M1485.2 839.8H1580.8M1485.2 864.8H1580.8M1485.2 877.8H1580.8M1580.8 679.8H1676.5M1580.8 890.8H1676.5M1580.8 957.8H1676.5M1676.5 659.8H1772.6M1676.5 696.8H1772.6M1676.5 764.8H1772.6M1676.5 957.8H1772.6" stroke="#f9f3f9" stroke-width="1.05"/>
<path d="M1485.2 844.8H1580.8M1580.8 799.8H1676.5M1580.8 887.8H1676.5" stroke="#d5d5ed" stroke-width="1.05"/>
<path d="M1485.2 849.8H1580.8M1580.8 969.8H1676.5M1676.5 769.8H1772.6" stroke="#f3edf9" stroke-width="1.05"/>
<path d="M1485.2 859.8H1580.8M1485.2 895.8H1580.8M1485.2 974.8H1580.8M1580.8 748.8H1676.5" stroke="#bdbde1" stroke-width="1.05"/>
<path d="M1485.2 865.8H1580.8M1485.2 989.8H1580.8M1580.8 828.8H1676.5M1676.5 963.8H1772.6" stroke="#ede7f3" stroke-width="1.05"/>
<path d="M1485.2 875.8H1580.8M1676.5 835.8H1772.6" stroke="#b1b7d5" stroke-width="1.05"/>
<path d="M1485.2 881.8H1580.8M1485.2 914.8H1580.8M1485.2 978.8H1580.8M1580.8 813.8H1676.5M1580.8 891.8H1676.5M1580.8 956.8H1676.5M1580.8 959.8H1676.5M1676.5 661.8H1772.6M1676.5 664.8H1772.6M1676.5 761.8H1772.6M1676.5 766.8H1772.6M1676.5 773.8H1772.6M1676.5 776.8H1772.6M1676.5 810.8H1772.6M1676.5 825.8H1772.6M1676.5 831.8H1772.6M1676.5 832.8H1772.6M1676.5 839.8H1772.6M1676.5 958.8H1772.6M1676.5 959.8H1772.6" stroke="#f9f9f9" stroke-width="1.05"/>
<path d="M1485.2 992.8H1580.8M1580.8 794.8H1676.5M1580.8 907.8H1676.5M1676.5 779.8H1772.6" stroke="#e7e1f3" stroke-width="1.05"/>
<path d="M1580.8 656.8H1676.5M1580.8 717.8H1676.5M1580.8 735.8H1676.5M1676.5 720.8H1772.6" stroke="#cf7575" stroke-width="1.05"/>
<path d="M1580.8 657.8H1676.5M1580.8 725.8H1676.5M1580.8 736.8H1676.5M1676.5 656.8H1772.6M1676.5 741.8H1772.6" stroke="#c35151" stroke-width="1.05"/>
<path d="M1580.8 658.8H1676.5M1580.8 666.8H1676.5M1580.8 671.8H1676.5M1580.8 710.8H1676.5M1580.8 718.8H1676.5M1676.5 671.8H1772.6" stroke="#c34b4b" stroke-width="1.05"/>
<path d="M1580.8 663.8H1676.5M1580.8 812.8H1676.5M1580.8 898.8H1676.5M1676.5 834.8H1772.6" stroke="#f9edf3" stroke-width="1.05"/>
<path d="M1580.8 667.8H1676.5M1580.8 669.8H1676.5M1580.8 711.8H1676.5" stroke="#c95d5d" stroke-width="1.05"/>
<path d="M1580.8 670.8H1676.5M1580.8 712.8H1676.5M1676.5 658.8H1772.6M1676.5 668.8H1772.6M1676.5 672.8H1772.6M1676.5 673.8H1772.6M1676.5 675.8H1772.6M1676.5 679.8H1772.6" stroke="#bd3f3f" stroke-width="1.05"/>
<path d="M1580.8 673.8H1676.5M1580.8 687.8H1676.5M1676.5 706.8H1772.6" stroke="#f3c9c9" stroke-width="1.05"/>
<path d="M1580.8 676.8H1676.5M1580.8 695.8H1676.5M1580.8 723.8H1676.5M1580.8 727.8H1676.5M1580.8 739.8H1676.5M1580.8 809.8H1676.5M1676.5 655.8H1772.6M1676.5 750.8H1772.6M1676.5 784.8H1772.6" stroke="#e19999" stroke-width="1.05"/>
<path d="M1580.8 686.8H1676.5M1676.5 693.8H1772.6M1676.5 695.8H1772.6M1676.5 701.8H1772.6M1676.5 723.8H1772.6M1676.5 734.8H1772.6M1676.5 765.8H1772.6M1676.5 782.8H1772.6M1676.5 795.8H1772.6M1676.5 803.8H1772.6M1676.5 804.8H1772.6M1676.5 806.8H1772.6M1676.5 820.8H1772.6M1676.5 826.8H1772.6" stroke="#e7b1b1" stroke-width="1.05"/>
<path d="M1580.8 691.8H1676.5M1580.8 826.8H1676.5M1676.5 662.8H1772.6M1676.5 747.8H1772.6" stroke="#f9e1e1" stroke-width="1.05"/>
<path d="M1580.8 701.8H1676.5M1676.5 823.8H1772.6" stroke="#edb7b7" stroke-width="1.05"/>
<path d="M1580.8 713.8H1676.5M1580.8 714.8H1676.5" stroke="#c35757" stroke-width="1.05"/>
<path d="M1580.8 715.8H1676.5M1676.5 666.8H1772.6" stroke="#bd4545" stroke-width="1.05"/>
<path d="M1580.8 720.8H1676.5M1676.5 677.8H1772.6M1676.5 680.8H1772.6" stroke="#b73333" stroke-width="1.05"/>
<path d="M1580.8 732.8H1676.5M1676.5 739.8H1772.6" stroke="#cf6f6f" stroke-width="1.05"/>
<path d="M1580.8 762.8H1676.5M1580.8 914.8H1676.5" stroke="#c9cfe7" stroke-width="1.05"/>
<path d="M1580.8 796.8H1676.5M1580.8 967.8H1676.5M1676.5 752.8H1772.6M1676.5 819.8H1772.6" stroke="#ededf9" stroke-width="1.05"/>
<path d="M1580.8 824.8H1676.5M1580.8 953.8H1676.5M1676.5 689.8H1772.6M1676.5 698.8H1772.6M1676.5 770.8H1772.6M1676.5 805.8H1772.6M1676.5 818.8H1772.6M1676.5 833.8H1772.6" stroke="#f9eded" stroke-width="1.05"/>
<path d="M1580.8 857.8H1676.5M1676.5 909.8H1772.6" stroke="#b7bddb" stroke-width="1.05"/>
<path d="M1676.5 657.8H1772.6M1676.5 676.8H1772.6" stroke="#b12727" stroke-width="1.05"/>
<path d="M1676.5 667.8H1772.6" stroke="#b12d2d" stroke-width="1.05"/>
<path d="M1676.5 670.8H1772.6M1676.5 678.8H1772.6" stroke="#c34545" stroke-width="1.05"/>
<path d="M1676.5 674.8H1772.6M1676.5 681.8H1772.6" stroke="#b73939" stroke-width="1.05"/>
<path d="M1676.5 682.8H1772.6" stroke="#b73339" stroke-width="1.05"/>
<path d="M1676.5 700.8H1772.6M1676.5 708.8H1772.6M1676.5 711.8H1772.6M1676.5 712.8H1772.6" stroke="#cf6969" stroke-width="1.05"/>
<path d="M1676.5 725.8H1772.6" stroke="#e7a5a5" stroke-width="1.05"/>
<path d="M1676.5 744.8H1772.6" stroke="#d58787" stroke-width="1.05"/>
<path d="M1676.5 799.8H1772.6" stroke="#f9f9ff" stroke-width="1.05"/>
<path d="M1676.5 807.8H1772.6" stroke="#f9e1e7" stroke-width="1.05"/>
<path d="M1389 656.2H1387.4V657.1H1389M1389 655H1385V656.6H1387.4M1389 658.1H1388.3V659H1389M1385 655.8H1383.6V658.6H1388.3M1389 659.9H1387.7V660.7H1389M1387.7 660.3H1386.1V661.4H1389M1389 664.1H1386.9V665.1H1389M1389 662.7H1384.4V664.6H1386.9M1389 666.3H1387.2V667.5H1389M1384.4 663.6H1382.8V666.9H1387.2M1386.1 660.9H1380.3V665.3H1382.8M1389 668.3H1387.6V669.1H1389M1389 671.5H1387.4V672.6H1389M1389 670.3H1385.6V672H1387.4M1387.6 668.7H1383.6V671.2H1385.6M1389 673.6H1388.2V674.4H1389M1388.2 674H1386.1V675.6H1389M1389 678.2H1388.4V679.2H1389M1389 676.9H1386.7V678.7H1388.4M1389 680.1H1387.6V681.1H1389M1386.7 677.8H1384.8V680.6H1387.6M1386.1 674.8H1383V679.2H1384.8M1383.6 669.9H1381.2V677H1383M1389 682.1H1387.4V683.1H1389M1387.4 682.6H1385.5V684H1389M1389 685.3H1387.3V686.8H1389M1389 688.1H1387.5V689.3H1389M1387.3 686H1385.1V688.7H1387.5M1385.5 683.3H1382.1V687.4H1385.1M1381.2 673.5H1378V685.3H1382.1M1389 690.7H1387.6V692H1389M1387.6 691.3H1385.7V693.5H1389M1389 695.9H1388V696.8H1389M1389 694.8H1386.9V696.3H1388M1385.7 692.4H1383.2V695.6H1386.9M1389 697.6H1387.6V698.6H1389M1389 699.9H1386.9V701.2H1389M1387.6 698.1H1384.7V700.6H1386.9M1389 703.7H1387.7V704.7H1389M1389 702.4H1385.6V704.2H1387.7M1385.6 703.3H1383.6V705.8H1389M1384.7 699.3H1380.8V704.5H1383.6M1383.2 694H1378V701.9H1380.8M1389 708H1387.4V709H1389M1389 707H1386.5V708.5H1387.4M1389 710.9H1387.9V711.9H1389M1389 710H1386.8V711.4H1387.9M1389 713H1387.2V714.3H1389M1386.8 710.7H1385.1V713.7H1387.2M1386.5 707.7H1382.7V712.2H1385.1M1378 698H1378V710H1382.7M1389 715.7H1387.9V716.8H1389M1389 717.9H1387.1V719.2H1389M1387.9 716.2H1385.1V718.6H1387.1M1389 720.3H1387.3V721.4H1389M1385.1 717.4H1382.5V720.8H1387.3M1389 723.8H1387.5V724.9H1389M1389 722.7H1386V724.4H1387.5M1389 727.3H1387.7V728.2H1389M1389 726.3H1385.8V727.8H1387.7M1385.8 727H1383.8V729.4H1389M1386 723.5H1381.4V728.2H1383.8M1382.5 719.1H1378V725.9H1381.4M1389 730.6H1387.7V731.4H1389M1387.7 731H1386.8V732.3H1389M1386.8 731.6H1384.2V733.3H1389M1389 734.3H1387.7V735.2H1389M1384.2 732.5H1382.4V734.7H1387.7M1389 736.4H1387.5V737.4H1389M1387.5 736.9H1386.2V738.3H1389M1389 739.2H1387.6V740.2H1389M1387.6 739.7H1386.7V741.4H1389M1386.2 737.6H1384.2V740.6H1386.7M1382.4 733.6H1380.4V739.1H1384.2M1378 722.5H1378V736.3H1380.4M1378 679.4H1376V704H1378M1376 691.7H1374V729.4H1378M1380.3 663.1H1372.5V710.5H1374M1389 742.7H1387.6V743.8H1389M1389 744.5H1387.8V745.4H1389M1387.8 744.9H1385.8V746.2H1389M1387.6 743.3H1383.5V745.6H1385.8M1389 747.1H1387.8V748.1H1389M1389 749H1387.4V750H1389M1387.4 749.5H1385.6V751.2H1389M1387.8 747.6H1383.3V750.4H1385.6M1383.5 744.4H1380.8V749H1383.3M1372.5 686.8H1369.8V746.7H1380.8M1383.6 657.2H1367.3V716.8H1369.8M1389 753.8H1388.2V754.9H1389M1389 752.4H1386.7V754.4H1388.2M1389 757.1H1387.9V758H1389M1387.9 757.5H1385.8V759.4H1389M1389 756H1384.4V758.5H1385.8M1386.7 753.4H1382.5V757.2H1384.4M1389 760.5H1387.6V761.6H1389M1389 762.8H1387.3V763.9H1389M1387.6 761.1H1385.8V763.4H1387.3M1382.5 755.3H1379.8V762.2H1385.8M1389 764.9H1387.4V766H1389M1389 768.6H1387.8V769.5H1389M1389 767.4H1385.7V769.1H1387.8M1387.4 765.4H1383.9V768.2H1385.7M1379.8 758.8H1379V766.8H1383.9M1389 770.7H1387V771.8H1389M1389 772.6H1387.9V773.6H1389M1387 771.3H1384.8V773.1H1387.9M1389 774.9H1387.8V776.3H1389M1384.8 772.2H1382.5V775.6H1387.8M1389 778.8H1387.8V780H1389M1389 777.6H1386V779.4H1387.8M1389 782.3H1387.2V783.4H1389M1389 781.1H1385.8V782.9H1387.2M1386 778.5H1384V782H1385.8M1382.5 773.9H1379.3V780.2H1384M1389 784.5H1387.4V785.5H1389M1387.4 785H1386.1V786.5H1389M1389 787.5H1388.1V788.4H1389M1386.1 785.8H1384.3V787.9H1388.1M1389 789.3H1387.9V790.4H1389M1389 791.5H1387.9V792.5H1389M1387.9 789.8H1385.5V792H1387.9M1389 793.4H1387.8V794.5H1389M1385.5 790.9H1383.7V794H1387.8M1384.3 786.9H1381.3V792.4H1383.7M1379.3 777.1H1379V789.6H1381.3M1389 795.6H1387.6V796.7H1389M1387.6 796.2H1385.2V798.1H1389M1389 799.1H1387.7V800.2H1389M1385.2 797.2H1383.5V799.7H1387.7M1389 802.7H1387.6V803.9H1389M1389 801.6H1386.2V803.3H1387.6M1389 805.1H1387.6V806.3H1389M1386.2 802.5H1384.1V805.7H1387.6M1383.5 798.4H1380.3V804.1H1384.1M1379 783.3H1379V801.3H1380.3M1389 807.5H1387.6V808.3H1389M1387.6 807.9H1386.4V809.1H1389M1389 811.3H1388.4V812.1H1389M1389 810.2H1386.8V811.7H1388.4M1386.4 808.5H1384V810.9H1386.8M1389 813H1387.6V814.2H1389M1389 815H1388.3V815.9H1389M1387.6 813.6H1386.3V815.4H1388.3M1389 816.8H1387.6V817.8H1389M1386.3 814.5H1384.7V817.3H1387.6M1384 809.7H1381.9V815.9H1384.7M1389 818.8H1387.8V819.8H1389M1389 821.7H1387.7V822.5H1389M1389 820.9H1386.3V822.1H1387.7M1386.3 821.5H1384.5V823.7H1389M1387.8 819.3H1381.9V822.6H1384.5M1389 824.9H1387.5V826H1389M1389 827.1H1387.6V828.3H1389M1387.6 827.7H1385.6V829.8H1389M1387.5 825.5H1383.7V828.7H1385.6M1381.9 821H1380V827.1H1383.7M1381.9 812.8H1379V824H1380M1389 831H1387.4V832.2H1389M1387.4 831.6H1385.6V833.6H1389M1389 834.6H1387.7V835.4H1389M1387.7 835H1386.9V836.4H1389M1389 837.5H1387.9V838.5H1389M1386.9 835.7H1385.1V838H1387.9M1385.6 832.6H1382.9V836.9H1385.1M1389 839.4H1387.5V840.3H1389M1389 841.4H1388.2V842.3H1389M1387.5 839.9H1385.7V841.8H1388.2M1389 843.4H1387.5V844.6H1389M1385.7 840.8H1383.5V844H1387.5M1382.9 834.7H1380V842.4H1383.5M1379 818.4H1379V838.6H1380M1389 846.7H1387.7V847.7H1389M1389 845.7H1386V847.2H1387.7M1389 849.7H1387.3V850.6H1389M1389 848.8H1385.4V850.2H1387.3M1389 851.8H1387.9V852.6H1389M1385.4 849.5H1384V852.2H1387.9M1386 846.4H1381.9V850.8H1384M1389 854.3H1387.6V855.2H1389M1389 853.4H1386.4V854.8H1387.6M1389 856.4H1387.3V857.7H1389M1389 858.5H1388V859.5H1389M1388 859H1385.8V860.8H1389M1387.3 857.1H1384.4V859.9H1385.8M1386.4 854.1H1381.3V858.5H1384.4M1381.9 848.6H1379V856.3H1381.3M1389 861.9H1387.4V863H1389M1389 865.1H1387.9V866H1389M1389 864H1386.5V865.5H1387.9M1387.4 862.5H1384.6V864.8H1386.5M1389 868.5H1387.5V869.6H1389M1389 867.1H1385.1V869.1H1387.5M1384.6 863.6H1381.8V868.1H1385.1M1389 870.7H1387.6V872.3H1389M1389 874.1H1387.4V874.9H1389M1389 873.4H1385.5V874.5H1387.4M1387.6 871.5H1383.7V874H1385.5M1381.8 865.9H1379V872.7H1383.7M1389 877H1387.4V877.9H1389M1389 876.1H1386.2V877.4H1387.4M1386.2 876.8H1384.9V879.1H1389M1389 880.4H1387.4V881.6H1389M1384.9 877.9H1381.8V881H1387.4M1379 869.3H1379V879.4H1381.8M1379 852.5H1379V874.4H1379M1389 882.3H1387.7V883.2H1389M1387.7 882.7H1386V884.2H1389M1389 885H1387.5V886.2H1389M1389 887.3H1387.3V888.2H1389M1387.5 885.6H1385.6V887.7H1387.3M1386 883.4H1383.2V886.7H1385.6M1389 889.2H1388V890.2H1389M1389 891.1H1388.1V892.1H1389M1388 889.7H1386.5V891.6H1388.1M1389 893H1388V893.9H1389M1388 893.5H1387.1V894.9H1389M1389 897H1388.1V898.1H1389M1389 896H1387V897.5H1388.1M1387.1 894.2H1384.9V896.8H1387M1386.5 890.7H1382.9V895.5H1384.9M1389 899.5H1387.4V900.7H1389M1389 901.5H1387.8V902.6H1389M1387.4 900.1H1385.6V902.1H1387.8M1382.9 893.1H1380.7V901.1H1385.6M1383.2 885.1H1379V897.1H1380.7M1389 905.2H1387.7V906.1H1389M1389 904H1386.8V905.6H1387.7M1389 908.2H1388.1V909.1H1389M1389 907.1H1387.1V908.6H1388.1M1386.8 904.8H1384.3V907.9H1387.1M1389 911H1387.5V912.2H1389M1389 910H1386.3V911.6H1387.5M1389 914.1H1388.2V915H1389M1389 913.4H1386.8V914.5H1388.2M1386.3 910.8H1384.2V914H1386.8M1389 916H1387.6V917.1H1389M1389 918.2H1387.1V919.3H1389M1387.6 916.5H1384.8V918.8H1387.1M1384.2 912.4H1380.8V917.6H1384.8M1384.3 906.3H1379V915H1380.8M1379 891.1H1379V910.7H1379M1389 920.5H1387.4V921.4H1389M1389 922.3H1388.1V923.4H1389M1387.4 921H1385.5V922.9H1388.1M1389 926.1H1387.9V927H1389M1389 924.7H1386V926.5H1387.9M1385.5 921.9H1382.8V925.6H1386M1389 928.1H1387.7V929.4H1389M1389 930.6H1388.3V931.7H1389M1387.7 928.8H1386V931.2H1388.3M1382.8 923.8H1381.3V930H1386M1389 932.5H1387.7V933.5H1389M1387.7 933H1386.2V934.8H1389M1389 935.9H1387.3V936.8H1389M1387.3 936.4H1385.7V938H1389M1389 939H1388V939.9H1389M1385.7 937.2H1383.6V939.4H1388M1386.2 933.9H1380.5V938.3H1383.6M1381.3 926.9H1379V936.1H1380.5M1389 940.9H1387.8V941.9H1389M1389 942.9H1387.8V943.8H1389M1387.8 943.4H1385.6V944.9H1389M1387.8 941.4H1383.9V944.1H1385.6M1389 946.2H1387.2V947.4H1389M1383.9 942.8H1381.4V946.8H1387.2M1389 948.7H1387.3V950.2H1389M1389 951.4H1387.5V952.5H1389M1387.5 952H1386.5V953.7H1389M1389 954.7H1388V955.6H1389M1386.5 952.8H1384.5V955.2H1388M1387.3 949.4H1382.2V954H1384.5M1381.4 944.8H1379V951.7H1382.2M1379 931.5H1379V948.2H1379M1379 762.8H1377V792.3H1379M1377 777.5H1375.5V828.5H1379M1375.5 803H1374V863.4H1379M1374 833.2H1376V900.9H1379M1376 867H1375V939.9H1379M1389 956.7H1387V957.9H1389M1389 959.2H1387.2V960.3H1389M1387 957.3H1385.8V959.7H1387.2M1389 963.6H1388V964.4H1389M1389 962.6H1386.8V964H1388M1389 961.4H1385.1V963.3H1386.8M1389 965.2H1388.2V966.3H1389M1385.1 962.3H1382.1V965.8H1388.2M1385.8 958.5H1379.1V964H1382.1M1389 967.7H1387.4V969.1H1389M1387.4 968.4H1385.2V970.4H1389M1389 971.7H1387.1V973H1389M1387.1 972.4H1384.9V974.3H1389M1389 975.8H1387.3V977.3H1389M1384.9 973.4H1382.6V976.6H1387.3M1385.2 969.4H1379.3V975H1382.6M1379.1 961.3H1379V972.2H1379.3M1389 978.7H1387.5V979.8H1389M1389 980.9H1388.1V981.8H1389M1387.5 979.2H1385.5V981.3H1388.1M1389 982.5H1387.9V983.5H1389M1387.9 983H1385.7V984.6H1389M1389 987.2H1388.2V988H1389M1388.2 987.6H1386.5V988.8H1389M1389 985.9H1383.9V988.2H1386.5M1385.7 983.8H1381.7V987.1H1383.9M1385.5 980.3H1379V985.4H1381.7M1389 990.8H1387.6V991.8H1389M1389 989.8H1385.1V991.3H1387.6M1389 992.7H1387.9V993.7H1389M1387.9 993.2H1386V994.9H1389M1389 995.8H1388.1V996.6H1389M1386 994.1H1384.1V996.2H1388.1M1385.1 990.6H1381V995.1H1384.1M1389 999.7H1387.5V1000.6H1389M1389 998.9H1386.2V1000.2H1387.5M1389 997.8H1384.3V999.5H1386.2M1381 992.9H1379.1V998.7H1384.3M1379 982.9H1379V995.8H1379.1M1379 966.7H1376V989.3H1379M1375 903.5H1369.8V978H1376M1389 1001.2H1388.2V1002.1H1389M1388.2 1001.7H1386.7V1003.1H1389M1389 1004H1387.5V1005.3H1389M1389 1006.5H1387.3V1007.8H1389M1387.5 1004.7H1385.3V1007.2H1387.3M1389 1008.9H1388.3V1009.9H1389M1388.3 1009.4H1386.6V1011.1H1389M1385.3 1005.9H1383.1V1010.2H1386.6M1386.7 1002.4H1376V1008.1H1383.1M1369.8 940.7H1362.3V1005.2H1376M1367.3 687H1348.2V973H1362.3" fill="none" stroke="#0a0606" stroke-width="1.3"/>
<rect x="1777.4" y="654.3" width="7.4" height="5.3" fill="#ece3cf"/>
<rect x="1777.4" y="660.3" width="7.4" height="81.6" fill="#e0939f"/>
<rect x="1777.4" y="743.2" width="7.4" height="8.1" fill="#efbfb5"/>
<rect x="1777.4" y="752.4" width="7.4" height="248.5" fill="#6db3d3"/>
<rect x="1777.4" y="1001.4" width="7.4" height="1.2" fill="#84b58a"/>
<rect x="1777.4" y="1004.3" width="7.4" height="7.5" fill="#d6d1d9"/>
<text x="1792.2" y="659.0">Cluster V</text>
<text x="1792.2" y="699.0">Cluster II</text>
<text x="1792.2" y="752.3">Cluster III</text>
<text x="1792.2" y="838.3">Cluster I</text>
<text x="1792.2" y="1000.0">Cluster VI</text>
<text x="1792.2" y="1026.7">Cluster IV</text>
<text x="1410.0" y="1039.2">2 h</text>
<text x="1511.7" y="1039.2">4 h</text>
<text x="1608.3" y="1039.2">2 h</text>
<text x="1710.0" y="1039.2">4 h</text>
<defs><linearGradient id="cb" x1="0" y1="0" x2="0" y2="1"><stop offset="0.000" stop-color="#b02428"/><stop offset="0.083" stop-color="#ba3a3a"/><stop offset="0.167" stop-color="#c65656"/><stop offset="0.250" stop-color="#d47c7c"/><stop offset="0.333" stop-color="#e2a2a2"/><stop offset="0.417" stop-color="#f2d2d2"/><stop offset="0.500" stop-color="#fcfafc"/><stop offset="0.583" stop-color="#c6c7e2"/><stop offset="0.667" stop-color="#9294c6"/><stop offset="0.750" stop-color="#6468aa"/><stop offset="0.833" stop-color="#3c4694"/><stop offset="0.917" stop-color="#24307d"/><stop offset="1.000" stop-color="#1f2d60"/></linearGradient></defs>
<rect x="1912.3" y="790.2" width="15.7" height="125.4" fill="url(#cb)"/>
<text x="1935.4" y="813.3" font-size="24.30">1</text>
<text x="1933.7" y="855.4" font-size="24.30">0</text>
<text x="1933.7" y="896.7" font-size="24.30">-1</text>
<g transform="translate(1982.6 843.8) rotate(-90)"><text x="-109" y="0">Log<tspan font-size="16" dy="7.5">2</tspan><tspan dy="-7.5">(Fold Change)</tspan></text></g>
<text x="-0.5" y="1121.2" font-size="35.50" font-weight="bold">e</text>
<text x="541.4" y="1115.6" font-size="26.24">Biological Processes (Cluster II)</text>
<rect x="579.7" y="1138.1" width="314.3" height="27.4" fill="#9088c0"/>
<rect x="579.7" y="1169.1" width="104.3" height="27.2" fill="#9088c0"/>
<rect x="579.7" y="1199.6" width="92.3" height="27.4" fill="#9088c0"/>
<rect x="579.7" y="1230.4" width="91.7" height="26.8" fill="#9088c0"/>
<rect x="579.7" y="1261.1" width="86.1" height="26.9" fill="#9088c0"/>
<rect x="579.7" y="1291.3" width="86.1" height="27.4" fill="#9088c0"/>
<rect x="579.7" y="1322.1" width="83.6" height="27.4" fill="#9088c0"/>
<rect x="579.7" y="1352.9" width="82.8" height="27.1" fill="#9088c0"/>
<rect x="579.7" y="1383.1" width="82.8" height="27.4" fill="#9088c0"/>
<rect x="579.7" y="1413.8" width="82.2" height="27.2" fill="#9088c0"/>
<rect x="564.3" y="1134" width="345.7" height="312" fill="none" stroke="#0a0606" stroke-width="2.5"/>
<text x="188.8" y="1138.9" font-size="26.20">Regulation of transcription from</text>
<text x="206.3" y="1165.7" font-size="26.20">- RNA polymerase II promoter</text>
<text x="50.7" y="1193.0" font-size="26.20">Negative regulation of fat cell differentiation</text>
<text x="136.3" y="1219.9" font-size="26.20">Negative regulation of cell migration</text>
<text x="285.0" y="1251.0" font-size="26.20">Cartilage condensation</text>
<text x="393.0" y="1282.5" font-size="26.20">Cell migration</text>
<text x="266.1" y="1314.0" font-size="26.20">Cholesterol homeostasis</text>
<text x="61.9" y="1345.1" font-size="26.20">Somatic stem cell population maintenance</text>
<text x="254.4" y="1376.7" font-size="26.20">DNA biosynthetic process</text>
<text x="269.0" y="1408.2" font-size="26.20">Cell projection assembly</text>
<text x="349.2" y="1439.3" font-size="26.20">Spermatogenesis</text>
<text x="576.6" y="1471.6">0</text>
<text x="660.9" y="1471.6">2</text>
<text x="745.2" y="1471.6">4</text>
<text x="829.8" y="1471.6">6</text>
<text x="645.7" y="1504.0" font-style="italic">p</text>
<text x="661.0" y="1504.0" font-size="25.76">-value (-log</text>
<text x="791.8" y="1511.6" font-size="14.50">10</text>
<text x="810.9" y="1504.0">)</text>
<text x="1026.6" y="1120.3" font-size="35.50" font-weight="bold">f</text>
<text x="1374.5" y="1145.0" font-size="26.25">Chr 18: 11,017,698-11,120,446</text>
<path d="M1247 1206.4H1249V1204.4H1251V1206.4H1259V1205.4H1261V1206.4H1329V1189.9H1331V1206.4H1349V1205.4H1351V1206.4H1395V1201.4H1397V1198.4H1399V1206.4H1431V1205.4H1435V1206.4H1443V1205.9H1447V1206.4H1449V1205.4H1451V1205.9H1453V1206.4H1457V1204.9H1459V1205.4H1461V1206.4H1465V1203.4H1467V1205.4H1469V1204.4H1471V1205.4H1473V1206.4H1475V1201.9H1477V1202.9H1479V1203.4H1481V1204.9H1485V1206.4H1489V1205.9H1491V1204.9H1493V1202.9H1495V1206.4H1497V1203.4H1499V1206.4H1501V1204.9H1503V1206.4H1507V1200.9H1509V1201.4H1511V1206.4H1513V1204.4H1515V1203.9H1517V1206.4H1519V1204.9H1521V1204.4H1523V1206.4H1525V1205.4H1529V1204.9H1531V1203.9H1533V1204.4H1535V1206.4H1537V1204.9H1539V1205.9H1541V1206.4H1543V1203.9H1545V1206.4H1547V1200.9H1549V1204.4H1551V1206.4H1553V1205.9H1555V1206.4H1567V1204.9H1569V1206.4H1571V1205.9H1573V1204.9H1575V1203.4H1577V1203.9H1579V1203.4H1581V1206.4H1587V1203.9H1589V1205.4H1591V1206.4H1593V1201.9H1595V1202.9H1597V1205.9H1599V1200.4H1601V1205.4H1603V1202.9H1605V1206.4H1609V1205.9H1611V1206.4H1613V1203.9H1615V1206.4H1619V1204.9H1621V1205.4H1623V1202.9H1625V1206.4H1627V1201.4H1629V1206.4H1633V1200.9H1635V1205.4H1637V1200.4H1639V1204.4H1641V1206.4H1643V1205.9H1645V1206.4H1647V1204.9H1649V1199.4H1651V1204.9H1653V1206.4H1655V1203.4H1657V1206.4H1665V1204.9H1667V1202.9H1669V1205.4H1671V1206.4H1673V1204.4H1675V1206.4H1677V1193.4H1679V1205.4H1681V1206.4H1683V1204.9H1685V1203.9H1687V1205.4H1689V1205.9H1691V1206.4H1711V1204.9H1713V1206.4H1755V1205.4H1757V1206.4H1777V1204.4H1779V1206.4H1785V1204.4H1787V1206.4H1847V1204.4H1849V1206.4H1879V1204.9H1881V1206.4H1883V1206.4Z" fill="#111"/>
<path d="M1247 1254.2H1301V1251.7H1303V1254.2H1329V1235.2H1331V1254.2H1397V1247.2H1399V1254.2H1433V1253.7H1441V1251.7H1443V1248.7H1445V1253.2H1447V1246.7H1449V1252.7H1451V1252.2H1455V1251.2H1457V1252.2H1459V1251.7H1461V1249.7H1463V1252.2H1467V1249.7H1469V1238.7H1471V1243.2H1473V1244.2H1475V1252.2H1477V1248.7H1479V1252.2H1481V1249.7H1483V1252.2H1485V1252.7H1491V1245.2H1493V1249.2H1495V1248.7H1497V1252.2H1509V1244.2H1511V1252.2H1513V1250.2H1515V1242.2H1517V1252.2H1521V1251.7H1523V1252.2H1525V1243.7H1527V1252.2H1535V1248.7H1537V1245.2H1539V1250.7H1541V1245.7H1543V1243.2H1545V1252.2H1547V1248.7H1549V1252.2H1551V1243.2H1553V1251.2H1555V1250.7H1557V1247.2H1559V1249.7H1561V1252.2H1563V1242.7H1565V1248.2H1567V1250.2H1569V1247.2H1571V1251.7H1573V1252.2H1581V1244.2H1583V1249.2H1585V1249.7H1587V1252.2H1591V1249.2H1593V1247.7H1595V1243.2H1597V1246.2H1599V1244.2H1601V1243.2H1603V1245.7H1605V1252.2H1609V1243.2H1611V1246.7H1613V1252.2H1617V1250.7H1619V1242.2H1621V1248.2H1623V1248.7H1625V1243.2H1627V1252.2H1631V1247.2H1633V1242.2H1635V1252.2H1637V1248.2H1639V1249.2H1641V1252.7H1645V1246.2H1647V1251.7H1649V1252.7H1651V1252.2H1653V1251.2H1655V1252.2H1661V1247.2H1663V1246.7H1665V1247.7H1667V1248.2H1669V1243.7H1671V1250.7H1673V1252.2H1675V1245.2H1677V1252.2H1679V1253.2H1683V1249.7H1685V1253.2H1687V1254.2H1705V1251.7H1707V1254.2H1727V1250.7H1729V1254.2H1749V1252.7H1751V1254.2H1771V1252.7H1773V1254.2H1863V1250.7H1865V1254.2H1883V1254.2Z" fill="#626125"/>
<path d="M1247 1301.8H1247V1299.8H1249V1301.8H1257V1300.3H1259V1301.8H1307V1299.3H1309V1300.3H1311V1301.8H1329V1268.8H1331V1301.8H1355V1299.8H1357V1301.8H1397V1293.8H1399V1301.8H1429V1300.8H1439V1300.3H1443V1294.3H1445V1297.3H1447V1298.8H1449V1299.3H1453V1293.3H1455V1299.3H1457V1295.3H1459V1295.8H1461V1289.3H1463V1295.8H1465V1298.8H1467V1294.3H1469V1298.8H1471V1290.3H1473V1298.8H1475V1288.8H1477V1287.8H1481V1292.3H1483V1297.8H1485V1282.8H1487V1295.3H1489V1292.8H1491V1299.3H1493V1297.8H1495V1299.3H1499V1296.8H1501V1290.8H1503V1299.3H1507V1299.8H1511V1290.8H1513V1294.3H1515V1297.8H1517V1299.3H1519V1297.8H1523V1299.3H1525V1294.3H1527V1299.3H1529V1292.8H1531V1299.3H1533V1295.3H1535V1299.3H1541V1292.3H1543V1290.8H1545V1294.8H1547V1287.8H1549V1291.8H1551V1291.3H1553V1298.8H1557V1296.8H1559V1285.8H1561V1287.8H1563V1294.3H1565V1299.3H1567V1298.3H1569V1299.3H1571V1292.3H1573V1297.8H1575V1292.3H1577V1293.8H1579V1299.3H1583V1296.3H1585V1297.8H1587V1293.8H1589V1299.3H1591V1298.3H1593V1298.8H1595V1299.3H1597V1296.8H1599V1299.3H1607V1290.8H1609V1299.3H1611V1288.8H1613V1292.3H1615V1298.8H1619V1294.8H1623V1294.3H1625V1287.8H1627V1289.3H1629V1296.3H1631V1299.3H1635V1292.8H1637V1295.8H1639V1299.3H1645V1298.8H1647V1299.3H1651V1297.8H1653V1296.8H1655V1299.3H1659V1296.8H1661V1288.3H1665V1299.3H1669V1294.3H1671V1299.3H1675V1298.3H1677V1296.8H1679V1299.3H1687V1296.3H1689V1299.8H1691V1300.3H1693V1298.3H1695V1300.8H1697V1301.3H1701V1301.8H1721V1300.3H1723V1301.8H1745V1299.8H1747V1301.8H1839V1300.3H1841V1301.8H1883V1301.8Z" fill="#626125"/>
<path d="M1247 1349.3H1281V1347.3H1283V1347.8H1285V1349.3H1293V1347.3H1295V1349.3H1313V1347.3H1315V1346.8H1317V1349.3H1329V1328.3H1331V1349.3H1373V1346.8H1375V1349.3H1395V1347.8H1397V1336.3H1399V1338.3H1401V1349.3H1421V1347.8H1423V1349.3H1441V1348.8H1443V1347.8H1445V1347.3H1447V1348.3H1451V1346.8H1453V1347.8H1455V1347.3H1457V1346.8H1459V1346.3H1461V1343.3H1463V1346.3H1467V1347.3H1469V1345.8H1471V1347.3H1473V1335.8H1475V1346.3H1477V1347.3H1481V1345.8H1483V1334.3H1485V1345.3H1487V1341.8H1489V1346.8H1495V1347.3H1501V1343.3H1503V1342.3H1505V1347.3H1507V1342.8H1509V1336.3H1511V1345.3H1513V1346.8H1515V1347.3H1517V1338.3H1519V1347.3H1523V1345.8H1525V1347.3H1529V1343.3H1531V1345.8H1533V1340.8H1535V1347.3H1539V1344.3H1541V1339.8H1543V1347.3H1545V1346.3H1547V1344.8H1549V1343.3H1551V1341.8H1553V1347.3H1563V1338.3H1565V1345.8H1567V1346.8H1569V1347.3H1573V1341.8H1575V1346.3H1577V1342.8H1579V1341.3H1581V1344.8H1583V1346.3H1585V1347.3H1587V1339.3H1589V1344.8H1591V1347.3H1595V1346.3H1597V1339.8H1599V1346.8H1601V1347.3H1603V1337.3H1605V1339.8H1607V1346.8H1609V1346.3H1611V1346.8H1615V1340.3H1617V1347.3H1619V1338.3H1621V1341.3H1623V1347.3H1631V1343.8H1633V1347.3H1635V1343.8H1637V1347.3H1639V1346.8H1641V1343.3H1643V1347.3H1645V1345.3H1647V1343.3H1649V1340.3H1651V1338.3H1653V1346.3H1655V1345.3H1657V1347.3H1663V1344.8H1665V1338.8H1667V1347.3H1669V1343.3H1671V1347.3H1675V1338.3H1677V1346.3H1679V1344.8H1681V1347.3H1687V1345.3H1689V1344.3H1691V1347.8H1693V1339.8H1695V1345.3H1697V1346.8H1699V1346.3H1701V1347.8H1703V1348.8H1705V1349.3H1765V1347.8H1767V1349.3H1809V1348.3H1811V1349.3H1841V1348.3H1843V1349.3H1883V1349.3Z" fill="#626125"/>
<path d="M1247 1396.7H1255V1394.7H1257V1396.7H1281V1394.2H1283V1396.7H1285V1395.2H1287V1396.7H1329V1358.7H1331V1396.7H1351V1393.2H1353V1396.7H1365V1394.2H1367V1394.7H1369V1396.7H1387V1388.7H1389V1389.7H1391V1396.7H1411V1393.2H1413V1396.7H1417V1395.7H1433V1396.2H1435V1395.7H1437V1392.2H1439V1393.2H1441V1393.7H1443V1393.2H1445V1381.7H1447V1390.7H1449V1388.7H1451V1387.7H1453V1384.7H1455V1379.7H1457V1384.2H1459V1388.2H1461V1379.2H1463V1377.7H1465V1372.7H1467V1360.7H1469V1390.7H1471V1372.7H1473V1391.2H1475V1384.7H1477V1390.7H1479V1387.2H1481V1390.2H1483V1384.7H1485V1391.2H1487V1387.2H1489V1390.7H1491V1376.2H1493V1372.7H1495V1377.7H1497V1390.2H1501V1389.7H1505V1390.2H1507V1377.2H1509V1375.7H1511V1390.7H1515V1391.2H1519V1389.7H1521V1385.2H1523V1389.2H1525V1391.2H1527V1389.2H1529V1389.7H1531V1387.2H1533V1388.7H1535V1371.2H1537V1386.7H1539V1384.2H1541V1391.7H1543V1390.7H1545V1389.7H1547V1383.7H1549V1391.7H1551V1390.7H1553V1391.7H1555V1388.7H1557V1381.7H1559V1390.7H1561V1391.2H1567V1384.7H1569V1381.7H1571V1389.2H1573V1390.7H1575V1388.2H1577V1386.2H1579V1390.2H1581V1385.7H1583V1390.7H1585V1383.2H1587V1379.2H1589V1388.2H1591V1372.7H1593V1388.2H1595V1384.2H1597V1389.2H1599V1384.7H1601V1389.2H1603V1391.2H1605V1382.2H1607V1390.7H1609V1387.2H1611V1382.7H1613V1389.7H1615V1390.2H1617V1386.7H1619V1390.2H1623V1390.7H1627V1372.7H1629V1380.2H1631V1383.7H1633V1370.2H1635V1388.7H1637V1390.7H1639V1386.7H1641V1380.2H1643V1382.7H1645V1390.7H1647V1386.2H1649V1387.7H1651V1389.7H1653V1376.7H1655V1383.2H1657V1378.2H1659V1385.7H1661V1384.7H1663V1374.2H1665V1385.7H1667V1384.2H1669V1386.7H1671V1390.7H1673V1384.7H1675V1386.2H1677V1389.7H1679V1392.2H1681V1387.7H1685V1389.2H1687V1390.2H1689V1396.2H1691V1396.7H1695V1393.7H1697V1396.7H1715V1393.7H1717V1396.7H1723V1394.7H1725V1396.7H1745V1394.7H1747V1396.7H1767V1393.7H1769V1396.7H1783V1395.2H1785V1396.7H1837V1392.2H1839V1396.7H1849V1395.2H1851V1396.7H1883V1396.7Z" fill="#626125"/>
<path d="M1246.5 1206.4H1884.3" stroke="#333" stroke-width="1.5"/>
<path d="M1246.5 1254.2H1884.3" stroke="#77763a" stroke-width="1.5"/>
<path d="M1246.5 1301.8H1884.3" stroke="#77763a" stroke-width="1.5"/>
<path d="M1246.5 1349.3H1884.3" stroke="#77763a" stroke-width="1.5"/>
<path d="M1246.5 1396.7H1884.3" stroke="#77763a" stroke-width="1.5"/>
<rect x="1246.5" y="1159.9" width="637.8" height="261.6" fill="none" stroke="#5a5a5a" stroke-width="1.4"/>
<text x="1252.3" y="1184.2" font-size="21.02">[0 - 12]</text>
<text x="1252.3" y="1232.0" font-size="21.02">[0 - 12]</text>
<text x="1252.3" y="1279.6" font-size="21.02">[0 - 12]</text>
<text x="1252.3" y="1326.8" font-size="21.02">[0 - 12]</text>
<text x="1252.3" y="1374.0" font-size="21.02">[0 - 12]</text>
<text x="1157.4" y="1203.8">IAA 0 h</text>
<text x="1157.4" y="1251.7">IAA 2 h</text>
<text x="1157.4" y="1300.8">IAA 4 h</text>
<text x="1157.4" y="1348.7">IAA 8 h</text>
<text x="1142.9" y="1397.6">IAA 24 h</text>
<path d="M1135.2 1188.7H1122.5V1393.3H1135.2" fill="none" stroke="#0a0606" stroke-width="2.5"/>
<g transform="translate(1075.2 1296.8) rotate(-90)"><text x="-73" y="0">NANOG-AID</text></g>
<g transform="translate(1107.4 1292.4) rotate(-90)"><text x="-103.6" y="0">Nascent RNA-seq</text></g>
<path d="M1396.3 1453H1471" stroke="#1b2d8c" stroke-width="1.4" opacity="0.85"/>
<path d="M1471 1453H1662" stroke="#1b2d8c" stroke-width="2"/>
<path d="M1396.8 1448.3V1457.7" stroke="#1b2d8c" stroke-width="1.5"/>
<path d="M1431.3 1448.3V1457.7" stroke="#1b2d8c" stroke-width="1.5"/>
<path d="M1446.5 1448.3V1457.7" stroke="#1b2d8c" stroke-width="1.5"/>
<path d="M1448.3 1448.3V1457.7" stroke="#1b2d8c" stroke-width="1.5"/>
<path d="M1450.7 1448.3V1457.7" stroke="#1b2d8c" stroke-width="1.5"/>
<path d="M1454.9 1448.3V1457.7" stroke="#1b2d8c" stroke-width="1.5"/>
<path d="M1462.3 1448.3V1457.7" stroke="#1b2d8c" stroke-width="1.5"/>
<rect x="1446" y="1448.3" width="3.2" height="9.4" fill="#1b2d8c"/>
<path d="M1416 1448.8L1411.8 1453L1416 1457.2Z" fill="#1b2d8c"/>
<rect x="1471.3" y="1444.8" width="7.3" height="17" fill="#1b2d8c"/>
<rect x="1502.2" y="1444.8" width="2.5" height="17" fill="#1b2d8c"/>
<rect x="1526.8" y="1444.8" width="2.0" height="17" fill="#1b2d8c"/>
<rect x="1535.8" y="1444.8" width="3.9" height="17" fill="#1b2d8c"/>
<rect x="1547" y="1444.8" width="1.8" height="17" fill="#1b2d8c"/>
<rect x="1659.2" y="1444.8" width="2.0" height="17" fill="#1b2d8c"/>
<rect x="1661" y="1448.3" width="6.3" height="9.4" fill="#1b2d8c"/>
<path d="M1489.3 1449.5L1491.8 1453L1489.3 1456.5" fill="none" stroke="#1b2d8c" stroke-width="1.4"/>
<path d="M1514.2 1449.5L1516.7 1453L1514.2 1456.5" fill="none" stroke="#1b2d8c" stroke-width="1.4"/>
<path d="M1549.1 1449.5L1551.6 1453L1549.1 1456.5" fill="none" stroke="#1b2d8c" stroke-width="1.4"/>
<path d="M1558.9 1449.5L1561.4 1453L1558.9 1456.5" fill="none" stroke="#1b2d8c" stroke-width="1.4"/>
<path d="M1579.1 1449.5L1581.6 1453L1579.1 1456.5" fill="none" stroke="#1b2d8c" stroke-width="1.4"/>
<path d="M1589.0 1449.5L1591.5 1453L1589.0 1456.5" fill="none" stroke="#1b2d8c" stroke-width="1.4"/>
<path d="M1609.2 1449.5L1611.7 1453L1609.2 1456.5" fill="none" stroke="#1b2d8c" stroke-width="1.4"/>
<path d="M1619.5 1449.5L1622 1453L1619.5 1456.5" fill="none" stroke="#1b2d8c" stroke-width="1.4"/>
<path d="M1640.0 1449.5L1642.5 1453L1640.0 1456.5" fill="none" stroke="#1b2d8c" stroke-width="1.4"/>
<path d="M1650.1 1449.5L1652.6 1453L1650.1 1456.5" fill="none" stroke="#1b2d8c" stroke-width="1.4"/>
<text x="1516.3" y="1501.5" font-style="italic">Gata6</text>
<path d="M1808.3 1439.4H1870.9" stroke="#0a0606" stroke-width="3.3"/>
<text x="1809.7" y="1478.5">10 kb</text>
</svg>
</body></html>
